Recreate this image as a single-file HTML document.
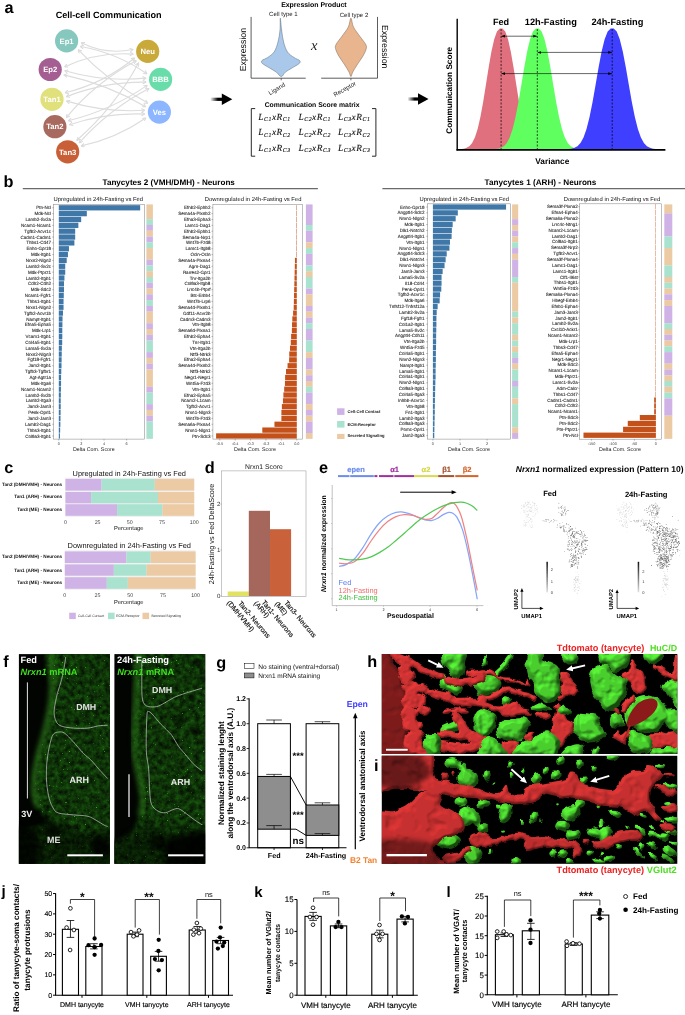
<!DOCTYPE html>
<html><head><meta charset="utf-8"><title>Figure</title>
<style>html,body{margin:0;padding:0;background:#fff}svg{display:block}text{font-family:"Liberation Sans",sans-serif;text-rendering:geometricPrecision}</style>
</head><body>
<svg style="opacity:0.999" width="685" height="1015" viewBox="0 0 685 1015" font-family="Liberation Sans, sans-serif">
<rect width="685" height="1015" fill="#fff"/>
<!-- pa -->
<text font-size="16.30" text-anchor="middle" font-weight="bold" x="9.00" y="12.71">a</text>
<text font-size="9.08" text-anchor="middle" font-weight="bold" x="108.60" y="17.78">Cell-cell Communication</text>
<defs><marker id="ah" viewBox="0 0 10 10" refX="8.6" refY="5" markerWidth="3.6" markerHeight="3.6" orient="auto-start-reverse"><path d="M1.5 0.8L9 5L1.5 9.2" fill="none" stroke="#DADADA" stroke-width="2.4" stroke-linecap="round" stroke-linejoin="round"/></marker></defs>
<g fill="none" stroke="#DCDCDC" stroke-width="1.15" marker-start="url(#ah)" marker-end="url(#ah)">
<path d="M81.3 42.8Q106.0 55.1 133.0 49.5"/>
<path d="M80.3 46.5Q116.6 52.7 146.9 73.8"/>
<path d="M78.3 49.9Q108.7 82.1 147.7 103.1"/>
<path d="M64.8 66.8Q97.3 51.6 133.1 54.1"/>
<path d="M64.9 70.8Q104.7 82.4 145.9 78.1"/>
<path d="M64.0 74.9Q107.3 84.3 145.6 106.7"/>
<path d="M65.2 92.7Q103.9 83.4 134.5 58.0"/>
<path d="M66.6 96.6Q104.9 81.5 146.0 82.1"/>
<path d="M66.7 101.1Q104.9 112.7 144.7 110.3"/>
<path d="M66.4 117.4Q95.6 82.1 136.2 60.7"/>
<path d="M68.4 120.7Q111.0 110.4 147.1 85.4"/>
<path d="M69.6 124.7Q106.2 112.5 144.7 114.1"/>
<path d="M76.9 140.2Q114.7 107.2 138.5 63.0"/>
<path d="M79.4 142.7Q109.2 109.3 148.9 88.5"/>
<path d="M81.3 145.9Q116.3 138.4 145.8 118.0"/>
</g>
<circle cx="66.60" cy="40.90" r="11.60" fill="#86C8BE" />
<text font-size="7.70" text-anchor="middle" font-weight="bold" fill="#fff" x="66.60" y="43.67">Ep1</text>
<circle cx="50.20" cy="69.50" r="11.60" fill="#A45E92" />
<text font-size="7.70" text-anchor="middle" font-weight="bold" fill="#fff" x="50.20" y="72.27">Ep2</text>
<circle cx="52.00" cy="99.30" r="11.60" fill="#E0E07C" />
<text font-size="7.70" text-anchor="middle" font-weight="bold" fill="#fff" x="52.00" y="102.07">Tan1</text>
<circle cx="54.90" cy="126.70" r="11.60" fill="#A86A5E" />
<text font-size="7.70" text-anchor="middle" font-weight="bold" fill="#fff" x="54.90" y="129.47">Tan2</text>
<circle cx="67.70" cy="151.80" r="11.60" fill="#C95F36" />
<text font-size="7.70" text-anchor="middle" font-weight="bold" fill="#fff" x="67.70" y="154.57">Tan3</text>
<circle cx="147.70" cy="51.40" r="11.60" fill="#C9A93A" />
<text font-size="7.70" text-anchor="middle" font-weight="bold" fill="#fff" x="147.70" y="54.17">Neu</text>
<circle cx="160.60" cy="79.40" r="11.60" fill="#68DDAA" />
<text font-size="7.70" text-anchor="middle" font-weight="bold" fill="#fff" x="160.60" y="82.17">BBB</text>
<circle cx="159.40" cy="112.10" r="11.60" fill="#8CB6FF" />
<text font-size="7.70" text-anchor="middle" font-weight="bold" fill="#fff" x="159.40" y="114.87">Ves</text>
<defs><linearGradient id="ag210" x1="0" x2="1"><stop offset="0" stop-color="#000" stop-opacity="0"/><stop offset="0.55" stop-color="#000" stop-opacity="1"/></linearGradient></defs><rect x="210.20" y="97.70" width="14.10" height="3.20" fill="url(#ag210)" /><path d="M221.8 93.5L232.3 99.3L221.8 105.1Z" fill="#000" />
<defs><linearGradient id="ag407" x1="0" x2="1"><stop offset="0" stop-color="#000" stop-opacity="0"/><stop offset="0.55" stop-color="#000" stop-opacity="1"/></linearGradient></defs><rect x="407.50" y="97.40" width="13.00" height="3.20" fill="url(#ag407)" /><path d="M418.0 93.2L428.5 99.0L418.0 104.8Z" fill="#000" />
<text font-size="6.95" text-anchor="middle" font-weight="bold" x="313.90" y="6.73">Expression Product</text>
<text font-size="6.05" text-anchor="middle" fill="#222" x="283.40" y="16.02">Cell type 1</text>
<text font-size="6.05" text-anchor="middle" fill="#222" x="354.00" y="16.52">Cell type 2</text>
<path d="M251.1 16.9V78.2H305.7" fill="none" stroke="#333" stroke-width="0.8" />
<path d="M321.2 78.2H377.5V16.9" fill="none" stroke="#333" stroke-width="0.8" />
<line x1="281.20" y1="78.20" x2="281.20" y2="80.30" stroke="#333" stroke-width="0.7" />
<line x1="350.90" y1="78.20" x2="350.90" y2="80.30" stroke="#333" stroke-width="0.7" />
<text font-size="8.80" text-anchor="middle" transform="translate(243.20 49.60) rotate(-90)" x="0" y="3.08">Expression</text>
<text font-size="8.80" text-anchor="middle" transform="translate(384.60 46.70) rotate(90)" x="0" y="3.08">Expression</text>
<path d="M280.30 18.10C280.57 18.10 281.05 26.02 281.60 30.00C282.15 33.98 282.62 38.33 283.60 42.00C284.58 45.67 285.77 49.42 287.50 52.00C289.23 54.58 291.98 56.08 294.00 57.50C296.02 58.92 298.73 59.50 299.60 60.50C300.47 61.50 300.47 62.25 299.20 63.50C297.93 64.75 294.28 66.58 292.00 68.00C289.72 69.42 287.28 70.57 285.50 72.00C283.72 73.43 282.87 76.60 281.30 76.60C279.73 76.60 278.05 73.43 276.10 72.00C274.15 70.57 271.88 69.42 269.60 68.00C267.32 66.58 263.67 64.75 262.40 63.50C261.13 62.25 261.13 61.50 262.00 60.50C262.87 59.50 265.58 58.92 267.60 57.50C269.62 56.08 272.37 54.58 274.10 52.00C275.83 49.42 277.02 45.67 278.00 42.00C278.98 38.33 279.62 33.98 280.00 30.00C280.38 26.02 280.03 18.10 280.30 18.10Z" fill="#A9C8EA" stroke="#5A6A7A" stroke-width="0.5" />
<path d="M350.90 18.10C351.77 18.10 351.98 23.93 353.50 27.00C355.02 30.07 358.00 33.67 360.00 36.50C362.00 39.33 364.45 42.00 365.50 44.00C366.55 46.00 366.72 46.50 366.30 48.50C365.88 50.50 364.55 53.25 363.00 56.00C361.45 58.75 358.70 62.33 357.00 65.00C355.30 67.67 353.82 70.07 352.80 72.00C351.78 73.93 351.53 76.60 350.90 76.60C350.27 76.60 350.02 73.93 349.00 72.00C347.98 70.07 346.50 67.67 344.80 65.00C343.10 62.33 340.35 58.75 338.80 56.00C337.25 53.25 335.92 50.50 335.50 48.50C335.08 46.50 335.25 46.00 336.30 44.00C337.35 42.00 339.80 39.33 341.80 36.50C343.80 33.67 346.78 30.07 348.30 27.00C349.82 23.93 350.03 18.10 350.90 18.10Z" fill="#E9B58E" stroke="#7A6656" stroke-width="0.5" />
<text font-size="14.50" text-anchor="middle" font-style="italic" fill="#222" style="font-family:'Liberation Serif'" x="314.30" y="50.28">x</text>
<text font-size="6.06" text-anchor="middle" fill="#222" transform="translate(276.80 88.70) rotate(-31)" x="0" y="2.12">Ligand</text>
<text font-size="6.11" text-anchor="middle" fill="#222" transform="translate(344.60 89.00) rotate(-30)" x="0" y="2.14">Receptor</text>
<text font-size="6.84" text-anchor="middle" font-weight="bold" x="312.10" y="106.99">Communication Score matrix</text>
<path d="M255.2 108.6H251.3V156.2H255.2" fill="none" stroke="#111" stroke-width="0.9" />
<path d="M372 108.6H375.9V156.2H372" fill="none" stroke="#111" stroke-width="0.9" />
<text letter-spacing="0.55" stroke="#111" stroke-width="0.12" font-size="9.30" text-anchor="middle" font-style="italic" fill="#111" style="font-family:'Liberation Serif'" x="274.50" y="119.66"><tspan>L</tspan><tspan font-size="5.8" dy="1.7">C1</tspan><tspan dy="-1.7">xR</tspan><tspan font-size="5.8" dy="1.7">C1</tspan></text>
<text letter-spacing="0.55" stroke="#111" stroke-width="0.12" font-size="9.30" text-anchor="middle" font-style="italic" fill="#111" style="font-family:'Liberation Serif'" x="314.70" y="119.66"><tspan>L</tspan><tspan font-size="5.8" dy="1.7">C2</tspan><tspan dy="-1.7">xR</tspan><tspan font-size="5.8" dy="1.7">C1</tspan></text>
<text letter-spacing="0.55" stroke="#111" stroke-width="0.12" font-size="9.30" text-anchor="middle" font-style="italic" fill="#111" style="font-family:'Liberation Serif'" x="354.20" y="119.66"><tspan>L</tspan><tspan font-size="5.8" dy="1.7">C3</tspan><tspan dy="-1.7">xR</tspan><tspan font-size="5.8" dy="1.7">C1</tspan></text>
<text letter-spacing="0.55" stroke="#111" stroke-width="0.12" font-size="9.30" text-anchor="middle" font-style="italic" fill="#111" style="font-family:'Liberation Serif'" x="274.50" y="135.25"><tspan>L</tspan><tspan font-size="5.8" dy="1.7">C1</tspan><tspan dy="-1.7">xR</tspan><tspan font-size="5.8" dy="1.7">C2</tspan></text>
<text letter-spacing="0.55" stroke="#111" stroke-width="0.12" font-size="9.30" text-anchor="middle" font-style="italic" fill="#111" style="font-family:'Liberation Serif'" x="314.70" y="135.25"><tspan>L</tspan><tspan font-size="5.8" dy="1.7">C2</tspan><tspan dy="-1.7">xR</tspan><tspan font-size="5.8" dy="1.7">C2</tspan></text>
<text letter-spacing="0.55" stroke="#111" stroke-width="0.12" font-size="9.30" text-anchor="middle" font-style="italic" fill="#111" style="font-family:'Liberation Serif'" x="354.20" y="135.25"><tspan>L</tspan><tspan font-size="5.8" dy="1.7">C3</tspan><tspan dy="-1.7">xR</tspan><tspan font-size="5.8" dy="1.7">C2</tspan></text>
<text letter-spacing="0.55" stroke="#111" stroke-width="0.12" font-size="9.30" text-anchor="middle" font-style="italic" fill="#111" style="font-family:'Liberation Serif'" x="274.50" y="150.75"><tspan>L</tspan><tspan font-size="5.8" dy="1.7">C1</tspan><tspan dy="-1.7">xR</tspan><tspan font-size="5.8" dy="1.7">C3</tspan></text>
<text letter-spacing="0.55" stroke="#111" stroke-width="0.12" font-size="9.30" text-anchor="middle" font-style="italic" fill="#111" style="font-family:'Liberation Serif'" x="314.70" y="150.75"><tspan>L</tspan><tspan font-size="5.8" dy="1.7">C2</tspan><tspan dy="-1.7">xR</tspan><tspan font-size="5.8" dy="1.7">C3</tspan></text>
<text letter-spacing="0.55" stroke="#111" stroke-width="0.12" font-size="9.30" text-anchor="middle" font-style="italic" fill="#111" style="font-family:'Liberation Serif'" x="354.20" y="150.75"><tspan>L</tspan><tspan font-size="5.8" dy="1.7">C3</tspan><tspan dy="-1.7">xR</tspan><tspan font-size="5.8" dy="1.7">C3</tspan></text>
<text font-size="9.11" text-anchor="middle" font-weight="bold" x="501.00" y="24.69">Fed</text>
<text font-size="9.27" text-anchor="middle" font-weight="bold" x="550.80" y="24.74">12h-Fasting</text>
<text font-size="9.27" text-anchor="middle" font-weight="bold" x="617.40" y="24.74">24h-Fasting</text>
<path d="M458.32 149.20L458.32 149.14L461.08 149.01L463.84 148.67L466.60 147.87L469.36 146.18L472.12 142.98L474.88 137.48L477.64 128.95L480.40 117.00L483.16 101.90L485.92 84.71L488.68 67.20L491.44 51.44L494.20 39.23L496.96 31.61L499.72 28.54L502.48 28.54L505.24 31.61L508.00 39.23L510.76 51.44L513.52 67.20L516.28 84.71L519.04 101.90L521.80 117.00L524.56 128.95L527.32 137.48L530.08 142.98L532.84 146.18L535.60 147.87L538.36 148.67L541.12 149.01L543.88 149.14L543.88 149.20Z" fill="#E0707E" />
<path d="M492.35 149.20L492.35 149.14L495.25 149.01L498.15 148.67L501.05 147.87L503.95 146.18L506.85 142.98L509.75 137.48L512.65 128.95L515.55 117.00L518.45 101.90L521.35 84.71L524.25 67.20L527.15 51.44L530.05 39.23L532.95 31.61L535.85 28.54L538.75 28.54L541.65 31.61L544.55 39.23L547.45 51.44L550.35 67.20L553.25 84.71L556.15 101.90L559.05 117.00L561.95 128.95L564.85 137.48L567.75 142.98L570.65 146.18L573.55 147.87L576.45 148.67L579.35 149.01L582.25 149.14L582.25 149.20Z" fill="#60FF60" />
<path d="M565.39 149.20L565.39 149.14L568.41 149.01L571.43 148.67L574.45 147.87L577.47 146.18L580.49 142.98L583.51 137.48L586.53 128.95L589.55 117.00L592.57 101.90L595.59 84.71L598.61 67.20L601.63 51.44L604.65 39.23L607.67 31.61L610.69 28.54L613.71 28.54L616.73 31.61L619.75 39.23L622.77 51.44L625.79 67.20L628.81 84.71L631.83 101.90L634.85 117.00L637.87 128.95L640.89 137.48L643.91 142.98L646.93 146.18L649.95 147.87L652.97 148.67L655.99 149.01L659.01 149.14L659.01 149.20Z" fill="#3F3FFF" />
<line x1="501.10" y1="29.00" x2="501.10" y2="149.00" stroke="#000" stroke-width="0.7" stroke-dasharray="2 1.5"/>
<line x1="537.30" y1="29.00" x2="537.30" y2="149.00" stroke="#000" stroke-width="0.7" stroke-dasharray="2 1.5"/>
<line x1="612.20" y1="29.00" x2="612.20" y2="149.00" stroke="#000" stroke-width="0.7" stroke-dasharray="2 1.5"/>
<defs><marker id="ab" viewBox="0 0 10 10" refX="9" refY="5" markerWidth="6.5" markerHeight="6.5" orient="auto-start-reverse"><path d="M0 1.5L10 5L0 8.5Z" fill="#000"/></marker></defs>
<line x1="501.60" y1="36.20" x2="536.80" y2="36.20" stroke="#000" stroke-width="0.6" marker-start="url(#ab)" marker-end="url(#ab)"/>
<line x1="537.80" y1="52.40" x2="611.70" y2="52.40" stroke="#000" stroke-width="0.6" marker-start="url(#ab)" marker-end="url(#ab)"/>
<line x1="501.60" y1="73.60" x2="611.70" y2="73.60" stroke="#000" stroke-width="0.6" marker-start="url(#ab)" marker-end="url(#ab)"/>
<line x1="457.20" y1="18.70" x2="457.20" y2="150.60" stroke="#000" stroke-width="1.4" />
<line x1="456.50" y1="149.90" x2="665.40" y2="149.90" stroke="#000" stroke-width="1.8" />
<text font-size="8.20" text-anchor="middle" font-weight="bold" transform="translate(449.30 90.30) rotate(-90)" x="0" y="2.87">Communication Score</text>
<text font-size="8.29" text-anchor="middle" font-weight="bold" x="552.30" y="164.10">Variance</text>
<!-- pb -->
<text font-size="16.30" text-anchor="middle" font-weight="bold" x="8.60" y="186.71">b</text>
<text font-size="8.12" text-anchor="middle" font-weight="bold" x="168.70" y="184.74">Tanycytes 2 (VMH/DMH) - Neurons</text>
<line x1="22.80" y1="188.60" x2="317.90" y2="188.60" stroke="#6A6A6A" stroke-width="1.1" />
<text font-size="8.17" text-anchor="middle" font-weight="bold" x="540.50" y="184.76">Tanycytes 1 (ARH) - Neurons</text>
<line x1="382.40" y1="188.60" x2="685.00" y2="188.60" stroke="#6A6A6A" stroke-width="1.1" />
<text font-size="5.83" text-anchor="middle" fill="#111" x="98.30" y="200.94">Upregulated in 24h-Fasting vs Fed</text>
<rect x="53.60" y="204.30" width="90.90" height="234.80" fill="#fff" stroke="#8A8A8A" stroke-width="0.55" />
<g fill="#3F78A8">
<rect x="58.80" y="205.17" width="81.36" height="5.26"/>
<rect x="58.80" y="211.02" width="28.02" height="5.26"/>
<rect x="58.80" y="216.87" width="22.37" height="5.26"/>
<rect x="58.80" y="222.72" width="19.55" height="5.26"/>
<rect x="58.80" y="228.57" width="16.39" height="5.26"/>
<rect x="58.80" y="234.42" width="16.39" height="5.26"/>
<rect x="58.80" y="240.27" width="15.59" height="5.26"/>
<rect x="58.80" y="246.12" width="10.17" height="5.26"/>
<rect x="58.80" y="251.97" width="9.15" height="5.26"/>
<rect x="58.80" y="257.82" width="7.91" height="5.26"/>
<rect x="58.80" y="263.67" width="6.44" height="5.26"/>
<rect x="58.80" y="269.52" width="6.44" height="5.26"/>
<rect x="58.80" y="275.37" width="5.65" height="5.26"/>
<rect x="58.80" y="281.22" width="5.20" height="5.26"/>
<rect x="58.80" y="287.07" width="5.20" height="5.26"/>
<rect x="58.80" y="292.92" width="4.97" height="5.26"/>
<rect x="58.80" y="298.77" width="4.75" height="5.26"/>
<rect x="58.80" y="304.62" width="4.75" height="5.26"/>
<rect x="58.80" y="310.47" width="4.18" height="5.26"/>
<rect x="58.80" y="316.32" width="3.73" height="5.26"/>
<rect x="58.80" y="322.17" width="3.62" height="5.26"/>
<rect x="58.80" y="328.02" width="3.50" height="5.26"/>
<rect x="58.80" y="333.87" width="3.50" height="5.26"/>
<rect x="58.80" y="339.72" width="3.39" height="5.26"/>
<rect x="58.80" y="345.57" width="3.05" height="5.26"/>
<rect x="58.80" y="351.42" width="2.94" height="5.26"/>
<rect x="58.80" y="357.27" width="2.83" height="5.26"/>
<rect x="58.80" y="363.12" width="2.71" height="5.26"/>
<rect x="58.80" y="368.97" width="2.49" height="5.26"/>
<rect x="58.80" y="374.82" width="2.26" height="5.26"/>
<rect x="58.80" y="380.67" width="2.26" height="5.26"/>
<rect x="58.80" y="386.52" width="2.15" height="5.26"/>
<rect x="58.80" y="392.37" width="2.03" height="5.26"/>
<rect x="58.80" y="398.22" width="1.92" height="5.26"/>
<rect x="58.80" y="404.07" width="1.92" height="5.26"/>
<rect x="58.80" y="409.92" width="1.81" height="5.26"/>
<rect x="58.80" y="415.77" width="1.70" height="5.26"/>
<rect x="58.80" y="421.62" width="1.58" height="5.26"/>
<rect x="58.80" y="427.47" width="1.36" height="5.26"/>
<rect x="58.80" y="433.32" width="1.13" height="5.26"/>
</g>
<g font-size="4.5" text-anchor="end" fill="#2E2E2E" stroke="#2E2E2E" stroke-width="0.1">
<text x="51.00" y="209.35">Ptn-Ncl</text>
<text x="51.00" y="215.20">Mdk-Ncl</text>
<text x="51.00" y="221.05">Lamb2-Sv2a</text>
<text x="51.00" y="226.90">Ncam1-Ncam1</text>
<text x="51.00" y="232.75">Tgfb2-Acvr1c</text>
<text x="51.00" y="238.60">Cadm1-Cadm1</text>
<text x="51.00" y="244.45">Thbs1-Cd47</text>
<text x="51.00" y="250.30">Enho-Gpr19</text>
<text x="51.00" y="256.15">Mdk-Itgb1</text>
<text x="51.00" y="262.00">Nrxn2-Nlgn2</text>
<text x="51.00" y="267.85">Lamb2-Sv2c</text>
<text x="51.00" y="273.70">Mdk-Ptprz1</text>
<text x="51.00" y="279.55">Lamb2-Itgb1</text>
<text x="51.00" y="285.40">Cdh2-Cdh2</text>
<text x="51.00" y="291.25">Mdk-Sdc2</text>
<text x="51.00" y="297.10">Ncam1-Fgfr1</text>
<text x="51.00" y="302.95">Thbs1-Itgb1</text>
<text x="51.00" y="308.80">Nrxn1-Nlgn2</text>
<text x="51.00" y="314.65">Tgfb2-Acvr1b</text>
<text x="51.00" y="320.50">Nampt-Itgb1</text>
<text x="51.00" y="326.35">Efna5-Epha5</text>
<text x="51.00" y="332.20">Mdk-Lrp1</text>
<text x="51.00" y="338.05">Vcam1-Itgb1</text>
<text x="51.00" y="343.90">Col4a5-Itgb1</text>
<text x="51.00" y="349.75">Lama5-Sv2a</text>
<text x="51.00" y="355.60">Nrxn2-Nlgn3</text>
<text x="51.00" y="361.45">Fgf18-Fgfr1</text>
<text x="51.00" y="367.30">Jam2-Itgb1</text>
<text x="51.00" y="373.15">Tgfb3-Tgfbr1</text>
<text x="51.00" y="379.00">Agt-Agtr1a</text>
<text x="51.00" y="384.85">Mdk-Itga6</text>
<text x="51.00" y="390.70">Ncam1-Ncam2</text>
<text x="51.00" y="396.55">Lamb2-Sv2b</text>
<text x="51.00" y="402.40">Lamb2-Itga3</text>
<text x="51.00" y="408.25">Jam3-Jam3</text>
<text x="51.00" y="414.10">Penk-Oprl1</text>
<text x="51.00" y="419.95">Jam2-Jam3</text>
<text x="51.00" y="425.80">Lamb2-Dag1</text>
<text x="51.00" y="431.65">Thbs3-Itgb1</text>
<text x="51.00" y="437.50">Col9a3-Itgb1</text>
</g>
<g stroke="#555" stroke-width="0.4">
<path d="M53.60 207.80h-1.4"/>
<path d="M53.60 213.65h-1.4"/>
<path d="M53.60 219.50h-1.4"/>
<path d="M53.60 225.35h-1.4"/>
<path d="M53.60 231.20h-1.4"/>
<path d="M53.60 237.05h-1.4"/>
<path d="M53.60 242.90h-1.4"/>
<path d="M53.60 248.75h-1.4"/>
<path d="M53.60 254.60h-1.4"/>
<path d="M53.60 260.45h-1.4"/>
<path d="M53.60 266.30h-1.4"/>
<path d="M53.60 272.15h-1.4"/>
<path d="M53.60 278.00h-1.4"/>
<path d="M53.60 283.85h-1.4"/>
<path d="M53.60 289.70h-1.4"/>
<path d="M53.60 295.55h-1.4"/>
<path d="M53.60 301.40h-1.4"/>
<path d="M53.60 307.25h-1.4"/>
<path d="M53.60 313.10h-1.4"/>
<path d="M53.60 318.95h-1.4"/>
<path d="M53.60 324.80h-1.4"/>
<path d="M53.60 330.65h-1.4"/>
<path d="M53.60 336.50h-1.4"/>
<path d="M53.60 342.35h-1.4"/>
<path d="M53.60 348.20h-1.4"/>
<path d="M53.60 354.05h-1.4"/>
<path d="M53.60 359.90h-1.4"/>
<path d="M53.60 365.75h-1.4"/>
<path d="M53.60 371.60h-1.4"/>
<path d="M53.60 377.45h-1.4"/>
<path d="M53.60 383.30h-1.4"/>
<path d="M53.60 389.15h-1.4"/>
<path d="M53.60 395.00h-1.4"/>
<path d="M53.60 400.85h-1.4"/>
<path d="M53.60 406.70h-1.4"/>
<path d="M53.60 412.55h-1.4"/>
<path d="M53.60 418.40h-1.4"/>
<path d="M53.60 424.25h-1.4"/>
<path d="M53.60 430.10h-1.4"/>
<path d="M53.60 435.95h-1.4"/>
<path d="M58.80 439.10v1.4"/>
<path d="M81.40 439.10v1.4"/>
<path d="M104.00 439.10v1.4"/>
<path d="M126.60 439.10v1.4"/>
</g>
<text font-size="3.80" text-anchor="middle" fill="#444" x="58.80" y="444.73">0</text>
<text font-size="3.80" text-anchor="middle" fill="#444" x="81.40" y="444.73">2</text>
<text font-size="3.80" text-anchor="middle" fill="#444" x="104.00" y="444.73">4</text>
<text font-size="3.80" text-anchor="middle" fill="#444" x="126.60" y="444.73">6</text>
<text font-size="5.30" text-anchor="middle" fill="#222" x="93.80" y="451.46">Delta Com. Score</text>
<rect x="146.40" y="204.40" width="6.50" height="14.81" fill="#EBCAA4" />
<rect x="146.40" y="219.16" width="6.50" height="5.83" fill="#A9E2CF" />
<rect x="146.40" y="224.94" width="6.50" height="5.83" fill="#D0B3E6" />
<rect x="146.40" y="230.72" width="6.50" height="5.83" fill="#EBCAA4" />
<rect x="146.40" y="236.50" width="6.50" height="5.83" fill="#D0B3E6" />
<rect x="146.40" y="242.28" width="6.50" height="5.83" fill="#A9E2CF" />
<rect x="146.40" y="248.06" width="6.50" height="11.61" fill="#EBCAA4" />
<rect x="146.40" y="259.62" width="6.50" height="5.83" fill="#D0B3E6" />
<rect x="146.40" y="265.40" width="6.50" height="5.83" fill="#A9E2CF" />
<rect x="146.40" y="271.18" width="6.50" height="5.83" fill="#EBCAA4" />
<rect x="146.40" y="276.96" width="6.50" height="5.83" fill="#A9E2CF" />
<rect x="146.40" y="282.74" width="6.50" height="5.83" fill="#D0B3E6" />
<rect x="146.40" y="288.52" width="6.50" height="5.83" fill="#EBCAA4" />
<rect x="146.40" y="294.30" width="6.50" height="5.83" fill="#D0B3E6" />
<rect x="146.40" y="300.08" width="6.50" height="5.83" fill="#A9E2CF" />
<rect x="146.40" y="305.86" width="6.50" height="5.83" fill="#D0B3E6" />
<rect x="146.40" y="311.64" width="6.50" height="11.61" fill="#EBCAA4" />
<rect x="146.40" y="323.20" width="6.50" height="5.83" fill="#D0B3E6" />
<rect x="146.40" y="328.98" width="6.50" height="5.83" fill="#EBCAA4" />
<rect x="146.40" y="334.76" width="6.50" height="5.83" fill="#D0B3E6" />
<rect x="146.40" y="340.54" width="6.50" height="11.61" fill="#A9E2CF" />
<rect x="146.40" y="352.10" width="6.50" height="5.83" fill="#D0B3E6" />
<rect x="146.40" y="357.88" width="6.50" height="5.83" fill="#EBCAA4" />
<rect x="146.40" y="363.66" width="6.50" height="5.83" fill="#D0B3E6" />
<rect x="146.40" y="369.44" width="6.50" height="17.39" fill="#EBCAA4" />
<rect x="146.40" y="386.78" width="6.50" height="5.83" fill="#D0B3E6" />
<rect x="146.40" y="392.56" width="6.50" height="11.61" fill="#A9E2CF" />
<rect x="146.40" y="404.12" width="6.50" height="5.83" fill="#D0B3E6" />
<rect x="146.40" y="409.90" width="6.50" height="5.83" fill="#EBCAA4" />
<rect x="146.40" y="415.68" width="6.50" height="5.83" fill="#D0B3E6" />
<rect x="146.40" y="421.46" width="6.50" height="17.39" fill="#A9E2CF" />
<text font-size="5.82" text-anchor="middle" fill="#111" x="253.10" y="200.94">Downregulated in 24h-Fasting vs Fed</text>
<rect x="212.90" y="204.30" width="89.60" height="234.80" fill="#fff" stroke="#8A8A8A" stroke-width="0.55" />
<g fill="#C4501A">
<rect x="296.34" y="205.17" width="0.46" height="5.26"/>
<rect x="296.34" y="211.02" width="0.46" height="5.26"/>
<rect x="296.34" y="216.87" width="0.46" height="5.26"/>
<rect x="296.34" y="222.72" width="0.46" height="5.26"/>
<rect x="296.34" y="228.57" width="0.46" height="5.26"/>
<rect x="296.34" y="234.42" width="0.46" height="5.26"/>
<rect x="296.34" y="240.27" width="0.46" height="5.26"/>
<rect x="296.34" y="246.12" width="0.46" height="5.26"/>
<rect x="296.34" y="251.97" width="0.46" height="5.26"/>
<rect x="294.95" y="257.82" width="1.85" height="5.26"/>
<rect x="294.80" y="263.67" width="2.00" height="5.26"/>
<rect x="294.64" y="269.52" width="2.16" height="5.26"/>
<rect x="294.49" y="275.37" width="2.31" height="5.26"/>
<rect x="294.34" y="281.22" width="2.46" height="5.26"/>
<rect x="294.18" y="287.07" width="2.62" height="5.26"/>
<rect x="294.03" y="292.92" width="2.77" height="5.26"/>
<rect x="293.87" y="298.77" width="2.93" height="5.26"/>
<rect x="293.72" y="304.62" width="3.08" height="5.26"/>
<rect x="293.10" y="310.47" width="3.70" height="5.26"/>
<rect x="292.33" y="316.32" width="4.47" height="5.26"/>
<rect x="292.03" y="322.17" width="4.77" height="5.26"/>
<rect x="291.87" y="328.02" width="4.93" height="5.26"/>
<rect x="291.10" y="333.87" width="5.70" height="5.26"/>
<rect x="290.79" y="339.72" width="6.01" height="5.26"/>
<rect x="290.02" y="345.57" width="6.78" height="5.26"/>
<rect x="289.25" y="351.42" width="7.55" height="5.26"/>
<rect x="289.10" y="357.27" width="7.70" height="5.26"/>
<rect x="287.56" y="363.12" width="9.24" height="5.26"/>
<rect x="286.02" y="368.97" width="10.78" height="5.26"/>
<rect x="285.10" y="374.82" width="11.70" height="5.26"/>
<rect x="284.94" y="380.67" width="11.86" height="5.26"/>
<rect x="284.17" y="386.52" width="12.63" height="5.26"/>
<rect x="283.40" y="392.37" width="13.40" height="5.26"/>
<rect x="282.94" y="398.22" width="13.86" height="5.26"/>
<rect x="281.86" y="404.07" width="14.94" height="5.26"/>
<rect x="281.40" y="409.92" width="15.40" height="5.26"/>
<rect x="281.40" y="415.77" width="15.40" height="5.26"/>
<rect x="274.47" y="421.62" width="22.33" height="5.26"/>
<rect x="262.30" y="427.47" width="34.50" height="5.26"/>
<rect x="216.10" y="433.32" width="80.70" height="5.26"/>
</g>
<g font-size="4.5" text-anchor="end" fill="#2E2E2E" stroke="#2E2E2E" stroke-width="0.1">
<text x="210.40" y="209.35">Efnb2-Ephb2</text>
<text x="210.40" y="215.20">Sema4a-Plxnb2</text>
<text x="210.40" y="221.05">Efna3-Epha3</text>
<text x="210.40" y="226.90">Lamc1-Dag1</text>
<text x="210.40" y="232.75">Efnb2-Ephb1</text>
<text x="210.40" y="238.60">Sema4a-Nrp1</text>
<text x="210.40" y="244.45">Wnt7b-Fzd8</text>
<text x="210.40" y="250.30">Lamc1-Itgb8</text>
<text x="210.40" y="256.15">Ocln-Ocln</text>
<text x="210.40" y="262.00">Sema4a-Plxna4</text>
<text x="210.40" y="267.85">Agrn-Dag1</text>
<text x="210.40" y="273.70">Rarres2-Gpr1</text>
<text x="210.40" y="279.55">Tnr-Itga2b</text>
<text x="210.40" y="285.40">Col9a3-Itgb8</text>
<text x="210.40" y="291.25">Lrrc4b-Ptprf</text>
<text x="210.40" y="297.10">Btc-Erbb4</text>
<text x="210.40" y="302.95">Wnt7b-Lrp6</text>
<text x="210.40" y="308.80">Sema4d-Plxnb1</text>
<text x="210.40" y="314.65">Gdf11-Acvr2b</text>
<text x="210.40" y="320.50">Cadm3-Cadm3</text>
<text x="210.40" y="326.35">Vtn-Itgb8</text>
<text x="210.40" y="332.20">Sema6d-Plxna1</text>
<text x="210.40" y="338.05">Efnb2-Epha4</text>
<text x="210.40" y="343.90">Tnr-Itgb1</text>
<text x="210.40" y="349.75">Vtn-Itga2b</text>
<text x="210.40" y="355.60">Ntf3-Ntrk3</text>
<text x="210.40" y="361.45">Efna2-Epha4</text>
<text x="210.40" y="367.30">Sema4d-Plxnb2</text>
<text x="210.40" y="373.15">Ntf3-Ntrk2</text>
<text x="210.40" y="379.00">Negr1-Negr1</text>
<text x="210.40" y="384.85">Wnt5a-Fzd3</text>
<text x="210.40" y="390.70">Vtn-Itgb1</text>
<text x="210.40" y="396.55">Efna2-Epha5</text>
<text x="210.40" y="402.40">Ncam2-L1cam</text>
<text x="210.40" y="408.25">Tgfb2-Acvr1</text>
<text x="210.40" y="414.10">Nrxn1-Nlgn3</text>
<text x="210.40" y="419.95">Wnt7b-Fzd3</text>
<text x="210.40" y="425.80">Sema6a-Plxna4</text>
<text x="210.40" y="431.65">Nrxn1-Nlgn1</text>
<text x="210.40" y="437.50">Ptn-Sdc3</text>
</g>
<g stroke="#555" stroke-width="0.4">
<path d="M212.90 207.80h-1.4"/>
<path d="M212.90 213.65h-1.4"/>
<path d="M212.90 219.50h-1.4"/>
<path d="M212.90 225.35h-1.4"/>
<path d="M212.90 231.20h-1.4"/>
<path d="M212.90 237.05h-1.4"/>
<path d="M212.90 242.90h-1.4"/>
<path d="M212.90 248.75h-1.4"/>
<path d="M212.90 254.60h-1.4"/>
<path d="M212.90 260.45h-1.4"/>
<path d="M212.90 266.30h-1.4"/>
<path d="M212.90 272.15h-1.4"/>
<path d="M212.90 278.00h-1.4"/>
<path d="M212.90 283.85h-1.4"/>
<path d="M212.90 289.70h-1.4"/>
<path d="M212.90 295.55h-1.4"/>
<path d="M212.90 301.40h-1.4"/>
<path d="M212.90 307.25h-1.4"/>
<path d="M212.90 313.10h-1.4"/>
<path d="M212.90 318.95h-1.4"/>
<path d="M212.90 324.80h-1.4"/>
<path d="M212.90 330.65h-1.4"/>
<path d="M212.90 336.50h-1.4"/>
<path d="M212.90 342.35h-1.4"/>
<path d="M212.90 348.20h-1.4"/>
<path d="M212.90 354.05h-1.4"/>
<path d="M212.90 359.90h-1.4"/>
<path d="M212.90 365.75h-1.4"/>
<path d="M212.90 371.60h-1.4"/>
<path d="M212.90 377.45h-1.4"/>
<path d="M212.90 383.30h-1.4"/>
<path d="M212.90 389.15h-1.4"/>
<path d="M212.90 395.00h-1.4"/>
<path d="M212.90 400.85h-1.4"/>
<path d="M212.90 406.70h-1.4"/>
<path d="M212.90 412.55h-1.4"/>
<path d="M212.90 418.40h-1.4"/>
<path d="M212.90 424.25h-1.4"/>
<path d="M212.90 430.10h-1.4"/>
<path d="M212.90 435.95h-1.4"/>
<path d="M296.80 439.10v1.4"/>
<path d="M281.40 439.10v1.4"/>
<path d="M266.00 439.10v1.4"/>
<path d="M250.60 439.10v1.4"/>
<path d="M235.20 439.10v1.4"/>
<path d="M219.80 439.10v1.4"/>
</g>
<text font-size="3.80" text-anchor="middle" fill="#444" x="296.80" y="444.73">0.0</text>
<text font-size="3.80" text-anchor="middle" fill="#444" x="281.40" y="444.73">-0.1</text>
<text font-size="3.80" text-anchor="middle" fill="#444" x="266.00" y="444.73">-0.2</text>
<text font-size="3.80" text-anchor="middle" fill="#444" x="250.60" y="444.73">-0.3</text>
<text font-size="3.80" text-anchor="middle" fill="#444" x="235.20" y="444.73">-0.4</text>
<text font-size="3.80" text-anchor="middle" fill="#444" x="219.80" y="444.73">-0.5</text>
<text font-size="5.30" text-anchor="middle" fill="#222" x="255.00" y="451.46">Delta Com. Score</text>
<rect x="305.90" y="204.40" width="6.70" height="20.59" fill="#D0B3E6" />
<rect x="305.90" y="224.94" width="6.70" height="5.83" fill="#A9E2CF" />
<rect x="305.90" y="230.72" width="6.70" height="11.61" fill="#D0B3E6" />
<rect x="305.90" y="242.28" width="6.70" height="5.83" fill="#EBCAA4" />
<rect x="305.90" y="248.06" width="6.70" height="5.83" fill="#A9E2CF" />
<rect x="305.90" y="253.84" width="6.70" height="11.61" fill="#D0B3E6" />
<rect x="305.90" y="265.40" width="6.70" height="5.83" fill="#A9E2CF" />
<rect x="305.90" y="271.18" width="6.70" height="5.83" fill="#EBCAA4" />
<rect x="305.90" y="276.96" width="6.70" height="11.61" fill="#A9E2CF" />
<rect x="305.90" y="288.52" width="6.70" height="5.83" fill="#D0B3E6" />
<rect x="305.90" y="294.30" width="6.70" height="11.61" fill="#EBCAA4" />
<rect x="305.90" y="305.86" width="6.70" height="5.83" fill="#D0B3E6" />
<rect x="305.90" y="311.64" width="6.70" height="5.83" fill="#EBCAA4" />
<rect x="305.90" y="317.42" width="6.70" height="5.83" fill="#D0B3E6" />
<rect x="305.90" y="323.20" width="6.70" height="5.83" fill="#A9E2CF" />
<rect x="305.90" y="328.98" width="6.70" height="11.61" fill="#D0B3E6" />
<rect x="305.90" y="340.54" width="6.70" height="11.61" fill="#A9E2CF" />
<rect x="305.90" y="352.10" width="6.70" height="5.83" fill="#EBCAA4" />
<rect x="305.90" y="357.88" width="6.70" height="11.61" fill="#D0B3E6" />
<rect x="305.90" y="369.44" width="6.70" height="5.83" fill="#EBCAA4" />
<rect x="305.90" y="375.22" width="6.70" height="5.83" fill="#D0B3E6" />
<rect x="305.90" y="381.00" width="6.70" height="5.83" fill="#EBCAA4" />
<rect x="305.90" y="386.78" width="6.70" height="5.83" fill="#A9E2CF" />
<rect x="305.90" y="392.56" width="6.70" height="11.61" fill="#D0B3E6" />
<rect x="305.90" y="404.12" width="6.70" height="5.83" fill="#EBCAA4" />
<rect x="305.90" y="409.90" width="6.70" height="5.83" fill="#D0B3E6" />
<rect x="305.90" y="415.68" width="6.70" height="5.83" fill="#EBCAA4" />
<rect x="305.90" y="421.46" width="6.70" height="11.61" fill="#D0B3E6" />
<rect x="305.90" y="433.02" width="6.70" height="5.83" fill="#EBCAA4" />
<text font-size="5.83" text-anchor="middle" fill="#111" x="464.30" y="200.94">Upregulated in 24h-Fasting vs Fed</text>
<rect x="427.60" y="203.80" width="82.90" height="235.30" fill="#fff" stroke="#8A8A8A" stroke-width="0.55" />
<g fill="#3F78A8">
<rect x="432.90" y="204.36" width="73.17" height="5.27"/>
<rect x="432.90" y="210.22" width="24.93" height="5.27"/>
<rect x="432.90" y="216.08" width="22.76" height="5.27"/>
<rect x="432.90" y="221.94" width="19.78" height="5.27"/>
<rect x="432.90" y="227.80" width="18.97" height="5.27"/>
<rect x="432.90" y="233.66" width="18.70" height="5.27"/>
<rect x="432.90" y="239.52" width="17.07" height="5.27"/>
<rect x="432.90" y="245.38" width="16.53" height="5.27"/>
<rect x="432.90" y="251.24" width="13.82" height="5.27"/>
<rect x="432.90" y="257.10" width="12.74" height="5.27"/>
<rect x="432.90" y="262.96" width="11.65" height="5.27"/>
<rect x="432.90" y="268.82" width="9.76" height="5.27"/>
<rect x="432.90" y="274.68" width="8.67" height="5.27"/>
<rect x="432.90" y="280.54" width="8.67" height="5.27"/>
<rect x="432.90" y="286.40" width="8.40" height="5.27"/>
<rect x="432.90" y="292.26" width="7.18" height="5.27"/>
<rect x="432.90" y="298.12" width="6.77" height="5.27"/>
<rect x="432.90" y="303.98" width="4.74" height="5.27"/>
<rect x="432.90" y="309.84" width="3.79" height="5.27"/>
<rect x="432.90" y="315.70" width="3.52" height="5.27"/>
<rect x="432.90" y="321.56" width="3.52" height="5.27"/>
<rect x="432.90" y="327.42" width="3.39" height="5.27"/>
<rect x="432.90" y="333.28" width="3.25" height="5.27"/>
<rect x="432.90" y="339.14" width="3.25" height="5.27"/>
<rect x="432.90" y="345.00" width="3.12" height="5.27"/>
<rect x="432.90" y="350.86" width="2.98" height="5.27"/>
<rect x="432.90" y="356.72" width="2.98" height="5.27"/>
<rect x="432.90" y="362.58" width="2.85" height="5.27"/>
<rect x="432.90" y="368.44" width="2.71" height="5.27"/>
<rect x="432.90" y="374.30" width="2.71" height="5.27"/>
<rect x="432.90" y="380.16" width="2.44" height="5.27"/>
<rect x="432.90" y="386.02" width="2.30" height="5.27"/>
<rect x="432.90" y="391.88" width="2.17" height="5.27"/>
<rect x="432.90" y="397.74" width="2.03" height="5.27"/>
<rect x="432.90" y="403.60" width="1.90" height="5.27"/>
<rect x="432.90" y="409.46" width="1.90" height="5.27"/>
<rect x="432.90" y="415.32" width="1.76" height="5.27"/>
<rect x="432.90" y="421.18" width="1.63" height="5.27"/>
<rect x="432.90" y="427.04" width="1.49" height="5.27"/>
<rect x="432.90" y="432.90" width="1.36" height="5.27"/>
</g>
<g font-size="4.5" text-anchor="end" fill="#2E2E2E" stroke="#2E2E2E" stroke-width="0.1">
<text x="424.60" y="208.55">Enho-Gpr19</text>
<text x="424.60" y="214.41">Angptl4-Sdc2</text>
<text x="424.60" y="220.27">Nrxn1-Nlgn2</text>
<text x="424.60" y="226.13">Mdk-Itgb1</text>
<text x="424.60" y="231.99">Dlk1-Notch2</text>
<text x="424.60" y="237.85">Angptl4-Itgb1</text>
<text x="424.60" y="243.71">Vtn-Itgb1</text>
<text x="424.60" y="249.57">Nrxn1-Nlgn1</text>
<text x="424.60" y="255.43">Angptl4-Sdc3</text>
<text x="424.60" y="261.29">Dlk1-Notch4</text>
<text x="424.60" y="267.15">Nrxn1-Nlgn3</text>
<text x="424.60" y="273.01">Jam3-Jam3</text>
<text x="424.60" y="278.87">Lama5-Sv2a</text>
<text x="424.60" y="284.73">Il18-Cd44</text>
<text x="424.60" y="290.59">Penk-Oprl1</text>
<text x="424.60" y="296.45">Tgfb2-Acvr1c</text>
<text x="424.60" y="302.31">Mdk-Itga6</text>
<text x="424.60" y="308.17">Tnfsf12-Tnfrsf12a</text>
<text x="424.60" y="314.03">Lamb2-Sv2a</text>
<text x="424.60" y="319.89">Fgf18-Fgfr1</text>
<text x="424.60" y="325.75">Col1a2-Itgb1</text>
<text x="424.60" y="331.61">Lama5-Sv2c</text>
<text x="424.60" y="337.47">Angptl4-Cdh11</text>
<text x="424.60" y="343.33">Vtn-Itga2b</text>
<text x="424.60" y="349.19">Wnt5a-Fzd5</text>
<text x="424.60" y="355.05">Col4a5-Itgb1</text>
<text x="424.60" y="360.91">Nrxn2-Nlgn3</text>
<text x="424.60" y="366.77">Nampt-Itgb1</text>
<text x="424.60" y="372.63">Lama5-Itgb1</text>
<text x="424.60" y="378.49">Col4a1-Itgb1</text>
<text x="424.60" y="384.35">Nrxn2-Nlgn1</text>
<text x="424.60" y="390.21">Col9a3-Itgb1</text>
<text x="424.60" y="396.07">Col4a5-Itga3</text>
<text x="424.60" y="401.93">Inhbb-Acvr1c</text>
<text x="424.60" y="407.79">Vtn-Itgb8</text>
<text x="424.60" y="413.65">Fn1-Itgb1</text>
<text x="424.60" y="419.51">Lamb2-Itga3</text>
<text x="424.60" y="425.37">Col9a3-Itga3</text>
<text x="424.60" y="431.23">Pomc-Oprl1</text>
<text x="424.60" y="437.09">Jam2-Itga3</text>
</g>
<g stroke="#555" stroke-width="0.4">
<path d="M427.60 207.00h-1.4"/>
<path d="M427.60 212.86h-1.4"/>
<path d="M427.60 218.72h-1.4"/>
<path d="M427.60 224.58h-1.4"/>
<path d="M427.60 230.44h-1.4"/>
<path d="M427.60 236.30h-1.4"/>
<path d="M427.60 242.16h-1.4"/>
<path d="M427.60 248.02h-1.4"/>
<path d="M427.60 253.88h-1.4"/>
<path d="M427.60 259.74h-1.4"/>
<path d="M427.60 265.60h-1.4"/>
<path d="M427.60 271.46h-1.4"/>
<path d="M427.60 277.32h-1.4"/>
<path d="M427.60 283.18h-1.4"/>
<path d="M427.60 289.04h-1.4"/>
<path d="M427.60 294.90h-1.4"/>
<path d="M427.60 300.76h-1.4"/>
<path d="M427.60 306.62h-1.4"/>
<path d="M427.60 312.48h-1.4"/>
<path d="M427.60 318.34h-1.4"/>
<path d="M427.60 324.20h-1.4"/>
<path d="M427.60 330.06h-1.4"/>
<path d="M427.60 335.92h-1.4"/>
<path d="M427.60 341.78h-1.4"/>
<path d="M427.60 347.64h-1.4"/>
<path d="M427.60 353.50h-1.4"/>
<path d="M427.60 359.36h-1.4"/>
<path d="M427.60 365.22h-1.4"/>
<path d="M427.60 371.08h-1.4"/>
<path d="M427.60 376.94h-1.4"/>
<path d="M427.60 382.80h-1.4"/>
<path d="M427.60 388.66h-1.4"/>
<path d="M427.60 394.52h-1.4"/>
<path d="M427.60 400.38h-1.4"/>
<path d="M427.60 406.24h-1.4"/>
<path d="M427.60 412.10h-1.4"/>
<path d="M427.60 417.96h-1.4"/>
<path d="M427.60 423.82h-1.4"/>
<path d="M427.60 429.68h-1.4"/>
<path d="M427.60 435.54h-1.4"/>
<path d="M432.90 439.10v1.4"/>
<path d="M460.00 439.10v1.4"/>
<path d="M487.10 439.10v1.4"/>
</g>
<text font-size="3.80" text-anchor="middle" fill="#444" x="432.90" y="444.73">0</text>
<text font-size="3.80" text-anchor="middle" fill="#444" x="460.00" y="444.73">1</text>
<text font-size="3.80" text-anchor="middle" fill="#444" x="487.10" y="444.73">2</text>
<text font-size="5.30" text-anchor="middle" fill="#222" x="469.00" y="451.46">Delta Com. Score</text>
<rect x="512.10" y="204.40" width="6.10" height="14.81" fill="#EBCAA4" />
<rect x="512.10" y="219.16" width="6.10" height="5.83" fill="#D0B3E6" />
<rect x="512.10" y="224.94" width="6.10" height="5.83" fill="#EBCAA4" />
<rect x="512.10" y="230.72" width="6.10" height="5.83" fill="#D0B3E6" />
<rect x="512.10" y="236.50" width="6.10" height="5.83" fill="#EBCAA4" />
<rect x="512.10" y="242.28" width="6.10" height="5.83" fill="#A9E2CF" />
<rect x="512.10" y="248.06" width="6.10" height="5.83" fill="#D0B3E6" />
<rect x="512.10" y="253.84" width="6.10" height="5.83" fill="#EBCAA4" />
<rect x="512.10" y="259.62" width="6.10" height="17.39" fill="#D0B3E6" />
<rect x="512.10" y="276.96" width="6.10" height="5.83" fill="#A9E2CF" />
<rect x="512.10" y="282.74" width="6.10" height="28.95" fill="#EBCAA4" />
<rect x="512.10" y="311.64" width="6.10" height="5.83" fill="#A9E2CF" />
<rect x="512.10" y="317.42" width="6.10" height="5.83" fill="#EBCAA4" />
<rect x="512.10" y="323.20" width="6.10" height="11.61" fill="#A9E2CF" />
<rect x="512.10" y="334.76" width="6.10" height="5.83" fill="#EBCAA4" />
<rect x="512.10" y="340.54" width="6.10" height="5.83" fill="#A9E2CF" />
<rect x="512.10" y="346.32" width="6.10" height="5.83" fill="#EBCAA4" />
<rect x="512.10" y="352.10" width="6.10" height="5.83" fill="#A9E2CF" />
<rect x="512.10" y="357.88" width="6.10" height="5.83" fill="#D0B3E6" />
<rect x="512.10" y="363.66" width="6.10" height="5.83" fill="#EBCAA4" />
<rect x="512.10" y="369.44" width="6.10" height="11.61" fill="#A9E2CF" />
<rect x="512.10" y="381.00" width="6.10" height="5.83" fill="#D0B3E6" />
<rect x="512.10" y="386.78" width="6.10" height="11.61" fill="#A9E2CF" />
<rect x="512.10" y="398.34" width="6.10" height="5.83" fill="#EBCAA4" />
<rect x="512.10" y="404.12" width="6.10" height="23.17" fill="#A9E2CF" />
<rect x="512.10" y="427.24" width="6.10" height="5.83" fill="#EBCAA4" />
<rect x="512.10" y="433.02" width="6.10" height="5.83" fill="#D0B3E6" />
<text font-size="5.82" text-anchor="middle" fill="#111" x="612.00" y="200.94">Downregulated in 24h-Fasting vs Fed</text>
<rect x="579.60" y="203.80" width="81.90" height="235.40" fill="#fff" stroke="#8A8A8A" stroke-width="0.55" />
<g fill="#C4501A">
<rect x="655.51" y="204.06" width="0.39" height="5.27"/>
<rect x="655.51" y="209.92" width="0.39" height="5.27"/>
<rect x="655.51" y="215.78" width="0.39" height="5.27"/>
<rect x="655.51" y="221.64" width="0.39" height="5.27"/>
<rect x="655.51" y="227.50" width="0.39" height="5.27"/>
<rect x="655.51" y="233.36" width="0.39" height="5.27"/>
<rect x="655.51" y="239.22" width="0.39" height="5.27"/>
<rect x="655.51" y="245.08" width="0.39" height="5.27"/>
<rect x="655.51" y="250.94" width="0.39" height="5.27"/>
<rect x="655.51" y="256.80" width="0.39" height="5.27"/>
<rect x="655.51" y="262.66" width="0.39" height="5.27"/>
<rect x="655.51" y="268.52" width="0.39" height="5.27"/>
<rect x="655.51" y="274.38" width="0.39" height="5.27"/>
<rect x="655.51" y="280.24" width="0.39" height="5.27"/>
<rect x="655.51" y="286.10" width="0.39" height="5.27"/>
<rect x="655.51" y="291.96" width="0.39" height="5.27"/>
<rect x="655.51" y="297.82" width="0.39" height="5.27"/>
<rect x="655.51" y="303.68" width="0.39" height="5.27"/>
<rect x="655.51" y="309.54" width="0.39" height="5.27"/>
<rect x="655.51" y="315.40" width="0.39" height="5.27"/>
<rect x="655.51" y="321.26" width="0.39" height="5.27"/>
<rect x="655.51" y="327.12" width="0.39" height="5.27"/>
<rect x="655.51" y="332.98" width="0.39" height="5.27"/>
<rect x="655.51" y="338.84" width="0.39" height="5.27"/>
<rect x="655.51" y="344.70" width="0.39" height="5.27"/>
<rect x="655.51" y="350.56" width="0.39" height="5.27"/>
<rect x="655.51" y="356.42" width="0.39" height="5.27"/>
<rect x="655.51" y="362.28" width="0.39" height="5.27"/>
<rect x="655.51" y="368.14" width="0.39" height="5.27"/>
<rect x="655.51" y="374.00" width="0.39" height="5.27"/>
<rect x="655.51" y="379.86" width="0.39" height="5.27"/>
<rect x="655.51" y="385.72" width="0.39" height="5.27"/>
<rect x="655.51" y="391.58" width="0.39" height="5.27"/>
<rect x="654.18" y="397.44" width="1.72" height="5.27"/>
<rect x="654.18" y="403.30" width="1.72" height="5.27"/>
<rect x="654.18" y="409.16" width="1.72" height="5.27"/>
<rect x="639.81" y="415.02" width="16.09" height="5.27"/>
<rect x="627.76" y="420.88" width="28.14" height="5.27"/>
<rect x="623.08" y="426.74" width="32.82" height="5.27"/>
<rect x="583.48" y="432.60" width="72.42" height="5.27"/>
</g>
<g font-size="4.5" text-anchor="end" fill="#2E2E2E" stroke="#2E2E2E" stroke-width="0.1">
<text x="577.70" y="208.25">Sema3f-Plxna2</text>
<text x="577.70" y="214.11">Efna4-Epha4</text>
<text x="577.70" y="219.97">Sema6a-Plxna2</text>
<text x="577.70" y="225.83">Lrrc4c-Ntng1</text>
<text x="577.70" y="231.69">Ncam2-L1cam</text>
<text x="577.70" y="237.55">Lamb2-Dag1</text>
<text x="577.70" y="243.41">Col9a1-Itgb1</text>
<text x="577.70" y="249.27">Sema3f-Nrp2</text>
<text x="577.70" y="255.13">Tgfb2-Acvr1</text>
<text x="577.70" y="260.99">Sema3f-Plxna4</text>
<text x="577.70" y="266.85">Lamc1-Dag1</text>
<text x="577.70" y="272.71">Lamc1-Itgb1</text>
<text x="577.70" y="278.57">Clf1-Il6st</text>
<text x="577.70" y="284.43">Thbs1-Itgb1</text>
<text x="577.70" y="290.29">Wnt5a-Fzd3</text>
<text x="577.70" y="296.15">Sema6a-Plxna4</text>
<text x="577.70" y="302.01">Hbegf-Erbb4</text>
<text x="577.70" y="307.87">Efnb1-Epha4</text>
<text x="577.70" y="313.73">Jam3-Jam3</text>
<text x="577.70" y="319.59">Jam2-Itgb1</text>
<text x="577.70" y="325.45">Lamb2-Sv2a</text>
<text x="577.70" y="331.31">Cxcl10-Ackr1</text>
<text x="577.70" y="337.17">Ncam1-Ncam2</text>
<text x="577.70" y="343.03">Mdk-Lrp1</text>
<text x="577.70" y="348.89">Thbs3-Cd47</text>
<text x="577.70" y="354.75">Efna5-Epha4</text>
<text x="577.70" y="360.61">Negr1-Negr1</text>
<text x="577.70" y="366.47">Mdk-Sdc2</text>
<text x="577.70" y="372.33">Ncam1-L1cam</text>
<text x="577.70" y="378.19">Mdk-Ptprz1</text>
<text x="577.70" y="384.05">Lamc1-Sv2a</text>
<text x="577.70" y="389.91">Adm-Calcr</text>
<text x="577.70" y="395.77">Thbs1-Cd47</text>
<text x="577.70" y="401.63">Cadm1-Cadm1</text>
<text x="577.70" y="407.49">Cdh2-Cdh2</text>
<text x="577.70" y="413.35">Ncam1-Ncam1</text>
<text x="577.70" y="419.21">Ptn-Sdc3</text>
<text x="577.70" y="425.07">Ptn-Sdc2</text>
<text x="577.70" y="430.93">Ptn-Ptprz1</text>
<text x="577.70" y="436.79">Ptn-Ncl</text>
</g>
<g stroke="#555" stroke-width="0.4">
<path d="M579.60 206.70h-1.4"/>
<path d="M579.60 212.56h-1.4"/>
<path d="M579.60 218.42h-1.4"/>
<path d="M579.60 224.28h-1.4"/>
<path d="M579.60 230.14h-1.4"/>
<path d="M579.60 236.00h-1.4"/>
<path d="M579.60 241.86h-1.4"/>
<path d="M579.60 247.72h-1.4"/>
<path d="M579.60 253.58h-1.4"/>
<path d="M579.60 259.44h-1.4"/>
<path d="M579.60 265.30h-1.4"/>
<path d="M579.60 271.16h-1.4"/>
<path d="M579.60 277.02h-1.4"/>
<path d="M579.60 282.88h-1.4"/>
<path d="M579.60 288.74h-1.4"/>
<path d="M579.60 294.60h-1.4"/>
<path d="M579.60 300.46h-1.4"/>
<path d="M579.60 306.32h-1.4"/>
<path d="M579.60 312.18h-1.4"/>
<path d="M579.60 318.04h-1.4"/>
<path d="M579.60 323.90h-1.4"/>
<path d="M579.60 329.76h-1.4"/>
<path d="M579.60 335.62h-1.4"/>
<path d="M579.60 341.48h-1.4"/>
<path d="M579.60 347.34h-1.4"/>
<path d="M579.60 353.20h-1.4"/>
<path d="M579.60 359.06h-1.4"/>
<path d="M579.60 364.92h-1.4"/>
<path d="M579.60 370.78h-1.4"/>
<path d="M579.60 376.64h-1.4"/>
<path d="M579.60 382.50h-1.4"/>
<path d="M579.60 388.36h-1.4"/>
<path d="M579.60 394.22h-1.4"/>
<path d="M579.60 400.08h-1.4"/>
<path d="M579.60 405.94h-1.4"/>
<path d="M579.60 411.80h-1.4"/>
<path d="M579.60 417.66h-1.4"/>
<path d="M579.60 423.52h-1.4"/>
<path d="M579.60 429.38h-1.4"/>
<path d="M579.60 435.24h-1.4"/>
<path d="M655.90 439.20v1.4"/>
<path d="M634.45 439.20v1.4"/>
<path d="M613.00 439.20v1.4"/>
<path d="M591.55 439.20v1.4"/>
</g>
<text font-size="3.80" text-anchor="middle" fill="#444" x="655.90" y="444.73">0</text>
<text font-size="3.80" text-anchor="middle" fill="#444" x="634.45" y="444.73">-50</text>
<text font-size="3.80" text-anchor="middle" fill="#444" x="613.00" y="444.73">-100</text>
<text font-size="3.80" text-anchor="middle" fill="#444" x="591.55" y="444.73">-150</text>
<text font-size="5.30" text-anchor="middle" fill="#222" x="620.00" y="451.46">Delta Com. Score</text>
<rect x="664.30" y="204.40" width="8.00" height="9.03" fill="#EBCAA4" />
<rect x="664.30" y="213.38" width="8.00" height="23.17" fill="#D0B3E6" />
<rect x="664.30" y="236.50" width="8.00" height="11.61" fill="#A9E2CF" />
<rect x="664.30" y="248.06" width="8.00" height="17.39" fill="#EBCAA4" />
<rect x="664.30" y="265.40" width="8.00" height="11.61" fill="#A9E2CF" />
<rect x="664.30" y="276.96" width="8.00" height="5.83" fill="#EBCAA4" />
<rect x="664.30" y="282.74" width="8.00" height="5.83" fill="#A9E2CF" />
<rect x="664.30" y="288.52" width="8.00" height="5.83" fill="#EBCAA4" />
<rect x="664.30" y="294.30" width="8.00" height="5.83" fill="#D0B3E6" />
<rect x="664.30" y="300.08" width="8.00" height="5.83" fill="#EBCAA4" />
<rect x="664.30" y="305.86" width="8.00" height="17.39" fill="#D0B3E6" />
<rect x="664.30" y="323.20" width="8.00" height="5.83" fill="#A9E2CF" />
<rect x="664.30" y="328.98" width="8.00" height="5.83" fill="#EBCAA4" />
<rect x="664.30" y="334.76" width="8.00" height="5.83" fill="#D0B3E6" />
<rect x="664.30" y="340.54" width="8.00" height="5.83" fill="#EBCAA4" />
<rect x="664.30" y="346.32" width="8.00" height="5.83" fill="#A9E2CF" />
<rect x="664.30" y="352.10" width="8.00" height="11.61" fill="#D0B3E6" />
<rect x="664.30" y="363.66" width="8.00" height="5.83" fill="#EBCAA4" />
<rect x="664.30" y="369.44" width="8.00" height="5.83" fill="#D0B3E6" />
<rect x="664.30" y="375.22" width="8.00" height="5.83" fill="#EBCAA4" />
<rect x="664.30" y="381.00" width="8.00" height="5.83" fill="#A9E2CF" />
<rect x="664.30" y="386.78" width="8.00" height="5.83" fill="#EBCAA4" />
<rect x="664.30" y="392.56" width="8.00" height="5.83" fill="#A9E2CF" />
<rect x="664.30" y="398.34" width="8.00" height="17.39" fill="#D0B3E6" />
<rect x="664.30" y="415.68" width="8.00" height="23.17" fill="#EBCAA4" />
<rect x="337.10" y="408.30" width="7.40" height="6.60" fill="#D0B3E6" />
<text font-size="4.10" font-weight="bold" fill="#222" x="347.60" y="413.13">Cell-Cell Contact</text>
<rect x="337.10" y="421.00" width="7.40" height="6.60" fill="#A9E2CF" />
<text font-size="4.10" font-weight="bold" fill="#222" x="347.60" y="425.83">ECM-Receptor</text>
<rect x="337.10" y="433.90" width="7.40" height="5.10" fill="#EBCAA4" />
<text font-size="4.10" font-weight="bold" fill="#222" x="347.60" y="436.83">Secreted Signaling</text>
<!-- pc -->
<text font-size="16.30" text-anchor="middle" font-weight="bold" x="8.70" y="473.10">c</text>
<text font-size="7.40" text-anchor="middle" fill="#111" x="129.30" y="475.69">Upregulated in 24h-Fasting vs Fed</text>
<rect x="65.40" y="477.70" width="128.80" height="39.30" fill="#F1F1F1" />
<rect x="65.40" y="478.90" width="36.19" height="11.70" fill="#D0B3E6" />
<rect x="101.59" y="478.90" width="53.19" height="11.70" fill="#A9E2CF" />
<rect x="154.79" y="478.90" width="39.41" height="11.70" fill="#EBCAA4" />
<text font-size="4.68" text-anchor="end" font-weight="bold" fill="#111" x="62.20" y="485.54">Tan2 (DMH/VMH) - Neurons</text>
<rect x="65.40" y="492.00" width="25.76" height="11.30" fill="#D0B3E6" />
<rect x="91.16" y="492.00" width="66.85" height="11.30" fill="#A9E2CF" />
<rect x="158.01" y="492.00" width="36.19" height="11.30" fill="#EBCAA4" />
<text font-size="4.68" text-anchor="end" font-weight="bold" fill="#111" x="62.20" y="498.44">Tan1 (ARH) - Neurons</text>
<rect x="65.40" y="504.20" width="51.65" height="11.60" fill="#D0B3E6" />
<rect x="117.05" y="504.20" width="45.34" height="11.60" fill="#A9E2CF" />
<rect x="162.39" y="504.20" width="31.81" height="11.60" fill="#EBCAA4" />
<text font-size="4.68" text-anchor="end" font-weight="bold" fill="#111" x="62.20" y="511.14">Tan3 (ME) - Neurons</text>
<text font-size="5.30" text-anchor="middle" fill="#444" x="65.40" y="523.56">0</text>
<text font-size="5.30" text-anchor="middle" fill="#444" x="97.60" y="523.56">25</text>
<text font-size="5.30" text-anchor="middle" fill="#444" x="129.80" y="523.56">50</text>
<text font-size="5.30" text-anchor="middle" fill="#444" x="162.00" y="523.56">75</text>
<text font-size="5.30" text-anchor="middle" fill="#444" x="194.20" y="523.56">100</text>
<text font-size="5.75" text-anchor="middle" fill="#111" x="128.80" y="530.21">Percentage</text>
<text font-size="7.43" text-anchor="middle" fill="#111" x="129.30" y="548.10">Downregulated in 24h-Fasting vs Fed</text>
<rect x="64.80" y="550.20" width="130.80" height="39.80" fill="#F1F1F1" />
<rect x="64.80" y="551.40" width="61.61" height="11.60" fill="#D0B3E6" />
<rect x="126.41" y="551.40" width="24.20" height="11.60" fill="#A9E2CF" />
<rect x="150.60" y="551.40" width="45.00" height="11.60" fill="#EBCAA4" />
<text font-size="4.68" text-anchor="end" font-weight="bold" fill="#111" x="62.20" y="558.14">Tan2 (DMH/VMH) - Neurons</text>
<rect x="64.80" y="564.40" width="49.05" height="11.30" fill="#D0B3E6" />
<rect x="113.85" y="564.40" width="32.70" height="11.30" fill="#A9E2CF" />
<rect x="146.55" y="564.40" width="49.05" height="11.30" fill="#EBCAA4" />
<text font-size="4.68" text-anchor="end" font-weight="bold" fill="#111" x="62.20" y="571.54">Tan1 (ARH) - Neurons</text>
<rect x="64.80" y="577.20" width="41.99" height="11.60" fill="#D0B3E6" />
<rect x="106.79" y="577.20" width="21.06" height="11.60" fill="#A9E2CF" />
<rect x="127.85" y="577.20" width="67.75" height="11.60" fill="#EBCAA4" />
<text font-size="4.68" text-anchor="end" font-weight="bold" fill="#111" x="62.20" y="584.44">Tan3 (ME) - Neurons</text>
<text font-size="5.30" text-anchor="middle" fill="#444" x="64.80" y="596.56">0</text>
<text font-size="5.30" text-anchor="middle" fill="#444" x="97.50" y="596.56">25</text>
<text font-size="5.30" text-anchor="middle" fill="#444" x="130.20" y="596.56">50</text>
<text font-size="5.30" text-anchor="middle" fill="#444" x="162.90" y="596.56">75</text>
<text font-size="5.30" text-anchor="middle" fill="#444" x="195.60" y="596.56">100</text>
<text font-size="5.75" text-anchor="middle" fill="#111" x="128.80" y="603.81">Percentage</text>
<rect x="69.20" y="612.70" width="6.60" height="6.40" fill="#D0B3E6" />
<text font-size="3.49" fill="#333" x="78.00" y="617.22">Cell-Cell Contact</text>
<rect x="108.00" y="612.70" width="6.60" height="6.40" fill="#A9E2CF" />
<text font-size="3.54" fill="#333" x="116.20" y="617.24">ECM-Receptor</text>
<rect x="142.50" y="612.70" width="6.60" height="6.40" fill="#EBCAA4" />
<text font-size="3.55" fill="#333" x="151.20" y="617.24">Secreted Signaling</text>
<text font-size="16.30" text-anchor="middle" font-weight="bold" x="209.80" y="472.70">d</text>
<text font-size="6.80" text-anchor="middle" fill="#222" x="263.90" y="469.28">Nrxn1 Score</text>
<rect x="221.60" y="470.90" width="84.40" height="125.70" fill="#fff" stroke="#9A9A9A" stroke-width="0.55" />
<rect x="227.70" y="591.50" width="21.10" height="4.50" fill="#E2E262" />
<rect x="248.80" y="510.80" width="21.20" height="85.20" fill="#A5675B" />
<rect x="270.00" y="529.20" width="21.10" height="66.80" fill="#C9623A" />
<text font-size="6.10" text-anchor="end" fill="#333" x="220.30" y="598.13">0</text>
<line x1="220.40" y1="596.00" x2="221.60" y2="596.00" stroke="#666" stroke-width="0.4" />
<text font-size="6.10" text-anchor="end" fill="#333" x="220.30" y="552.13">1</text>
<line x1="220.40" y1="550.00" x2="221.60" y2="550.00" stroke="#666" stroke-width="0.4" />
<text font-size="6.10" text-anchor="end" fill="#333" x="220.30" y="506.13">2</text>
<line x1="220.40" y1="504.00" x2="221.60" y2="504.00" stroke="#666" stroke-width="0.4" />
<text font-size="7.30" text-anchor="middle" fill="#111" transform="translate(211.90 533.90) rotate(-90)" x="0" y="2.55">24h-Fasting vs Fed DeltaScore</text>
<text transform="translate(237.69 603.38) rotate(50)" font-size="7.00" fill="#111" stroke="#111" stroke-width="0.15">Tan2- Neurons</text>
<text transform="translate(226.59 602.88) rotate(50)" font-size="7.00" fill="#111" stroke="#111" stroke-width="0.15">(DMH/VMH)</text>
<text transform="translate(261.29 602.48) rotate(50)" font-size="7.00" fill="#111" stroke="#111" stroke-width="0.15">Tan1- Neurons</text>
<text transform="translate(253.39 603.38) rotate(50)" font-size="7.00" fill="#111" stroke="#111" stroke-width="0.15">(ARH)</text>
<text transform="translate(283.69 602.88) rotate(50)" font-size="7.00" fill="#111" stroke="#111" stroke-width="0.15">Tan3- Neurons</text>
<text transform="translate(274.39 603.88) rotate(50)" font-size="7.00" fill="#111" stroke="#111" stroke-width="0.15">(ME)</text>
<text font-size="16.30" text-anchor="middle" font-weight="bold" x="323.50" y="473.31">e</text>
<rect x="338.00" y="475.10" width="11.50" height="2.00" fill="#6C8DEB" />
<rect x="350.20" y="475.10" width="23.60" height="2.00" fill="#6C8DEB" />
<rect x="374.40" y="475.10" width="3.00" height="2.00" fill="#A030A0" />
<rect x="379.00" y="475.10" width="14.50" height="2.00" fill="#A030A0" />
<rect x="394.30" y="475.10" width="19.70" height="2.00" fill="#A030A0" />
<rect x="414.00" y="475.10" width="24.20" height="2.00" fill="#DADA4E" />
<rect x="438.20" y="475.10" width="16.00" height="2.00" fill="#A4512E" />
<rect x="455.30" y="475.10" width="23.10" height="2.00" fill="#D4632C" />
<text stroke="#6C8DEB" stroke-width="0.2" font-size="7.50" text-anchor="middle" font-weight="bold" fill="#6C8DEB" x="356.00" y="471.52">epen</text>
<text stroke="#A030A0" stroke-width="0.2" font-size="7.50" text-anchor="middle" font-weight="bold" fill="#A030A0" x="394.60" y="471.52">α1</text>
<text stroke="#D6D64A" stroke-width="0.2" font-size="7.50" text-anchor="middle" font-weight="bold" fill="#D6D64A" x="426.00" y="471.52">α2</text>
<text stroke="#A4512E" stroke-width="0.2" font-size="7.50" text-anchor="middle" font-weight="bold" fill="#A4512E" x="446.50" y="471.52">β1</text>
<text stroke="#D4632C" stroke-width="0.2" font-size="7.50" text-anchor="middle" font-weight="bold" fill="#D4632C" x="467.00" y="471.52">β2</text>
<path d="M332.2 485V605.6H483.4" fill="none" stroke="#999" stroke-width="0.6" />
<line x1="331.00" y1="498.60" x2="332.20" y2="498.60" stroke="#888" stroke-width="0.4" />
<line x1="331.00" y1="523.50" x2="332.20" y2="523.50" stroke="#888" stroke-width="0.4" />
<line x1="331.00" y1="548.80" x2="332.20" y2="548.80" stroke="#888" stroke-width="0.4" />
<line x1="331.00" y1="573.70" x2="332.20" y2="573.70" stroke="#888" stroke-width="0.4" />
<line x1="331.00" y1="598.70" x2="332.20" y2="598.70" stroke="#888" stroke-width="0.4" />
<line x1="336.60" y1="605.60" x2="336.60" y2="606.80" stroke="#888" stroke-width="0.4" />
<text font-size="3.80" text-anchor="middle" fill="#444" x="336.60" y="610.73">1</text>
<line x1="383.50" y1="605.60" x2="383.50" y2="606.80" stroke="#888" stroke-width="0.4" />
<text font-size="3.80" text-anchor="middle" fill="#444" x="383.50" y="610.73">2</text>
<line x1="430.10" y1="605.60" x2="430.10" y2="606.80" stroke="#888" stroke-width="0.4" />
<text font-size="3.80" text-anchor="middle" fill="#444" x="430.10" y="610.73">4</text>
<line x1="477.00" y1="605.60" x2="477.00" y2="606.80" stroke="#888" stroke-width="0.4" />
<text font-size="3.80" text-anchor="middle" fill="#444" x="477.00" y="610.73">6</text>
<path d="M339.13 566.51C340.28 566.19 343.52 565.82 346.06 564.57C348.60 563.32 351.61 561.80 354.38 559.02C357.16 556.25 359.93 552.09 362.70 547.93C365.48 543.77 368.25 538.22 371.03 534.06C373.80 529.90 376.57 525.97 379.35 522.96C382.12 519.96 384.90 517.78 387.67 516.03C390.44 514.27 393.68 513.11 395.99 512.42C398.30 511.73 399.23 511.63 401.54 511.87C403.85 512.10 407.09 512.88 409.86 513.81C412.64 514.73 415.41 516.35 418.18 517.41C420.96 518.48 424.19 519.68 426.50 520.19C428.82 520.70 430.20 520.79 432.05 520.46C433.90 520.14 435.75 519.22 437.60 518.25C439.45 517.27 441.30 515.61 443.15 514.64C445.00 513.67 447.08 512.65 448.70 512.42C450.31 512.19 451.47 512.42 452.86 513.25C454.24 514.08 455.40 514.64 457.02 517.41C458.64 520.19 460.72 524.12 462.57 529.90C464.42 535.67 466.26 543.77 468.11 552.09C469.96 560.41 472.14 571.97 473.66 579.83C475.19 587.69 476.67 596.01 477.27 599.24" fill="none" stroke="#86A6FA" stroke-width="1.25" />
<path d="M339.13 563.18C340.28 563.28 343.52 563.97 346.06 563.74C348.60 563.51 351.61 563.51 354.38 561.80C357.16 560.09 359.93 556.94 362.70 553.47C365.48 550.01 368.25 544.92 371.03 540.99C373.80 537.06 376.57 533.13 379.35 529.90C382.12 526.66 384.90 523.79 387.67 521.57C390.44 519.36 393.22 517.74 395.99 516.58C398.77 515.43 401.54 514.82 404.31 514.64C407.09 514.45 409.86 514.87 412.64 515.47C415.41 516.07 418.65 517.60 420.96 518.25C423.27 518.89 424.66 519.36 426.50 519.36C428.35 519.36 430.20 519.26 432.05 518.25C433.90 517.23 435.75 515.01 437.60 513.25C439.45 511.50 441.30 509.32 443.15 507.70C445.00 506.09 447.22 504.38 448.70 503.54C450.18 502.71 450.87 502.48 452.02 502.71C453.18 502.94 454.11 502.71 455.63 504.93C457.16 507.15 459.33 510.48 461.18 516.03C463.03 521.57 464.88 529.90 466.73 538.22C468.58 546.54 470.52 557.27 472.27 565.96C474.03 574.65 476.44 586.30 477.27 590.37" fill="none" stroke="#F08383" stroke-width="1.25" />
<path d="M339.13 558.47C340.28 558.65 343.52 559.35 346.06 559.58C348.60 559.81 351.61 559.95 354.38 559.85C357.16 559.76 359.93 559.53 362.70 559.02C365.48 558.51 368.25 557.87 371.03 556.80C373.80 555.74 376.57 554.21 379.35 552.64C382.12 551.07 384.90 549.41 387.67 547.37C390.44 545.34 393.22 542.79 395.99 540.44C398.77 538.08 401.54 535.67 404.31 533.22C407.09 530.77 409.86 528.14 412.64 525.74C415.41 523.33 418.18 520.88 420.96 518.80C423.73 516.72 426.50 514.96 429.28 513.25C432.05 511.54 434.83 509.92 437.60 508.54C440.37 507.15 443.15 505.90 445.92 504.93C448.70 503.96 451.70 503.17 454.24 502.71C456.79 502.25 459.10 502.06 461.18 502.16C463.26 502.25 464.88 502.62 466.73 503.27C468.58 503.91 470.52 504.84 472.27 506.04C474.03 507.24 476.44 509.74 477.27 510.48" fill="none" stroke="#52C852" stroke-width="1.25" />
<line x1="400.20" y1="492.20" x2="453.00" y2="492.20" stroke="#000" stroke-width="1.0" />
<path d="M456.6 492.2L451.6 490.2V494.2Z" fill="#000" />
<text font-size="6.93" text-anchor="middle" font-weight="bold" x="410.40" y="617.73">Pseudospatial</text>
<text transform="translate(323.4 543.6) rotate(-90)" text-anchor="middle" y="2.3" font-size="6.95" font-weight="bold"><tspan font-style="italic">Nrxn1</tspan> normalized expression</text>
<text font-size="7.40" fill="#5B7BF0" x="338.60" y="585.19">Fed</text>
<text font-size="7.40" fill="#F06A6A" x="338.60" y="592.69">12h-Fasting</text>
<text font-size="7.40" fill="#3CBE3C" x="338.60" y="600.19">24h-Fasting</text>
<text x="515.8" y="472.3" font-size="8.5" font-weight="bold"><tspan font-style="italic">Nrxn1</tspan> normalized expression (Pattern 10)</text>
<text font-size="7.60" text-anchor="middle" font-weight="bold" x="549.90" y="496.46">Fed</text>
<text font-size="7.60" text-anchor="middle" font-weight="bold" x="646.20" y="496.86">24h-Fasting</text>
<g><circle cx="524.0" cy="512.0" r="0.42" fill="#bcbcbc"/><circle cx="527.5" cy="502.3" r="0.42" fill="#d0d0d0"/><circle cx="528.6" cy="502.5" r="0.42" fill="#bdbdbd"/><circle cx="535.0" cy="503.4" r="0.42" fill="#c3c3c3"/><circle cx="537.0" cy="510.8" r="0.42" fill="#cbcbcb"/><circle cx="537.9" cy="512.0" r="0.42" fill="#c6c6c6"/><circle cx="523.5" cy="506.4" r="0.42" fill="#dfdfdf"/><circle cx="531.0" cy="511.8" r="0.42" fill="#cacaca"/><circle cx="524.9" cy="512.4" r="0.42" fill="#cdcdcd"/><circle cx="531.1" cy="508.7" r="0.42" fill="#c7c7c7"/><circle cx="528.7" cy="506.4" r="0.42" fill="#d3d3d3"/><circle cx="535.8" cy="513.2" r="0.42" fill="#c6c6c6"/><circle cx="533.0" cy="512.5" r="0.42" fill="#dcdcdc"/><circle cx="529.5" cy="502.0" r="0.42" fill="#d8d8d8"/><circle cx="521.8" cy="505.6" r="0.42" fill="#c7c7c7"/><circle cx="531.2" cy="510.8" r="0.42" fill="#cecece"/><circle cx="534.3" cy="507.8" r="0.42" fill="#d8d8d8"/><circle cx="533.0" cy="511.9" r="0.42" fill="#e7e7e7"/><circle cx="528.8" cy="513.7" r="0.42" fill="#d8d8d8"/><circle cx="529.1" cy="504.1" r="0.42" fill="#bebebe"/><circle cx="534.1" cy="503.5" r="0.42" fill="#c4c4c4"/><circle cx="528.9" cy="510.3" r="0.42" fill="#e2e2e2"/><circle cx="532.0" cy="506.9" r="0.42" fill="#cccccc"/><circle cx="524.0" cy="504.2" r="0.42" fill="#c3c3c3"/><circle cx="529.5" cy="511.0" r="0.42" fill="#c5c5c5"/><circle cx="528.4" cy="507.4" r="0.42" fill="#d3d3d3"/><circle cx="527.8" cy="504.7" r="0.42" fill="#d6d6d6"/><circle cx="534.3" cy="515.6" r="0.42" fill="#dedede"/><circle cx="528.1" cy="503.0" r="0.42" fill="#d6d6d6"/><circle cx="524.2" cy="506.9" r="0.42" fill="#bbbbbb"/><circle cx="527.5" cy="501.8" r="0.42" fill="#e2e2e2"/><circle cx="524.0" cy="505.5" r="0.42" fill="#c9c9c9"/><circle cx="537.7" cy="508.9" r="0.42" fill="#cfcfcf"/><circle cx="523.2" cy="506.9" r="0.42" fill="#c5c5c5"/><circle cx="530.2" cy="510.3" r="0.42" fill="#e5e5e5"/><circle cx="523.9" cy="510.2" r="0.42" fill="#bababa"/><circle cx="532.9" cy="505.6" r="0.42" fill="#cacaca"/><circle cx="534.1" cy="510.0" r="0.42" fill="#dddddd"/><circle cx="525.2" cy="514.6" r="0.42" fill="#e7e7e7"/><circle cx="532.5" cy="502.0" r="0.42" fill="#dbdbdb"/><circle cx="530.0" cy="507.1" r="0.42" fill="#bababa"/><circle cx="526.1" cy="505.6" r="0.42" fill="#d9d9d9"/><circle cx="520.1" cy="512.8" r="0.42" fill="#e7e7e7"/><circle cx="527.7" cy="511.8" r="0.42" fill="#c3c3c3"/><circle cx="524.9" cy="511.5" r="0.42" fill="#e3e3e3"/><circle cx="523.5" cy="510.3" r="0.42" fill="#dedede"/><circle cx="532.3" cy="516.2" r="0.42" fill="#dddddd"/><circle cx="527.0" cy="509.9" r="0.42" fill="#dedede"/><circle cx="528.0" cy="507.9" r="0.42" fill="#e5e5e5"/><circle cx="530.8" cy="511.5" r="0.42" fill="#c0c0c0"/><circle cx="530.5" cy="507.2" r="0.42" fill="#dfdfdf"/><circle cx="527.5" cy="506.1" r="0.42" fill="#d2d2d2"/><circle cx="532.1" cy="509.9" r="0.42" fill="#e4e4e4"/><circle cx="535.8" cy="514.8" r="0.42" fill="#c2c2c2"/><circle cx="526.3" cy="505.3" r="0.42" fill="#d4d4d4"/><circle cx="528.4" cy="503.5" r="0.42" fill="#e3e3e3"/><circle cx="529.0" cy="510.9" r="0.42" fill="#e3e3e3"/><circle cx="536.5" cy="509.5" r="0.42" fill="#d1d1d1"/><circle cx="521.8" cy="508.5" r="0.42" fill="#c1c1c1"/><circle cx="534.6" cy="504.2" r="0.42" fill="#cfcfcf"/><circle cx="526.1" cy="508.2" r="0.42" fill="#d1d1d1"/><circle cx="534.3" cy="503.1" r="0.42" fill="#d3d3d3"/><circle cx="526.1" cy="513.9" r="0.42" fill="#d0d0d0"/><circle cx="533.9" cy="516.2" r="0.42" fill="#cdcdcd"/><circle cx="529.8" cy="509.7" r="0.42" fill="#d9d9d9"/><circle cx="530.2" cy="509.1" r="0.42" fill="#e5e5e5"/><circle cx="525.8" cy="510.5" r="0.42" fill="#e5e5e5"/><circle cx="531.1" cy="511.2" r="0.42" fill="#cdcdcd"/><circle cx="525.5" cy="502.5" r="0.42" fill="#d8d8d8"/><circle cx="531.7" cy="508.0" r="0.42" fill="#dadada"/><circle cx="537.1" cy="507.8" r="0.42" fill="#cfcfcf"/><circle cx="531.0" cy="507.3" r="0.42" fill="#cdcdcd"/><circle cx="527.1" cy="504.5" r="0.42" fill="#c7c7c7"/><circle cx="535.1" cy="510.2" r="0.42" fill="#cdcdcd"/><circle cx="527.0" cy="511.5" r="0.42" fill="#d1d1d1"/><circle cx="534.3" cy="505.8" r="0.42" fill="#bfbfbf"/><circle cx="525.8" cy="503.8" r="0.42" fill="#e4e4e4"/><circle cx="533.0" cy="502.8" r="0.42" fill="#bbbbbb"/><circle cx="528.5" cy="502.5" r="0.42" fill="#e5e5e5"/><circle cx="535.6" cy="508.7" r="0.42" fill="#c8c8c8"/><circle cx="536.7" cy="505.7" r="0.42" fill="#bfbfbf"/><circle cx="525.4" cy="503.1" r="0.42" fill="#c0c0c0"/><circle cx="524.8" cy="506.4" r="0.42" fill="#c7c7c7"/><circle cx="528.4" cy="514.4" r="0.42" fill="#c1c1c1"/><circle cx="530.5" cy="504.4" r="0.42" fill="#cfcfcf"/><circle cx="532.7" cy="526.8" r="0.42" fill="#d1d1d1"/><circle cx="532.1" cy="521.0" r="0.42" fill="#d4d4d4"/><circle cx="532.1" cy="525.5" r="0.42" fill="#dadada"/><circle cx="526.8" cy="516.1" r="0.42" fill="#c3c3c3"/><circle cx="531.1" cy="519.0" r="0.42" fill="#c5c5c5"/><circle cx="530.4" cy="519.4" r="0.42" fill="#c8c8c8"/><circle cx="528.1" cy="517.6" r="0.42" fill="#d2d2d2"/><circle cx="529.0" cy="518.9" r="0.42" fill="#e9e9e9"/><circle cx="527.2" cy="522.1" r="0.42" fill="#d4d4d4"/><circle cx="528.6" cy="515.4" r="0.42" fill="#c9c9c9"/><circle cx="527.4" cy="516.0" r="0.42" fill="#bfbfbf"/><circle cx="525.6" cy="523.7" r="0.42" fill="#d5d5d5"/><circle cx="526.0" cy="517.5" r="0.42" fill="#e5e5e5"/><circle cx="524.7" cy="525.7" r="0.42" fill="#dadada"/><circle cx="529.9" cy="525.8" r="0.42" fill="#e2e2e2"/><circle cx="528.8" cy="522.6" r="0.42" fill="#e3e3e3"/><circle cx="530.3" cy="518.1" r="0.42" fill="#e6e6e6"/><circle cx="530.6" cy="518.6" r="0.42" fill="#bfbfbf"/><circle cx="527.0" cy="516.9" r="0.42" fill="#e3e3e3"/><circle cx="529.9" cy="524.3" r="0.42" fill="#dcdcdc"/><circle cx="531.2" cy="522.5" r="0.42" fill="#d6d6d6"/><circle cx="523.8" cy="525.9" r="0.42" fill="#c9c9c9"/><circle cx="525.9" cy="525.8" r="0.42" fill="#c7c7c7"/><circle cx="531.8" cy="521.8" r="0.42" fill="#cfcfcf"/><circle cx="530.5" cy="526.3" r="0.42" fill="#d9d9d9"/><circle cx="525.8" cy="526.0" r="0.42" fill="#cbcbcb"/><circle cx="526.0" cy="525.0" r="0.42" fill="#dddddd"/><circle cx="526.2" cy="522.7" r="0.42" fill="#d2d2d2"/><circle cx="528.1" cy="527.1" r="0.42" fill="#e9e9e9"/><circle cx="526.0" cy="518.4" r="0.42" fill="#e8e8e8"/><circle cx="529.4" cy="517.4" r="0.42" fill="#d5d5d5"/><circle cx="532.1" cy="527.7" r="0.42" fill="#d4d4d4"/><circle cx="527.9" cy="519.9" r="0.42" fill="#e6e6e6"/><circle cx="528.4" cy="521.8" r="0.42" fill="#cbcbcb"/><circle cx="526.8" cy="519.9" r="0.42" fill="#e3e3e3"/><circle cx="531.2" cy="527.3" r="0.42" fill="#c3c3c3"/><circle cx="527.1" cy="514.6" r="0.42" fill="#cbcbcb"/><circle cx="529.5" cy="520.5" r="0.42" fill="#d1d1d1"/><circle cx="532.1" cy="519.4" r="0.42" fill="#e8e8e8"/><circle cx="526.0" cy="522.7" r="0.42" fill="#c6c6c6"/><circle cx="531.9" cy="524.4" r="0.42" fill="#e7e7e7"/><circle cx="524.1" cy="520.7" r="0.42" fill="#c0c0c0"/><circle cx="523.9" cy="524.4" r="0.42" fill="#dbdbdb"/><circle cx="524.4" cy="522.1" r="0.42" fill="#cdcdcd"/><circle cx="525.9" cy="524.7" r="0.42" fill="#cbcbcb"/><circle cx="548.2" cy="519.7" r="0.42" fill="#848484"/><circle cx="556.9" cy="520.8" r="0.42" fill="#898989"/><circle cx="554.9" cy="520.8" r="0.42" fill="#838383"/><circle cx="543.0" cy="520.3" r="0.42" fill="#7f7f7f"/><circle cx="545.9" cy="521.0" r="0.42" fill="#bebebe"/><circle cx="546.0" cy="521.3" r="0.42" fill="#a1a1a1"/><circle cx="547.2" cy="519.3" r="0.42" fill="#8e8e8e"/><circle cx="553.7" cy="521.6" r="0.42" fill="#aaaaaa"/><circle cx="550.8" cy="521.5" r="0.42" fill="#8b8b8b"/><circle cx="549.1" cy="522.3" r="0.42" fill="#bbbbbb"/><circle cx="551.1" cy="520.8" r="0.42" fill="#b0b0b0"/><circle cx="544.1" cy="521.0" r="0.42" fill="#787878"/><circle cx="545.7" cy="519.5" r="0.42" fill="#848484"/><circle cx="553.1" cy="522.3" r="0.42" fill="#b1b1b1"/><circle cx="554.5" cy="520.7" r="0.42" fill="#a4a4a4"/><circle cx="554.8" cy="519.9" r="0.42" fill="#c1c1c1"/><circle cx="546.7" cy="519.5" r="0.42" fill="#8c8c8c"/><circle cx="553.4" cy="519.5" r="0.42" fill="#7d7d7d"/><circle cx="551.4" cy="520.4" r="0.42" fill="#898989"/><circle cx="549.3" cy="522.4" r="0.42" fill="#ababab"/><circle cx="546.7" cy="520.9" r="0.42" fill="#8b8b8b"/><circle cx="548.9" cy="520.1" r="0.42" fill="#797979"/><circle cx="564.5" cy="509.6" r="0.42" fill="#5d5d5d"/><circle cx="558.9" cy="508.7" r="0.42" fill="#727272"/><circle cx="560.3" cy="513.7" r="0.42" fill="#9c9c9c"/><circle cx="561.3" cy="514.0" r="0.42" fill="#5a5a5a"/><circle cx="565.3" cy="508.3" r="0.42" fill="#b7b7b7"/><circle cx="560.2" cy="507.5" r="0.42" fill="#727272"/><circle cx="562.1" cy="507.4" r="0.42" fill="#bababa"/><circle cx="562.1" cy="514.8" r="0.42" fill="#aeaeae"/><circle cx="568.4" cy="510.4" r="0.42" fill="#666666"/><circle cx="558.9" cy="512.3" r="0.42" fill="#6d6d6d"/><circle cx="561.5" cy="506.9" r="0.42" fill="#3c3c3c"/><circle cx="561.7" cy="515.5" r="0.42" fill="#4c4c4c"/><circle cx="563.6" cy="513.1" r="0.42" fill="#a6a6a6"/><circle cx="562.3" cy="510.9" r="0.42" fill="#797979"/><circle cx="561.8" cy="514.8" r="0.42" fill="#3f3f3f"/><circle cx="565.8" cy="513.4" r="0.42" fill="#414141"/><circle cx="560.9" cy="513.2" r="0.42" fill="#b0b0b0"/><circle cx="564.0" cy="507.9" r="0.42" fill="#999999"/><circle cx="565.3" cy="515.0" r="0.42" fill="#8e8e8e"/><circle cx="564.7" cy="510.8" r="0.42" fill="#797979"/><circle cx="565.2" cy="509.7" r="0.42" fill="#5c5c5c"/><circle cx="562.9" cy="515.2" r="0.42" fill="#535353"/><circle cx="562.7" cy="505.2" r="0.42" fill="#a0a0a0"/><circle cx="561.5" cy="508.5" r="0.42" fill="#6b6b6b"/><circle cx="564.4" cy="511.4" r="0.42" fill="#9d9d9d"/><circle cx="563.5" cy="508.6" r="0.42" fill="#bbbbbb"/><circle cx="564.8" cy="510.3" r="0.42" fill="#464646"/><circle cx="563.0" cy="512.8" r="0.42" fill="#767676"/><circle cx="562.3" cy="511.8" r="0.42" fill="#939393"/><circle cx="565.0" cy="507.0" r="0.42" fill="#4b4b4b"/><circle cx="562.2" cy="514.1" r="0.42" fill="#6c6c6c"/><circle cx="563.6" cy="512.6" r="0.42" fill="#5b5b5b"/><circle cx="566.4" cy="511.4" r="0.42" fill="#666666"/><circle cx="567.4" cy="510.6" r="0.42" fill="#5a5a5a"/><circle cx="558.9" cy="503.2" r="0.42" fill="#494949"/><circle cx="565.8" cy="514.2" r="0.42" fill="#b2b2b2"/><circle cx="561.2" cy="506.4" r="0.42" fill="#545454"/><circle cx="558.3" cy="507.2" r="0.42" fill="#6c6c6c"/><circle cx="561.3" cy="511.2" r="0.42" fill="#a1a1a1"/><circle cx="565.5" cy="512.9" r="0.42" fill="#8c8c8c"/><circle cx="566.7" cy="524.1" r="0.42" fill="#424242"/><circle cx="569.5" cy="530.8" r="0.42" fill="#424242"/><circle cx="563.6" cy="528.2" r="0.42" fill="#404040"/><circle cx="560.4" cy="528.0" r="0.42" fill="#6f6f6f"/><circle cx="559.9" cy="523.5" r="0.42" fill="#6f6f6f"/><circle cx="572.6" cy="529.7" r="0.42" fill="#4c4c4c"/><circle cx="578.5" cy="531.6" r="0.42" fill="#717171"/><circle cx="564.7" cy="530.8" r="0.42" fill="#a9a9a9"/><circle cx="560.6" cy="527.3" r="0.42" fill="#424242"/><circle cx="576.9" cy="532.0" r="0.42" fill="#929292"/><circle cx="576.4" cy="532.1" r="0.42" fill="#3d3d3d"/><circle cx="568.5" cy="530.2" r="0.42" fill="#9e9e9e"/><circle cx="571.2" cy="528.7" r="0.42" fill="#696969"/><circle cx="563.3" cy="526.4" r="0.42" fill="#a0a0a0"/><circle cx="566.5" cy="531.0" r="0.42" fill="#a5a5a5"/><circle cx="578.3" cy="533.3" r="0.42" fill="#2e2e2e"/><circle cx="557.1" cy="527.2" r="0.42" fill="#787878"/><circle cx="571.7" cy="534.4" r="0.42" fill="#444444"/><circle cx="574.1" cy="534.9" r="0.42" fill="#3f3f3f"/><circle cx="565.8" cy="527.6" r="0.42" fill="#595959"/><circle cx="561.6" cy="527.8" r="0.42" fill="#9c9c9c"/><circle cx="568.3" cy="531.4" r="0.42" fill="#2c2c2c"/><circle cx="572.7" cy="533.3" r="0.42" fill="#6f6f6f"/><circle cx="564.2" cy="525.8" r="0.42" fill="#737373"/><circle cx="571.6" cy="529.7" r="0.42" fill="#606060"/><circle cx="570.6" cy="529.6" r="0.42" fill="#464646"/><circle cx="570.4" cy="526.6" r="0.42" fill="#3f3f3f"/><circle cx="568.2" cy="524.3" r="0.42" fill="#616161"/><circle cx="557.6" cy="524.9" r="0.42" fill="#323232"/><circle cx="570.5" cy="526.4" r="0.42" fill="#2f2f2f"/><circle cx="563.5" cy="531.1" r="0.42" fill="#393939"/><circle cx="577.2" cy="532.9" r="0.42" fill="#919191"/><circle cx="578.4" cy="533.4" r="0.42" fill="#a4a4a4"/><circle cx="571.4" cy="534.4" r="0.42" fill="#a0a0a0"/><circle cx="563.7" cy="529.2" r="0.42" fill="#3c3c3c"/><circle cx="564.4" cy="531.8" r="0.42" fill="#3a3a3a"/><circle cx="562.9" cy="526.1" r="0.42" fill="#515151"/><circle cx="562.6" cy="522.3" r="0.42" fill="#a1a1a1"/><circle cx="575.7" cy="528.1" r="0.42" fill="#6c6c6c"/><circle cx="563.5" cy="530.2" r="0.42" fill="#707070"/><circle cx="564.5" cy="530.0" r="0.42" fill="#4a4a4a"/><circle cx="563.7" cy="525.2" r="0.42" fill="#8b8b8b"/><circle cx="560.1" cy="527.2" r="0.42" fill="#2e2e2e"/><circle cx="566.2" cy="531.6" r="0.42" fill="#a7a7a7"/><circle cx="572.3" cy="528.6" r="0.42" fill="#282828"/><circle cx="560.0" cy="525.9" r="0.42" fill="#606060"/><circle cx="561.5" cy="527.0" r="0.42" fill="#2a2a2a"/><circle cx="566.5" cy="523.6" r="0.42" fill="#565656"/><circle cx="569.4" cy="530.1" r="0.42" fill="#424242"/><circle cx="569.0" cy="525.1" r="0.42" fill="#a1a1a1"/><circle cx="569.4" cy="533.1" r="0.42" fill="#8d8d8d"/><circle cx="570.8" cy="530.5" r="0.42" fill="#555555"/><circle cx="565.0" cy="531.7" r="0.42" fill="#878787"/><circle cx="569.1" cy="528.0" r="0.42" fill="#464646"/><circle cx="567.3" cy="532.8" r="0.42" fill="#3a3a3a"/><circle cx="570.3" cy="529.7" r="0.42" fill="#7b7b7b"/><circle cx="569.4" cy="531.3" r="0.42" fill="#4f4f4f"/><circle cx="575.2" cy="535.0" r="0.42" fill="#858585"/><circle cx="574.4" cy="534.2" r="0.42" fill="#646464"/><circle cx="563.9" cy="527.1" r="0.42" fill="#353535"/><circle cx="568.2" cy="538.1" r="0.42" fill="#747474"/><circle cx="584.2" cy="551.0" r="0.42" fill="#323232"/><circle cx="575.3" cy="552.5" r="0.42" fill="#555555"/><circle cx="579.1" cy="558.2" r="0.42" fill="#2c2c2c"/><circle cx="581.8" cy="545.0" r="0.42" fill="#2e2e2e"/><circle cx="586.7" cy="540.4" r="0.42" fill="#3b3b3b"/><circle cx="575.0" cy="548.9" r="0.42" fill="#898989"/><circle cx="581.1" cy="549.3" r="0.42" fill="#939393"/><circle cx="584.1" cy="550.6" r="0.42" fill="#828282"/><circle cx="582.1" cy="546.6" r="0.42" fill="#383838"/><circle cx="581.4" cy="531.7" r="0.42" fill="#898989"/><circle cx="587.1" cy="540.3" r="0.42" fill="#222222"/><circle cx="567.2" cy="548.8" r="0.42" fill="#646464"/><circle cx="583.8" cy="531.6" r="0.42" fill="#5e5e5e"/><circle cx="583.3" cy="554.2" r="0.42" fill="#878787"/><circle cx="572.4" cy="531.8" r="0.42" fill="#131313"/><circle cx="581.6" cy="534.0" r="0.42" fill="#7e7e7e"/><circle cx="574.2" cy="531.6" r="0.42" fill="#1c1c1c"/><circle cx="578.2" cy="550.8" r="0.42" fill="#484848"/><circle cx="573.0" cy="537.0" r="0.42" fill="#6f6f6f"/><circle cx="572.3" cy="557.4" r="0.42" fill="#535353"/><circle cx="576.6" cy="542.6" r="0.42" fill="#464646"/><circle cx="583.8" cy="540.0" r="0.42" fill="#6e6e6e"/><circle cx="570.4" cy="554.2" r="0.42" fill="#1b1b1b"/><circle cx="577.6" cy="544.4" r="0.42" fill="#2a2a2a"/><circle cx="578.0" cy="544.0" r="0.42" fill="#515151"/><circle cx="584.8" cy="535.2" r="0.42" fill="#515151"/><circle cx="585.3" cy="537.6" r="0.42" fill="#8e8e8e"/><circle cx="570.8" cy="549.3" r="0.42" fill="#525252"/><circle cx="581.7" cy="531.8" r="0.42" fill="#797979"/><circle cx="583.2" cy="548.4" r="0.42" fill="#3f3f3f"/><circle cx="574.1" cy="555.4" r="0.42" fill="#1a1a1a"/><circle cx="581.2" cy="545.2" r="0.42" fill="#323232"/><circle cx="572.0" cy="543.4" r="0.42" fill="#868686"/><circle cx="576.6" cy="544.9" r="0.42" fill="#747474"/><circle cx="574.9" cy="537.9" r="0.42" fill="#3b3b3b"/><circle cx="584.3" cy="549.6" r="0.42" fill="#737373"/><circle cx="575.4" cy="552.0" r="0.42" fill="#5d5d5d"/><circle cx="575.5" cy="555.4" r="0.42" fill="#2f2f2f"/><circle cx="572.7" cy="549.6" r="0.42" fill="#808080"/><circle cx="570.9" cy="535.7" r="0.42" fill="#3b3b3b"/><circle cx="570.8" cy="538.2" r="0.42" fill="#282828"/><circle cx="577.5" cy="540.3" r="0.42" fill="#909090"/><circle cx="573.6" cy="558.2" r="0.42" fill="#7a7a7a"/><circle cx="573.9" cy="545.7" r="0.42" fill="#656565"/><circle cx="571.6" cy="540.0" r="0.42" fill="#131313"/><circle cx="583.1" cy="550.4" r="0.42" fill="#525252"/><circle cx="577.8" cy="533.3" r="0.42" fill="#606060"/><circle cx="581.4" cy="556.7" r="0.42" fill="#494949"/><circle cx="583.0" cy="542.2" r="0.42" fill="#2d2d2d"/><circle cx="585.5" cy="535.4" r="0.42" fill="#6d6d6d"/><circle cx="575.1" cy="533.5" r="0.42" fill="#4c4c4c"/><circle cx="581.4" cy="532.3" r="0.42" fill="#474747"/><circle cx="576.8" cy="533.0" r="0.42" fill="#303030"/><circle cx="576.2" cy="547.5" r="0.42" fill="#464646"/><circle cx="580.0" cy="552.6" r="0.42" fill="#434343"/><circle cx="579.4" cy="534.0" r="0.42" fill="#787878"/><circle cx="575.0" cy="543.3" r="0.42" fill="#5c5c5c"/><circle cx="582.1" cy="544.8" r="0.42" fill="#656565"/><circle cx="571.9" cy="542.3" r="0.42" fill="#8e8e8e"/><circle cx="581.8" cy="541.2" r="0.42" fill="#757575"/><circle cx="568.7" cy="536.3" r="0.42" fill="#444444"/><circle cx="576.0" cy="541.5" r="0.42" fill="#6d6d6d"/><circle cx="573.3" cy="535.3" r="0.42" fill="#737373"/><circle cx="573.7" cy="542.7" r="0.42" fill="#7b7b7b"/><circle cx="572.5" cy="532.3" r="0.42" fill="#777777"/><circle cx="573.9" cy="536.9" r="0.42" fill="#5a5a5a"/><circle cx="587.8" cy="540.6" r="0.42" fill="#656565"/><circle cx="580.9" cy="536.2" r="0.42" fill="#363636"/><circle cx="573.4" cy="554.1" r="0.42" fill="#333333"/><circle cx="572.5" cy="541.3" r="0.42" fill="#282828"/><circle cx="582.9" cy="538.0" r="0.42" fill="#303030"/><circle cx="577.3" cy="541.8" r="0.42" fill="#656565"/><circle cx="573.3" cy="556.5" r="0.42" fill="#828282"/><circle cx="584.6" cy="533.9" r="0.42" fill="#7f7f7f"/><circle cx="586.7" cy="549.6" r="0.42" fill="#303030"/><circle cx="570.7" cy="535.3" r="0.42" fill="#777777"/><circle cx="584.7" cy="534.7" r="0.42" fill="#878787"/><circle cx="583.0" cy="549.6" r="0.42" fill="#878787"/><circle cx="579.9" cy="539.8" r="0.42" fill="#6c6c6c"/><circle cx="582.8" cy="542.7" r="0.42" fill="#868686"/><circle cx="573.3" cy="535.6" r="0.42" fill="#212121"/><circle cx="568.2" cy="542.1" r="0.42" fill="#222222"/><circle cx="577.3" cy="545.2" r="0.42" fill="#838383"/><circle cx="584.9" cy="543.8" r="0.42" fill="#5a5a5a"/><circle cx="585.1" cy="541.0" r="0.42" fill="#474747"/><circle cx="584.1" cy="549.8" r="0.42" fill="#646464"/><circle cx="579.3" cy="549.7" r="0.42" fill="#8c8c8c"/><circle cx="587.7" cy="545.3" r="0.42" fill="#505050"/><circle cx="586.0" cy="547.5" r="0.42" fill="#636363"/><circle cx="585.6" cy="540.8" r="0.42" fill="#4f4f4f"/><circle cx="584.1" cy="536.0" r="0.42" fill="#494949"/><circle cx="577.7" cy="553.8" r="0.42" fill="#363636"/><circle cx="571.5" cy="548.8" r="0.42" fill="#333333"/><circle cx="587.2" cy="549.6" r="0.42" fill="#797979"/><circle cx="574.2" cy="537.6" r="0.42" fill="#5e5e5e"/><circle cx="581.1" cy="556.0" r="0.42" fill="#585858"/><circle cx="579.3" cy="548.9" r="0.42" fill="#797979"/><circle cx="572.2" cy="536.4" r="0.42" fill="#636363"/><circle cx="579.0" cy="549.6" r="0.42" fill="#2b2b2b"/><circle cx="575.8" cy="551.7" r="0.42" fill="#1c1c1c"/><circle cx="585.9" cy="549.5" r="0.42" fill="#404040"/><circle cx="580.1" cy="534.3" r="0.42" fill="#313131"/><circle cx="576.4" cy="538.4" r="0.42" fill="#494949"/><circle cx="580.3" cy="530.4" r="0.42" fill="#1f1f1f"/><circle cx="567.1" cy="534.8" r="0.42" fill="#4b4b4b"/><circle cx="574.8" cy="546.5" r="0.42" fill="#8d8d8d"/><circle cx="571.6" cy="544.7" r="0.42" fill="#1c1c1c"/><circle cx="572.4" cy="533.0" r="0.42" fill="#111111"/><circle cx="582.5" cy="533.1" r="0.42" fill="#919191"/><circle cx="571.3" cy="550.4" r="0.42" fill="#282828"/><circle cx="582.7" cy="550.9" r="0.42" fill="#828282"/><circle cx="583.8" cy="550.3" r="0.42" fill="#6e6e6e"/><circle cx="587.4" cy="537.6" r="0.42" fill="#919191"/><circle cx="578.5" cy="544.2" r="0.42" fill="#666666"/><circle cx="581.4" cy="547.7" r="0.42" fill="#717171"/><circle cx="585.2" cy="544.4" r="0.42" fill="#171717"/><circle cx="579.3" cy="542.3" r="0.42" fill="#6a6a6a"/><circle cx="584.2" cy="540.6" r="0.42" fill="#666666"/><circle cx="576.1" cy="540.4" r="0.42" fill="#797979"/><circle cx="580.1" cy="534.2" r="0.42" fill="#363636"/><circle cx="585.0" cy="539.7" r="0.42" fill="#606060"/><circle cx="582.2" cy="535.1" r="0.42" fill="#383838"/><circle cx="586.1" cy="541.2" r="0.42" fill="#6b6b6b"/><circle cx="572.7" cy="541.2" r="0.42" fill="#5e5e5e"/><circle cx="578.9" cy="542.6" r="0.42" fill="#7f7f7f"/><circle cx="583.2" cy="536.9" r="0.42" fill="#333333"/><circle cx="581.6" cy="533.1" r="0.42" fill="#8a8a8a"/><circle cx="568.5" cy="544.7" r="0.42" fill="#7a7a7a"/><circle cx="581.5" cy="557.4" r="0.42" fill="#2e2e2e"/><circle cx="581.4" cy="543.3" r="0.42" fill="#2a2a2a"/><circle cx="582.0" cy="553.2" r="0.42" fill="#4d4d4d"/><circle cx="583.2" cy="552.8" r="0.42" fill="#2e2e2e"/><circle cx="578.0" cy="543.3" r="0.42" fill="#5e5e5e"/><circle cx="571.9" cy="533.8" r="0.42" fill="#6d6d6d"/><circle cx="579.2" cy="541.2" r="0.42" fill="#545454"/><circle cx="576.0" cy="532.0" r="0.42" fill="#646464"/><circle cx="580.8" cy="553.3" r="0.42" fill="#3d3d3d"/><circle cx="577.0" cy="546.0" r="0.42" fill="#323232"/><circle cx="564.4" cy="551.3" r="0.42" fill="#767676"/><circle cx="581.8" cy="543.0" r="0.42" fill="#141414"/><circle cx="567.8" cy="544.7" r="0.42" fill="#848484"/><circle cx="567.9" cy="546.0" r="0.42" fill="#444444"/><circle cx="578.5" cy="548.3" r="0.42" fill="#909090"/><circle cx="575.4" cy="542.2" r="0.42" fill="#242424"/><circle cx="581.5" cy="544.1" r="0.42" fill="#141414"/><circle cx="573.1" cy="555.7" r="0.42" fill="#898989"/><circle cx="586.6" cy="549.0" r="0.42" fill="#6e6e6e"/><circle cx="569.2" cy="550.8" r="0.42" fill="#8d8d8d"/><circle cx="572.9" cy="546.3" r="0.42" fill="#757575"/><circle cx="574.5" cy="536.4" r="0.42" fill="#1f1f1f"/><circle cx="571.2" cy="535.5" r="0.42" fill="#222222"/><circle cx="577.6" cy="531.9" r="0.42" fill="#8c8c8c"/><circle cx="573.8" cy="537.3" r="0.42" fill="#3c3c3c"/><circle cx="569.5" cy="544.8" r="0.42" fill="#222222"/><circle cx="567.4" cy="549.4" r="0.42" fill="#595959"/><circle cx="586.1" cy="537.8" r="0.42" fill="#464646"/><circle cx="571.6" cy="553.6" r="0.42" fill="#3c3c3c"/><circle cx="577.9" cy="538.6" r="0.42" fill="#888888"/><circle cx="585.4" cy="549.9" r="0.42" fill="#2b2b2b"/><circle cx="573.7" cy="536.3" r="0.42" fill="#2a2a2a"/><circle cx="571.8" cy="555.3" r="0.42" fill="#161616"/><circle cx="571.2" cy="564.6" r="0.42" fill="#111111"/><circle cx="575.5" cy="547.5" r="0.42" fill="#0f0f0f"/><circle cx="574.0" cy="542.8" r="0.42" fill="#494949"/><circle cx="577.9" cy="554.2" r="0.42" fill="#212121"/><circle cx="582.6" cy="550.9" r="0.42" fill="#292929"/><circle cx="568.4" cy="546.3" r="0.42" fill="#515151"/><circle cx="570.9" cy="546.7" r="0.42" fill="#6e6e6e"/><circle cx="574.5" cy="541.0" r="0.42" fill="#171717"/><circle cx="569.2" cy="550.1" r="0.42" fill="#161616"/><circle cx="570.7" cy="556.5" r="0.42" fill="#838383"/><circle cx="575.9" cy="555.0" r="0.42" fill="#323232"/><circle cx="585.0" cy="540.8" r="0.42" fill="#252525"/><circle cx="578.1" cy="542.4" r="0.42" fill="#545454"/><circle cx="581.1" cy="553.9" r="0.42" fill="#838383"/><circle cx="582.4" cy="540.9" r="0.42" fill="#747474"/><circle cx="577.3" cy="544.4" r="0.42" fill="#565656"/><circle cx="572.6" cy="534.0" r="0.42" fill="#1c1c1c"/><circle cx="568.3" cy="549.1" r="0.42" fill="#292929"/><circle cx="579.4" cy="546.5" r="0.42" fill="#555555"/><circle cx="585.6" cy="554.5" r="0.42" fill="#6f6f6f"/><circle cx="569.5" cy="543.0" r="0.42" fill="#525252"/><circle cx="569.7" cy="540.4" r="0.42" fill="#212121"/><circle cx="578.3" cy="551.5" r="0.42" fill="#252525"/><circle cx="583.0" cy="541.5" r="0.42" fill="#474747"/><circle cx="572.0" cy="542.2" r="0.42" fill="#8e8e8e"/><circle cx="574.8" cy="548.7" r="0.42" fill="#3c3c3c"/><circle cx="576.5" cy="557.7" r="0.42" fill="#8d8d8d"/><circle cx="575.4" cy="547.8" r="0.42" fill="#404040"/><circle cx="568.5" cy="541.1" r="0.42" fill="#535353"/><circle cx="579.4" cy="553.5" r="0.42" fill="#868686"/><circle cx="585.2" cy="547.2" r="0.42" fill="#323232"/><circle cx="572.5" cy="544.8" r="0.42" fill="#8b8b8b"/><circle cx="572.1" cy="544.1" r="0.42" fill="#494949"/><circle cx="575.7" cy="550.4" r="0.42" fill="#666666"/><circle cx="578.1" cy="557.8" r="0.42" fill="#545454"/><circle cx="576.7" cy="544.9" r="0.42" fill="#232323"/><circle cx="570.3" cy="537.1" r="0.42" fill="#454545"/><circle cx="573.3" cy="531.2" r="0.42" fill="#585858"/><circle cx="572.1" cy="558.5" r="0.42" fill="#727272"/><circle cx="577.0" cy="562.0" r="0.42" fill="#656565"/><circle cx="574.7" cy="559.4" r="0.42" fill="#3d3d3d"/><circle cx="575.0" cy="560.5" r="0.42" fill="#6a6a6a"/><circle cx="571.9" cy="566.5" r="0.42" fill="#3d3d3d"/><circle cx="575.0" cy="559.1" r="0.42" fill="#9e9e9e"/><circle cx="578.5" cy="558.1" r="0.42" fill="#262626"/><circle cx="573.4" cy="562.3" r="0.42" fill="#505050"/><circle cx="578.2" cy="557.3" r="0.42" fill="#3b3b3b"/><circle cx="574.8" cy="559.9" r="0.42" fill="#494949"/><circle cx="576.2" cy="564.0" r="0.42" fill="#8c8c8c"/><circle cx="569.7" cy="560.4" r="0.42" fill="#7e7e7e"/><circle cx="569.1" cy="561.9" r="0.42" fill="#7a7a7a"/><circle cx="577.7" cy="568.0" r="0.42" fill="#1e1e1e"/><circle cx="571.9" cy="559.3" r="0.42" fill="#9b9b9b"/><circle cx="572.8" cy="565.6" r="0.42" fill="#8f8f8f"/><circle cx="573.3" cy="561.1" r="0.42" fill="#595959"/><circle cx="573.0" cy="565.2" r="0.42" fill="#666666"/><circle cx="571.7" cy="565.4" r="0.42" fill="#8c8c8c"/><circle cx="574.7" cy="557.7" r="0.42" fill="#454545"/><circle cx="575.1" cy="563.3" r="0.42" fill="#292929"/><circle cx="570.7" cy="567.6" r="0.42" fill="#8a8a8a"/><circle cx="574.7" cy="565.7" r="0.42" fill="#949494"/><circle cx="569.2" cy="561.8" r="0.42" fill="#5e5e5e"/><circle cx="575.9" cy="557.8" r="0.42" fill="#9f9f9f"/><circle cx="574.2" cy="564.5" r="0.42" fill="#505050"/><circle cx="576.0" cy="560.2" r="0.42" fill="#999999"/><circle cx="575.9" cy="556.7" r="0.42" fill="#4e4e4e"/><circle cx="575.0" cy="563.1" r="0.42" fill="#909090"/><circle cx="571.2" cy="561.7" r="0.42" fill="#6f6f6f"/><circle cx="571.7" cy="565.2" r="0.42" fill="#888888"/><circle cx="578.2" cy="562.9" r="0.42" fill="#2c2c2c"/><circle cx="573.7" cy="555.5" r="0.42" fill="#9e9e9e"/><circle cx="572.8" cy="562.7" r="0.42" fill="#434343"/><circle cx="575.4" cy="557.9" r="0.42" fill="#353535"/><circle cx="576.1" cy="560.3" r="0.42" fill="#9f9f9f"/><circle cx="569.6" cy="559.8" r="0.42" fill="#848484"/><circle cx="571.4" cy="566.1" r="0.42" fill="#6a6a6a"/><circle cx="571.1" cy="561.3" r="0.42" fill="#656565"/><circle cx="576.1" cy="562.8" r="0.42" fill="#9f9f9f"/><circle cx="574.5" cy="556.8" r="0.42" fill="#323232"/><circle cx="575.4" cy="563.2" r="0.42" fill="#343434"/><circle cx="577.9" cy="564.2" r="0.42" fill="#868686"/><circle cx="571.9" cy="564.5" r="0.42" fill="#4b4b4b"/><circle cx="572.9" cy="556.1" r="0.42" fill="#939393"/><circle cx="572.9" cy="561.0" r="0.42" fill="#505050"/><circle cx="578.7" cy="564.0" r="0.42" fill="#9a9a9a"/><circle cx="576.5" cy="558.9" r="0.42" fill="#232323"/><circle cx="576.6" cy="559.9" r="0.42" fill="#929292"/><circle cx="572.2" cy="566.2" r="0.42" fill="#9a9a9a"/><circle cx="572.7" cy="564.7" r="0.42" fill="#3a3a3a"/><circle cx="578.8" cy="562.7" r="0.42" fill="#858585"/><circle cx="571.2" cy="559.4" r="0.42" fill="#363636"/><circle cx="572.6" cy="566.2" r="0.42" fill="#2c2c2c"/><circle cx="573.5" cy="560.4" r="0.42" fill="#262626"/><circle cx="578.6" cy="560.8" r="0.42" fill="#3d3d3d"/><circle cx="572.8" cy="558.0" r="0.42" fill="#222222"/><circle cx="573.6" cy="557.0" r="0.42" fill="#797979"/><circle cx="571.0" cy="565.9" r="0.42" fill="#2e2e2e"/><circle cx="577.5" cy="566.8" r="0.42" fill="#323232"/><circle cx="578.2" cy="580.9" r="0.42" fill="#e5e5e5"/><circle cx="579.7" cy="583.6" r="0.42" fill="#bfbfbf"/><circle cx="574.4" cy="587.9" r="0.42" fill="#c1c1c1"/><circle cx="575.4" cy="580.7" r="0.42" fill="#c0c0c0"/><circle cx="574.9" cy="591.3" r="0.42" fill="#bababa"/><circle cx="577.1" cy="578.7" r="0.42" fill="#dcdcdc"/><circle cx="577.8" cy="584.9" r="0.42" fill="#c4c4c4"/><circle cx="579.1" cy="579.7" r="0.42" fill="#d6d6d6"/><circle cx="577.2" cy="580.6" r="0.42" fill="#cecece"/><circle cx="574.0" cy="579.5" r="0.42" fill="#bfbfbf"/><circle cx="578.2" cy="578.9" r="0.42" fill="#c8c8c8"/><circle cx="577.4" cy="572.1" r="0.42" fill="#e0e0e0"/><circle cx="578.0" cy="586.9" r="0.42" fill="#c6c6c6"/><circle cx="577.8" cy="587.7" r="0.42" fill="#c0c0c0"/><circle cx="575.4" cy="589.8" r="0.42" fill="#bdbdbd"/><circle cx="579.5" cy="588.4" r="0.42" fill="#d9d9d9"/><circle cx="574.8" cy="579.3" r="0.42" fill="#c7c7c7"/><circle cx="575.6" cy="586.4" r="0.42" fill="#bdbdbd"/><circle cx="574.3" cy="579.7" r="0.42" fill="#c1c1c1"/><circle cx="578.0" cy="580.3" r="0.42" fill="#b4b4b4"/><circle cx="577.0" cy="579.0" r="0.42" fill="#b6b6b6"/><circle cx="576.4" cy="582.4" r="0.42" fill="#c0c0c0"/><circle cx="578.7" cy="577.4" r="0.42" fill="#e3e3e3"/><circle cx="579.1" cy="587.9" r="0.42" fill="#c8c8c8"/><circle cx="577.5" cy="579.5" r="0.42" fill="#b8b8b8"/><circle cx="573.3" cy="589.4" r="0.42" fill="#d7d7d7"/><circle cx="578.0" cy="576.6" r="0.42" fill="#cbcbcb"/><circle cx="578.1" cy="582.0" r="0.42" fill="#cecece"/><circle cx="578.8" cy="590.3" r="0.42" fill="#b6b6b6"/><circle cx="577.3" cy="579.4" r="0.42" fill="#d0d0d0"/><circle cx="575.4" cy="578.2" r="0.42" fill="#c0c0c0"/><circle cx="575.9" cy="581.6" r="0.42" fill="#bebebe"/><circle cx="574.5" cy="587.9" r="0.42" fill="#d6d6d6"/><circle cx="575.1" cy="583.8" r="0.42" fill="#cbcbcb"/><circle cx="575.9" cy="587.3" r="0.42" fill="#e2e2e2"/><circle cx="577.2" cy="580.0" r="0.42" fill="#dedede"/><circle cx="578.5" cy="576.5" r="0.42" fill="#d6d6d6"/><circle cx="576.5" cy="589.1" r="0.42" fill="#dfdfdf"/><circle cx="575.4" cy="580.6" r="0.42" fill="#bebebe"/><circle cx="575.4" cy="577.1" r="0.42" fill="#d8d8d8"/><circle cx="574.3" cy="579.8" r="0.42" fill="#cccccc"/><circle cx="578.4" cy="574.7" r="0.42" fill="#d9d9d9"/><circle cx="576.0" cy="582.5" r="0.42" fill="#cdcdcd"/><circle cx="574.8" cy="584.4" r="0.42" fill="#b4b4b4"/><circle cx="575.3" cy="577.3" r="0.42" fill="#e4e4e4"/><circle cx="575.2" cy="578.1" r="0.42" fill="#bbbbbb"/><circle cx="578.6" cy="590.7" r="0.42" fill="#c3c3c3"/><circle cx="577.7" cy="590.8" r="0.42" fill="#e4e4e4"/><circle cx="578.6" cy="590.5" r="0.42" fill="#dadada"/><circle cx="574.8" cy="590.4" r="0.42" fill="#c4c4c4"/><circle cx="577.1" cy="580.7" r="0.42" fill="#dfdfdf"/><circle cx="573.8" cy="584.9" r="0.42" fill="#d4d4d4"/><circle cx="575.8" cy="571.9" r="0.42" fill="#e5e5e5"/><circle cx="576.8" cy="576.3" r="0.42" fill="#c3c3c3"/><circle cx="574.1" cy="587.5" r="0.42" fill="#bcbcbc"/><circle cx="573.8" cy="582.2" r="0.42" fill="#bdbdbd"/><circle cx="580.1" cy="583.7" r="0.42" fill="#e0e0e0"/><circle cx="575.6" cy="585.6" r="0.42" fill="#d6d6d6"/><circle cx="576.3" cy="580.1" r="0.42" fill="#cacaca"/><circle cx="574.6" cy="579.2" r="0.42" fill="#cbcbcb"/><circle cx="575.8" cy="577.1" r="0.42" fill="#b8b8b8"/><circle cx="576.5" cy="593.4" r="0.42" fill="#e3e3e3"/><circle cx="581.1" cy="581.2" r="0.42" fill="#d4d4d4"/><circle cx="579.2" cy="586.6" r="0.42" fill="#d3d3d3"/><circle cx="577.3" cy="593.0" r="0.42" fill="#cccccc"/></g>
<g clip-path="url(#cu2)"><g><circle cx="622.1" cy="506.9" r="0.42" fill="#e2e2e2"/><circle cx="620.3" cy="512.4" r="0.42" fill="#cecece"/><circle cx="628.0" cy="507.4" r="0.42" fill="#d4d4d4"/><circle cx="625.9" cy="510.6" r="0.42" fill="#cbcbcb"/><circle cx="626.2" cy="503.2" r="0.42" fill="#e1e1e1"/><circle cx="618.8" cy="510.0" r="0.42" fill="#c4c4c4"/><circle cx="626.3" cy="505.0" r="0.42" fill="#d3d3d3"/><circle cx="625.6" cy="510.9" r="0.42" fill="#bcbcbc"/><circle cx="618.4" cy="508.5" r="0.42" fill="#e1e1e1"/><circle cx="628.9" cy="513.7" r="0.42" fill="#bebebe"/><circle cx="625.0" cy="507.5" r="0.42" fill="#e0e0e0"/><circle cx="626.4" cy="514.0" r="0.42" fill="#bfbfbf"/><circle cx="628.4" cy="510.6" r="0.42" fill="#cacaca"/><circle cx="626.9" cy="504.8" r="0.42" fill="#c7c7c7"/><circle cx="617.3" cy="513.6" r="0.42" fill="#d6d6d6"/><circle cx="616.5" cy="505.8" r="0.42" fill="#e1e1e1"/><circle cx="629.4" cy="506.9" r="0.42" fill="#dcdcdc"/><circle cx="630.7" cy="503.3" r="0.42" fill="#cacaca"/><circle cx="631.9" cy="507.3" r="0.42" fill="#bbbbbb"/><circle cx="618.9" cy="510.3" r="0.42" fill="#dedede"/><circle cx="632.3" cy="512.4" r="0.42" fill="#c4c4c4"/><circle cx="624.5" cy="515.0" r="0.42" fill="#d4d4d4"/><circle cx="630.3" cy="504.4" r="0.42" fill="#d3d3d3"/><circle cx="628.5" cy="507.6" r="0.42" fill="#bfbfbf"/><circle cx="619.0" cy="507.9" r="0.42" fill="#dedede"/><circle cx="629.3" cy="509.8" r="0.42" fill="#c0c0c0"/><circle cx="631.5" cy="514.4" r="0.42" fill="#bababa"/><circle cx="630.6" cy="512.4" r="0.42" fill="#cbcbcb"/><circle cx="619.8" cy="515.1" r="0.42" fill="#cbcbcb"/><circle cx="624.1" cy="508.4" r="0.42" fill="#c8c8c8"/><circle cx="631.8" cy="511.0" r="0.42" fill="#bbbbbb"/><circle cx="623.1" cy="509.0" r="0.42" fill="#d4d4d4"/><circle cx="626.7" cy="506.8" r="0.42" fill="#b9b9b9"/><circle cx="619.6" cy="512.3" r="0.42" fill="#c5c5c5"/><circle cx="625.4" cy="505.6" r="0.42" fill="#d3d3d3"/><circle cx="617.8" cy="510.5" r="0.42" fill="#dddddd"/><circle cx="626.3" cy="503.5" r="0.42" fill="#d6d6d6"/><circle cx="621.8" cy="514.3" r="0.42" fill="#e2e2e2"/><circle cx="623.9" cy="506.2" r="0.42" fill="#dcdcdc"/><circle cx="619.3" cy="509.2" r="0.42" fill="#c9c9c9"/><circle cx="623.9" cy="502.3" r="0.42" fill="#c8c8c8"/><circle cx="633.4" cy="509.2" r="0.42" fill="#cacaca"/><circle cx="621.1" cy="507.0" r="0.42" fill="#bfbfbf"/><circle cx="631.5" cy="508.7" r="0.42" fill="#cdcdcd"/><circle cx="622.2" cy="504.1" r="0.42" fill="#bcbcbc"/><circle cx="622.3" cy="513.2" r="0.42" fill="#d2d2d2"/><circle cx="620.2" cy="517.7" r="0.42" fill="#d4d4d4"/><circle cx="620.2" cy="510.8" r="0.42" fill="#e7e7e7"/><circle cx="629.9" cy="508.3" r="0.42" fill="#e1e1e1"/><circle cx="625.1" cy="516.0" r="0.42" fill="#c5c5c5"/><circle cx="621.6" cy="512.8" r="0.42" fill="#c3c3c3"/><circle cx="620.5" cy="511.2" r="0.42" fill="#e1e1e1"/><circle cx="620.5" cy="513.3" r="0.42" fill="#e6e6e6"/><circle cx="631.5" cy="506.9" r="0.42" fill="#bfbfbf"/><circle cx="626.0" cy="515.6" r="0.42" fill="#d7d7d7"/><circle cx="626.3" cy="513.2" r="0.42" fill="#dcdcdc"/><circle cx="623.9" cy="512.4" r="0.42" fill="#c8c8c8"/><circle cx="624.0" cy="502.1" r="0.42" fill="#d6d6d6"/><circle cx="625.3" cy="511.1" r="0.42" fill="#c5c5c5"/><circle cx="626.4" cy="517.5" r="0.42" fill="#bbbbbb"/><circle cx="629.1" cy="506.7" r="0.42" fill="#bdbdbd"/><circle cx="619.6" cy="513.9" r="0.42" fill="#bdbdbd"/><circle cx="620.6" cy="512.0" r="0.42" fill="#d4d4d4"/><circle cx="628.0" cy="511.2" r="0.42" fill="#c8c8c8"/><circle cx="625.1" cy="516.3" r="0.42" fill="#dcdcdc"/><circle cx="622.7" cy="516.4" r="0.42" fill="#e6e6e6"/><circle cx="621.8" cy="509.9" r="0.42" fill="#e5e5e5"/><circle cx="617.4" cy="509.1" r="0.42" fill="#d7d7d7"/><circle cx="616.9" cy="519.4" r="0.42" fill="#c3c3c3"/><circle cx="626.3" cy="510.1" r="0.42" fill="#bfbfbf"/><circle cx="625.4" cy="510.4" r="0.42" fill="#c1c1c1"/><circle cx="623.8" cy="511.3" r="0.42" fill="#c1c1c1"/><circle cx="627.7" cy="508.3" r="0.42" fill="#bababa"/><circle cx="626.0" cy="521.8" r="0.42" fill="#d0d0d0"/><circle cx="622.9" cy="514.4" r="0.42" fill="#cecece"/><circle cx="629.2" cy="502.4" r="0.42" fill="#d7d7d7"/><circle cx="626.4" cy="508.0" r="0.42" fill="#e4e4e4"/><circle cx="623.3" cy="507.3" r="0.42" fill="#c4c4c4"/><circle cx="624.3" cy="505.1" r="0.42" fill="#c2c2c2"/><circle cx="623.1" cy="506.7" r="0.42" fill="#e7e7e7"/><circle cx="626.5" cy="503.9" r="0.42" fill="#e1e1e1"/><circle cx="624.6" cy="516.7" r="0.42" fill="#dfdfdf"/><circle cx="622.7" cy="509.3" r="0.42" fill="#e2e2e2"/><circle cx="628.4" cy="511.1" r="0.42" fill="#cecece"/><circle cx="631.6" cy="504.8" r="0.42" fill="#e2e2e2"/><circle cx="627.2" cy="527.7" r="0.42" fill="#c6c6c6"/><circle cx="626.6" cy="522.4" r="0.42" fill="#bfbfbf"/><circle cx="626.8" cy="516.8" r="0.42" fill="#c5c5c5"/><circle cx="619.7" cy="520.2" r="0.42" fill="#e7e7e7"/><circle cx="630.1" cy="515.4" r="0.42" fill="#bfbfbf"/><circle cx="627.4" cy="525.2" r="0.42" fill="#bfbfbf"/><circle cx="621.3" cy="521.5" r="0.42" fill="#c2c2c2"/><circle cx="624.1" cy="517.3" r="0.42" fill="#d1d1d1"/><circle cx="626.2" cy="517.5" r="0.42" fill="#dfdfdf"/><circle cx="620.0" cy="520.4" r="0.42" fill="#d4d4d4"/><circle cx="623.0" cy="524.6" r="0.42" fill="#e9e9e9"/><circle cx="623.9" cy="519.5" r="0.42" fill="#c5c5c5"/><circle cx="624.3" cy="521.2" r="0.42" fill="#d7d7d7"/><circle cx="625.9" cy="523.1" r="0.42" fill="#d6d6d6"/><circle cx="626.6" cy="521.1" r="0.42" fill="#cccccc"/><circle cx="629.3" cy="520.9" r="0.42" fill="#cfcfcf"/><circle cx="628.8" cy="519.0" r="0.42" fill="#d9d9d9"/><circle cx="621.4" cy="518.2" r="0.42" fill="#c3c3c3"/><circle cx="625.5" cy="514.4" r="0.42" fill="#c0c0c0"/><circle cx="622.3" cy="524.6" r="0.42" fill="#d6d6d6"/><circle cx="626.9" cy="527.5" r="0.42" fill="#d4d4d4"/><circle cx="625.6" cy="526.0" r="0.42" fill="#cfcfcf"/><circle cx="621.4" cy="525.4" r="0.42" fill="#d9d9d9"/><circle cx="622.3" cy="524.3" r="0.42" fill="#d6d6d6"/><circle cx="625.4" cy="519.1" r="0.42" fill="#e6e6e6"/><circle cx="626.6" cy="522.8" r="0.42" fill="#d3d3d3"/><circle cx="624.5" cy="522.8" r="0.42" fill="#d5d5d5"/><circle cx="624.3" cy="524.8" r="0.42" fill="#e2e2e2"/><circle cx="625.7" cy="527.2" r="0.42" fill="#e6e6e6"/><circle cx="626.9" cy="523.5" r="0.42" fill="#e3e3e3"/><circle cx="625.4" cy="524.0" r="0.42" fill="#c9c9c9"/><circle cx="622.6" cy="526.8" r="0.42" fill="#d5d5d5"/><circle cx="619.7" cy="521.0" r="0.42" fill="#eaeaea"/><circle cx="623.6" cy="522.2" r="0.42" fill="#e1e1e1"/><circle cx="626.8" cy="527.1" r="0.42" fill="#cecece"/><circle cx="621.3" cy="520.7" r="0.42" fill="#cdcdcd"/><circle cx="625.0" cy="516.2" r="0.42" fill="#c6c6c6"/><circle cx="623.8" cy="525.8" r="0.42" fill="#c8c8c8"/><circle cx="627.6" cy="525.4" r="0.42" fill="#e4e4e4"/><circle cx="623.4" cy="526.7" r="0.42" fill="#d9d9d9"/><circle cx="619.2" cy="521.7" r="0.42" fill="#cecece"/><circle cx="623.4" cy="526.2" r="0.42" fill="#dbdbdb"/><circle cx="622.5" cy="525.5" r="0.42" fill="#d8d8d8"/><circle cx="627.0" cy="531.9" r="0.42" fill="#dedede"/><circle cx="626.0" cy="520.1" r="0.42" fill="#c1c1c1"/><circle cx="634.5" cy="521.6" r="0.42" fill="#9f9f9f"/><circle cx="638.5" cy="520.6" r="0.42" fill="#a7a7a7"/><circle cx="637.9" cy="522.0" r="0.42" fill="#999999"/><circle cx="645.1" cy="520.6" r="0.42" fill="#9f9f9f"/><circle cx="644.0" cy="521.4" r="0.42" fill="#b3b3b3"/><circle cx="630.7" cy="521.4" r="0.42" fill="#a4a4a4"/><circle cx="638.8" cy="520.4" r="0.42" fill="#898989"/><circle cx="631.5" cy="521.7" r="0.42" fill="#a5a5a5"/><circle cx="641.6" cy="521.5" r="0.42" fill="#9e9e9e"/><circle cx="641.7" cy="520.5" r="0.42" fill="#a6a6a6"/><circle cx="642.2" cy="519.1" r="0.42" fill="#838383"/><circle cx="638.8" cy="519.1" r="0.42" fill="#c7c7c7"/><circle cx="634.5" cy="520.2" r="0.42" fill="#8c8c8c"/><circle cx="633.4" cy="520.4" r="0.42" fill="#999999"/><circle cx="635.2" cy="522.0" r="0.42" fill="#b8b8b8"/><circle cx="638.4" cy="521.4" r="0.42" fill="#7c7c7c"/><circle cx="636.4" cy="520.7" r="0.42" fill="#9f9f9f"/><circle cx="636.2" cy="521.8" r="0.42" fill="#888888"/><circle cx="637.1" cy="520.7" r="0.42" fill="#919191"/><circle cx="637.0" cy="521.0" r="0.42" fill="#919191"/><circle cx="643.5" cy="520.1" r="0.42" fill="#b0b0b0"/><circle cx="634.4" cy="520.3" r="0.42" fill="#c2c2c2"/><circle cx="653.1" cy="512.5" r="0.42" fill="#424242"/><circle cx="657.6" cy="512.7" r="0.42" fill="#535353"/><circle cx="648.8" cy="508.0" r="0.42" fill="#7c7c7c"/><circle cx="655.9" cy="507.6" r="0.42" fill="#575757"/><circle cx="658.0" cy="517.1" r="0.42" fill="#565656"/><circle cx="649.2" cy="514.5" r="0.42" fill="#b7b7b7"/><circle cx="655.7" cy="507.1" r="0.42" fill="#b1b1b1"/><circle cx="656.1" cy="504.0" r="0.42" fill="#a8a8a8"/><circle cx="650.8" cy="511.7" r="0.42" fill="#656565"/><circle cx="651.9" cy="515.3" r="0.42" fill="#4f4f4f"/><circle cx="656.9" cy="510.0" r="0.42" fill="#404040"/><circle cx="655.5" cy="506.6" r="0.42" fill="#828282"/><circle cx="653.5" cy="513.7" r="0.42" fill="#737373"/><circle cx="654.2" cy="507.5" r="0.42" fill="#696969"/><circle cx="646.9" cy="510.7" r="0.42" fill="#484848"/><circle cx="658.1" cy="511.9" r="0.42" fill="#828282"/><circle cx="649.8" cy="507.3" r="0.42" fill="#b0b0b0"/><circle cx="654.9" cy="518.9" r="0.42" fill="#404040"/><circle cx="659.3" cy="508.3" r="0.42" fill="#b6b6b6"/><circle cx="648.7" cy="508.1" r="0.42" fill="#767676"/><circle cx="656.7" cy="506.0" r="0.42" fill="#a2a2a2"/><circle cx="649.0" cy="511.3" r="0.42" fill="#484848"/><circle cx="657.2" cy="511.9" r="0.42" fill="#777777"/><circle cx="654.1" cy="504.8" r="0.42" fill="#909090"/><circle cx="654.8" cy="508.4" r="0.42" fill="#6c6c6c"/><circle cx="650.0" cy="505.8" r="0.42" fill="#b6b6b6"/><circle cx="653.7" cy="505.5" r="0.42" fill="#484848"/><circle cx="656.5" cy="513.4" r="0.42" fill="#818181"/><circle cx="653.5" cy="505.7" r="0.42" fill="#818181"/><circle cx="652.4" cy="506.2" r="0.42" fill="#707070"/><circle cx="649.6" cy="506.8" r="0.42" fill="#adadad"/><circle cx="659.0" cy="510.3" r="0.42" fill="#a2a2a2"/><circle cx="656.1" cy="506.7" r="0.42" fill="#9d9d9d"/><circle cx="652.7" cy="510.8" r="0.42" fill="#616161"/><circle cx="657.4" cy="513.0" r="0.42" fill="#5a5a5a"/><circle cx="657.2" cy="513.5" r="0.42" fill="#444444"/><circle cx="655.0" cy="517.3" r="0.42" fill="#414141"/><circle cx="656.1" cy="515.0" r="0.42" fill="#686868"/><circle cx="647.2" cy="512.5" r="0.42" fill="#3d3d3d"/><circle cx="651.3" cy="512.5" r="0.42" fill="#474747"/><circle cx="656.6" cy="513.0" r="0.42" fill="#4f4f4f"/><circle cx="649.8" cy="506.2" r="0.42" fill="#585858"/><circle cx="657.3" cy="510.2" r="0.42" fill="#7c7c7c"/><circle cx="658.2" cy="507.1" r="0.42" fill="#8e8e8e"/><circle cx="655.3" cy="515.4" r="0.42" fill="#a2a2a2"/><circle cx="656.4" cy="508.4" r="0.42" fill="#515151"/><circle cx="651.6" cy="505.0" r="0.42" fill="#4d4d4d"/><circle cx="660.0" cy="507.4" r="0.42" fill="#9c9c9c"/><circle cx="655.2" cy="505.8" r="0.42" fill="#747474"/><circle cx="655.2" cy="503.1" r="0.42" fill="#626262"/><circle cx="646.7" cy="508.7" r="0.42" fill="#4b4b4b"/><circle cx="654.4" cy="507.7" r="0.42" fill="#a8a8a8"/><circle cx="650.4" cy="509.9" r="0.42" fill="#5a5a5a"/><circle cx="658.6" cy="513.1" r="0.42" fill="#989898"/><circle cx="657.2" cy="514.7" r="0.42" fill="#949494"/><circle cx="655.3" cy="507.1" r="0.42" fill="#474747"/><circle cx="657.8" cy="508.2" r="0.42" fill="#898989"/><circle cx="654.0" cy="510.2" r="0.42" fill="#7b7b7b"/><circle cx="649.4" cy="514.9" r="0.42" fill="#727272"/><circle cx="653.4" cy="508.2" r="0.42" fill="#575757"/><circle cx="657.9" cy="512.2" r="0.42" fill="#616161"/><circle cx="651.3" cy="513.3" r="0.42" fill="#757575"/><circle cx="657.4" cy="505.1" r="0.42" fill="#949494"/><circle cx="657.6" cy="506.0" r="0.42" fill="#5f5f5f"/><circle cx="652.5" cy="512.5" r="0.42" fill="#afafaf"/><circle cx="658.4" cy="509.0" r="0.42" fill="#7c7c7c"/><circle cx="644.8" cy="510.0" r="0.42" fill="#545454"/><circle cx="655.9" cy="514.4" r="0.42" fill="#3c3c3c"/><circle cx="659.0" cy="509.9" r="0.42" fill="#a5a5a5"/><circle cx="652.2" cy="504.9" r="0.42" fill="#838383"/><circle cx="651.0" cy="510.2" r="0.42" fill="#b4b4b4"/><circle cx="653.3" cy="509.2" r="0.42" fill="#8d8d8d"/><circle cx="659.2" cy="508.5" r="0.42" fill="#919191"/><circle cx="652.5" cy="510.8" r="0.42" fill="#939393"/><circle cx="651.0" cy="510.5" r="0.42" fill="#bababa"/><circle cx="657.7" cy="513.1" r="0.42" fill="#848484"/><circle cx="656.8" cy="516.0" r="0.42" fill="#9a9a9a"/><circle cx="656.5" cy="511.2" r="0.42" fill="#4d4d4d"/><circle cx="655.2" cy="509.2" r="0.42" fill="#888888"/><circle cx="648.7" cy="509.0" r="0.42" fill="#9d9d9d"/><circle cx="651.4" cy="514.2" r="0.42" fill="#616161"/><circle cx="653.0" cy="517.3" r="0.42" fill="#909090"/><circle cx="652.6" cy="507.2" r="0.42" fill="#b9b9b9"/><circle cx="653.0" cy="507.7" r="0.42" fill="#515151"/><circle cx="657.6" cy="514.7" r="0.42" fill="#696969"/><circle cx="654.1" cy="515.8" r="0.42" fill="#515151"/><circle cx="655.2" cy="513.3" r="0.42" fill="#424242"/><circle cx="652.6" cy="517.1" r="0.42" fill="#b9b9b9"/><circle cx="648.8" cy="530.9" r="0.42" fill="#414141"/><circle cx="656.9" cy="523.3" r="0.42" fill="#494949"/><circle cx="650.8" cy="532.1" r="0.42" fill="#4a4a4a"/><circle cx="668.2" cy="533.4" r="0.42" fill="#949494"/><circle cx="665.3" cy="530.2" r="0.42" fill="#3b3b3b"/><circle cx="646.9" cy="524.7" r="0.42" fill="#7f7f7f"/><circle cx="654.1" cy="530.7" r="0.42" fill="#9f9f9f"/><circle cx="649.9" cy="527.1" r="0.42" fill="#494949"/><circle cx="669.2" cy="536.4" r="0.42" fill="#717171"/><circle cx="670.0" cy="531.8" r="0.42" fill="#474747"/><circle cx="656.5" cy="532.0" r="0.42" fill="#808080"/><circle cx="667.2" cy="528.3" r="0.42" fill="#4f4f4f"/><circle cx="668.8" cy="536.3" r="0.42" fill="#818181"/><circle cx="640.6" cy="526.1" r="0.42" fill="#888888"/><circle cx="651.9" cy="530.5" r="0.42" fill="#555555"/><circle cx="666.7" cy="533.9" r="0.42" fill="#6b6b6b"/><circle cx="654.3" cy="521.5" r="0.42" fill="#5d5d5d"/><circle cx="665.4" cy="535.1" r="0.42" fill="#737373"/><circle cx="659.8" cy="527.0" r="0.42" fill="#959595"/><circle cx="659.4" cy="528.1" r="0.42" fill="#7f7f7f"/><circle cx="640.7" cy="520.9" r="0.42" fill="#9c9c9c"/><circle cx="663.0" cy="526.9" r="0.42" fill="#9a9a9a"/><circle cx="661.1" cy="533.5" r="0.42" fill="#777777"/><circle cx="643.9" cy="523.8" r="0.42" fill="#939393"/><circle cx="650.0" cy="521.6" r="0.42" fill="#343434"/><circle cx="651.5" cy="528.8" r="0.42" fill="#313131"/><circle cx="656.1" cy="528.6" r="0.42" fill="#797979"/><circle cx="652.6" cy="520.6" r="0.42" fill="#616161"/><circle cx="648.1" cy="526.2" r="0.42" fill="#545454"/><circle cx="659.9" cy="526.3" r="0.42" fill="#8f8f8f"/><circle cx="664.3" cy="536.5" r="0.42" fill="#6d6d6d"/><circle cx="657.0" cy="527.7" r="0.42" fill="#303030"/><circle cx="662.3" cy="532.5" r="0.42" fill="#5c5c5c"/><circle cx="660.4" cy="526.6" r="0.42" fill="#989898"/><circle cx="666.2" cy="524.4" r="0.42" fill="#525252"/><circle cx="663.4" cy="533.6" r="0.42" fill="#393939"/><circle cx="660.5" cy="533.3" r="0.42" fill="#636363"/><circle cx="648.4" cy="523.2" r="0.42" fill="#4c4c4c"/><circle cx="663.0" cy="531.9" r="0.42" fill="#616161"/><circle cx="663.8" cy="527.9" r="0.42" fill="#4a4a4a"/><circle cx="667.0" cy="536.6" r="0.42" fill="#858585"/><circle cx="665.4" cy="535.9" r="0.42" fill="#797979"/><circle cx="654.3" cy="522.8" r="0.42" fill="#7a7a7a"/><circle cx="655.3" cy="529.0" r="0.42" fill="#3e3e3e"/><circle cx="657.4" cy="523.5" r="0.42" fill="#353535"/><circle cx="664.4" cy="531.9" r="0.42" fill="#a8a8a8"/><circle cx="660.4" cy="526.4" r="0.42" fill="#929292"/><circle cx="645.3" cy="523.9" r="0.42" fill="#6a6a6a"/><circle cx="666.8" cy="536.3" r="0.42" fill="#a2a2a2"/><circle cx="644.6" cy="525.0" r="0.42" fill="#595959"/><circle cx="659.3" cy="528.2" r="0.42" fill="#292929"/><circle cx="659.5" cy="528.3" r="0.42" fill="#292929"/><circle cx="659.9" cy="526.2" r="0.42" fill="#2d2d2d"/><circle cx="653.9" cy="526.9" r="0.42" fill="#525252"/><circle cx="667.3" cy="533.5" r="0.42" fill="#7b7b7b"/><circle cx="647.2" cy="529.6" r="0.42" fill="#595959"/><circle cx="661.1" cy="525.6" r="0.42" fill="#414141"/><circle cx="658.1" cy="531.2" r="0.42" fill="#838383"/><circle cx="643.2" cy="525.2" r="0.42" fill="#2e2e2e"/><circle cx="652.8" cy="529.1" r="0.42" fill="#848484"/><circle cx="659.6" cy="532.7" r="0.42" fill="#656565"/><circle cx="667.4" cy="535.1" r="0.42" fill="#303030"/><circle cx="651.9" cy="530.3" r="0.42" fill="#939393"/><circle cx="659.0" cy="535.6" r="0.42" fill="#7b7b7b"/><circle cx="655.3" cy="530.0" r="0.42" fill="#2a2a2a"/><circle cx="669.9" cy="540.9" r="0.42" fill="#848484"/><circle cx="666.9" cy="528.9" r="0.42" fill="#6a6a6a"/><circle cx="662.4" cy="536.7" r="0.42" fill="#9f9f9f"/><circle cx="666.0" cy="533.9" r="0.42" fill="#929292"/><circle cx="659.3" cy="531.2" r="0.42" fill="#8f8f8f"/><circle cx="643.8" cy="523.0" r="0.42" fill="#4d4d4d"/><circle cx="665.4" cy="532.2" r="0.42" fill="#373737"/><circle cx="648.7" cy="523.8" r="0.42" fill="#363636"/><circle cx="650.3" cy="524.5" r="0.42" fill="#343434"/><circle cx="667.1" cy="527.9" r="0.42" fill="#353535"/><circle cx="649.6" cy="528.8" r="0.42" fill="#3b3b3b"/><circle cx="644.7" cy="525.4" r="0.42" fill="#757575"/><circle cx="655.8" cy="526.9" r="0.42" fill="#777777"/><circle cx="666.8" cy="536.7" r="0.42" fill="#8f8f8f"/><circle cx="664.5" cy="527.4" r="0.42" fill="#2b2b2b"/><circle cx="666.6" cy="532.4" r="0.42" fill="#9a9a9a"/><circle cx="669.1" cy="533.8" r="0.42" fill="#838383"/><circle cx="651.8" cy="524.1" r="0.42" fill="#525252"/><circle cx="652.3" cy="533.1" r="0.42" fill="#7d7d7d"/><circle cx="660.3" cy="523.4" r="0.42" fill="#a9a9a9"/><circle cx="654.6" cy="530.3" r="0.42" fill="#5d5d5d"/><circle cx="646.9" cy="529.2" r="0.42" fill="#9f9f9f"/><circle cx="662.6" cy="535.2" r="0.42" fill="#9b9b9b"/><circle cx="653.2" cy="526.6" r="0.42" fill="#939393"/><circle cx="660.8" cy="528.7" r="0.42" fill="#6d6d6d"/><circle cx="659.8" cy="533.9" r="0.42" fill="#7c7c7c"/><circle cx="669.2" cy="533.4" r="0.42" fill="#9e9e9e"/><circle cx="649.6" cy="522.3" r="0.42" fill="#9d9d9d"/><circle cx="648.7" cy="527.7" r="0.42" fill="#a8a8a8"/><circle cx="653.8" cy="529.7" r="0.42" fill="#818181"/><circle cx="657.7" cy="526.3" r="0.42" fill="#494949"/><circle cx="663.4" cy="527.8" r="0.42" fill="#494949"/><circle cx="651.9" cy="522.4" r="0.42" fill="#7d7d7d"/><circle cx="663.0" cy="528.9" r="0.42" fill="#303030"/><circle cx="653.8" cy="533.6" r="0.42" fill="#818181"/><circle cx="665.7" cy="528.5" r="0.42" fill="#353535"/><circle cx="652.9" cy="529.4" r="0.42" fill="#616161"/><circle cx="668.8" cy="539.2" r="0.42" fill="#545454"/><circle cx="669.6" cy="536.1" r="0.42" fill="#454545"/><circle cx="662.1" cy="526.1" r="0.42" fill="#4c4c4c"/><circle cx="646.1" cy="525.7" r="0.42" fill="#747474"/><circle cx="649.5" cy="520.2" r="0.42" fill="#343434"/><circle cx="647.2" cy="527.5" r="0.42" fill="#727272"/><circle cx="670.1" cy="533.2" r="0.42" fill="#858585"/><circle cx="665.9" cy="529.6" r="0.42" fill="#575757"/><circle cx="647.0" cy="520.5" r="0.42" fill="#8f8f8f"/><circle cx="651.8" cy="529.8" r="0.42" fill="#454545"/><circle cx="649.3" cy="523.4" r="0.42" fill="#575757"/><circle cx="653.7" cy="532.2" r="0.42" fill="#2e2e2e"/><circle cx="667.3" cy="530.1" r="0.42" fill="#2b2b2b"/><circle cx="646.0" cy="522.9" r="0.42" fill="#848484"/><circle cx="646.0" cy="523.1" r="0.42" fill="#3e3e3e"/><circle cx="656.9" cy="523.4" r="0.42" fill="#303030"/><circle cx="653.3" cy="533.0" r="0.42" fill="#707070"/><circle cx="647.5" cy="527.5" r="0.42" fill="#717171"/><circle cx="671.3" cy="534.0" r="0.42" fill="#363636"/><circle cx="651.3" cy="525.6" r="0.42" fill="#3e3e3e"/><circle cx="656.6" cy="530.0" r="0.42" fill="#4a4a4a"/><circle cx="644.3" cy="524.1" r="0.42" fill="#313131"/><circle cx="653.0" cy="522.8" r="0.42" fill="#7e7e7e"/><circle cx="657.7" cy="524.7" r="0.42" fill="#292929"/><circle cx="659.5" cy="523.4" r="0.42" fill="#656565"/><circle cx="651.5" cy="525.5" r="0.42" fill="#686868"/><circle cx="662.6" cy="526.6" r="0.42" fill="#909090"/><circle cx="658.4" cy="522.3" r="0.42" fill="#575757"/><circle cx="657.8" cy="531.5" r="0.42" fill="#757575"/><circle cx="660.5" cy="531.7" r="0.42" fill="#2c2c2c"/><circle cx="657.1" cy="532.5" r="0.42" fill="#747474"/><circle cx="678.5" cy="541.9" r="0.42" fill="#6a6a6a"/><circle cx="665.3" cy="544.3" r="0.42" fill="#8f8f8f"/><circle cx="657.0" cy="554.5" r="0.42" fill="#2a2a2a"/><circle cx="660.8" cy="545.2" r="0.42" fill="#909090"/><circle cx="664.0" cy="538.4" r="0.42" fill="#696969"/><circle cx="663.7" cy="532.2" r="0.42" fill="#7e7e7e"/><circle cx="669.8" cy="536.1" r="0.42" fill="#4c4c4c"/><circle cx="673.1" cy="532.3" r="0.42" fill="#2f2f2f"/><circle cx="655.9" cy="543.7" r="0.42" fill="#5d5d5d"/><circle cx="670.8" cy="546.8" r="0.42" fill="#252525"/><circle cx="665.0" cy="540.8" r="0.42" fill="#868686"/><circle cx="658.1" cy="558.4" r="0.42" fill="#464646"/><circle cx="676.5" cy="542.3" r="0.42" fill="#565656"/><circle cx="671.0" cy="532.1" r="0.42" fill="#545454"/><circle cx="658.4" cy="548.7" r="0.42" fill="#5e5e5e"/><circle cx="682.5" cy="531.8" r="0.42" fill="#292929"/><circle cx="676.8" cy="547.5" r="0.42" fill="#272727"/><circle cx="660.1" cy="534.4" r="0.42" fill="#404040"/><circle cx="672.4" cy="530.0" r="0.42" fill="#737373"/><circle cx="664.6" cy="549.8" r="0.42" fill="#7a7a7a"/><circle cx="664.7" cy="550.0" r="0.42" fill="#6e6e6e"/><circle cx="674.8" cy="535.7" r="0.42" fill="#494949"/><circle cx="667.1" cy="553.1" r="0.42" fill="#909090"/><circle cx="665.9" cy="558.7" r="0.42" fill="#3f3f3f"/><circle cx="674.7" cy="532.1" r="0.42" fill="#2d2d2d"/><circle cx="656.2" cy="539.8" r="0.42" fill="#474747"/><circle cx="666.8" cy="559.2" r="0.42" fill="#5c5c5c"/><circle cx="671.9" cy="542.4" r="0.42" fill="#262626"/><circle cx="657.0" cy="538.6" r="0.42" fill="#909090"/><circle cx="672.5" cy="533.5" r="0.42" fill="#646464"/><circle cx="670.9" cy="543.2" r="0.42" fill="#767676"/><circle cx="658.1" cy="554.2" r="0.42" fill="#606060"/><circle cx="673.8" cy="536.2" r="0.42" fill="#292929"/><circle cx="666.2" cy="551.8" r="0.42" fill="#333333"/><circle cx="659.3" cy="535.3" r="0.42" fill="#6e6e6e"/><circle cx="669.5" cy="544.9" r="0.42" fill="#8d8d8d"/><circle cx="669.3" cy="550.9" r="0.42" fill="#555555"/><circle cx="663.8" cy="543.1" r="0.42" fill="#313131"/><circle cx="654.3" cy="547.1" r="0.42" fill="#6d6d6d"/><circle cx="673.3" cy="552.6" r="0.42" fill="#3d3d3d"/><circle cx="669.2" cy="528.9" r="0.42" fill="#232323"/><circle cx="662.1" cy="551.0" r="0.42" fill="#2d2d2d"/><circle cx="667.4" cy="540.3" r="0.42" fill="#5e5e5e"/><circle cx="670.7" cy="554.9" r="0.42" fill="#797979"/><circle cx="654.2" cy="548.4" r="0.42" fill="#5b5b5b"/><circle cx="657.2" cy="545.9" r="0.42" fill="#1d1d1d"/><circle cx="659.6" cy="535.1" r="0.42" fill="#484848"/><circle cx="673.2" cy="535.2" r="0.42" fill="#363636"/><circle cx="670.9" cy="548.4" r="0.42" fill="#888888"/><circle cx="660.2" cy="549.0" r="0.42" fill="#323232"/><circle cx="657.5" cy="552.4" r="0.42" fill="#7e7e7e"/><circle cx="679.0" cy="541.2" r="0.42" fill="#383838"/><circle cx="673.6" cy="529.5" r="0.42" fill="#616161"/><circle cx="653.5" cy="543.2" r="0.42" fill="#232323"/><circle cx="672.6" cy="537.6" r="0.42" fill="#292929"/><circle cx="666.1" cy="544.7" r="0.42" fill="#3f3f3f"/><circle cx="653.8" cy="539.9" r="0.42" fill="#1d1d1d"/><circle cx="662.9" cy="543.1" r="0.42" fill="#313131"/><circle cx="658.9" cy="537.1" r="0.42" fill="#4f4f4f"/><circle cx="667.8" cy="535.5" r="0.42" fill="#4b4b4b"/><circle cx="675.8" cy="539.9" r="0.42" fill="#1d1d1d"/><circle cx="670.5" cy="536.9" r="0.42" fill="#141414"/><circle cx="669.5" cy="541.8" r="0.42" fill="#4d4d4d"/><circle cx="661.9" cy="528.8" r="0.42" fill="#747474"/><circle cx="663.0" cy="545.2" r="0.42" fill="#444444"/><circle cx="659.2" cy="552.5" r="0.42" fill="#212121"/><circle cx="665.7" cy="555.4" r="0.42" fill="#252525"/><circle cx="673.6" cy="542.2" r="0.42" fill="#3c3c3c"/><circle cx="656.2" cy="534.8" r="0.42" fill="#727272"/><circle cx="673.4" cy="538.9" r="0.42" fill="#909090"/><circle cx="660.3" cy="542.2" r="0.42" fill="#6f6f6f"/><circle cx="668.9" cy="548.6" r="0.42" fill="#909090"/><circle cx="675.2" cy="539.4" r="0.42" fill="#303030"/><circle cx="663.5" cy="560.6" r="0.42" fill="#232323"/><circle cx="663.5" cy="548.8" r="0.42" fill="#737373"/><circle cx="657.6" cy="540.4" r="0.42" fill="#7d7d7d"/><circle cx="665.1" cy="543.3" r="0.42" fill="#767676"/><circle cx="660.0" cy="555.3" r="0.42" fill="#7d7d7d"/><circle cx="662.7" cy="539.4" r="0.42" fill="#3e3e3e"/><circle cx="656.1" cy="533.7" r="0.42" fill="#898989"/><circle cx="668.4" cy="557.5" r="0.42" fill="#757575"/><circle cx="672.0" cy="555.3" r="0.42" fill="#313131"/><circle cx="661.5" cy="555.2" r="0.42" fill="#212121"/><circle cx="660.4" cy="554.4" r="0.42" fill="#3d3d3d"/><circle cx="676.2" cy="529.8" r="0.42" fill="#212121"/><circle cx="667.0" cy="530.5" r="0.42" fill="#676767"/><circle cx="676.1" cy="546.7" r="0.42" fill="#4c4c4c"/><circle cx="672.9" cy="554.4" r="0.42" fill="#848484"/><circle cx="662.4" cy="535.0" r="0.42" fill="#1c1c1c"/><circle cx="653.2" cy="551.0" r="0.42" fill="#292929"/><circle cx="662.3" cy="554.0" r="0.42" fill="#8f8f8f"/><circle cx="668.3" cy="557.8" r="0.42" fill="#4e4e4e"/><circle cx="666.1" cy="536.2" r="0.42" fill="#848484"/><circle cx="654.8" cy="545.9" r="0.42" fill="#7e7e7e"/><circle cx="665.8" cy="541.1" r="0.42" fill="#858585"/><circle cx="658.4" cy="538.5" r="0.42" fill="#404040"/><circle cx="665.2" cy="539.5" r="0.42" fill="#8a8a8a"/><circle cx="668.7" cy="542.0" r="0.42" fill="#6f6f6f"/><circle cx="654.6" cy="543.7" r="0.42" fill="#7d7d7d"/><circle cx="662.3" cy="548.7" r="0.42" fill="#737373"/><circle cx="667.1" cy="562.6" r="0.42" fill="#949494"/><circle cx="662.0" cy="550.8" r="0.42" fill="#8c8c8c"/><circle cx="661.1" cy="537.6" r="0.42" fill="#717171"/><circle cx="667.3" cy="544.1" r="0.42" fill="#696969"/><circle cx="666.7" cy="554.2" r="0.42" fill="#272727"/><circle cx="654.7" cy="538.0" r="0.42" fill="#848484"/><circle cx="652.8" cy="542.8" r="0.42" fill="#888888"/><circle cx="674.7" cy="541.8" r="0.42" fill="#8c8c8c"/><circle cx="655.7" cy="547.5" r="0.42" fill="#7b7b7b"/><circle cx="669.6" cy="536.1" r="0.42" fill="#343434"/><circle cx="666.5" cy="543.0" r="0.42" fill="#1b1b1b"/><circle cx="660.8" cy="550.9" r="0.42" fill="#747474"/><circle cx="659.2" cy="543.9" r="0.42" fill="#262626"/><circle cx="667.6" cy="551.7" r="0.42" fill="#747474"/><circle cx="665.3" cy="536.9" r="0.42" fill="#808080"/><circle cx="682.0" cy="552.7" r="0.42" fill="#4a4a4a"/><circle cx="672.1" cy="532.3" r="0.42" fill="#4d4d4d"/><circle cx="674.3" cy="536.1" r="0.42" fill="#292929"/><circle cx="663.1" cy="547.8" r="0.42" fill="#373737"/><circle cx="658.1" cy="536.9" r="0.42" fill="#535353"/><circle cx="665.6" cy="541.9" r="0.42" fill="#929292"/><circle cx="678.4" cy="544.3" r="0.42" fill="#292929"/><circle cx="657.3" cy="531.8" r="0.42" fill="#181818"/><circle cx="673.5" cy="542.9" r="0.42" fill="#3e3e3e"/><circle cx="661.2" cy="550.1" r="0.42" fill="#434343"/><circle cx="675.8" cy="547.5" r="0.42" fill="#0f0f0f"/><circle cx="665.9" cy="535.6" r="0.42" fill="#646464"/><circle cx="659.1" cy="548.9" r="0.42" fill="#373737"/><circle cx="669.7" cy="552.4" r="0.42" fill="#8f8f8f"/><circle cx="661.1" cy="555.6" r="0.42" fill="#797979"/><circle cx="671.5" cy="539.1" r="0.42" fill="#8e8e8e"/><circle cx="664.4" cy="532.9" r="0.42" fill="#1e1e1e"/><circle cx="666.7" cy="542.1" r="0.42" fill="#3a3a3a"/><circle cx="666.3" cy="539.4" r="0.42" fill="#878787"/><circle cx="665.4" cy="558.7" r="0.42" fill="#656565"/><circle cx="661.7" cy="539.7" r="0.42" fill="#616161"/><circle cx="664.7" cy="552.6" r="0.42" fill="#434343"/><circle cx="677.3" cy="546.5" r="0.42" fill="#343434"/><circle cx="676.1" cy="533.4" r="0.42" fill="#6c6c6c"/><circle cx="675.7" cy="532.9" r="0.42" fill="#2d2d2d"/><circle cx="658.7" cy="551.3" r="0.42" fill="#707070"/><circle cx="675.1" cy="541.2" r="0.42" fill="#8b8b8b"/><circle cx="678.0" cy="542.9" r="0.42" fill="#292929"/><circle cx="671.3" cy="537.6" r="0.42" fill="#1b1b1b"/><circle cx="667.4" cy="531.9" r="0.42" fill="#929292"/><circle cx="670.9" cy="531.2" r="0.42" fill="#242424"/><circle cx="668.4" cy="550.2" r="0.42" fill="#919191"/><circle cx="679.5" cy="543.1" r="0.42" fill="#434343"/><circle cx="658.1" cy="532.2" r="0.42" fill="#232323"/><circle cx="666.2" cy="550.2" r="0.42" fill="#131313"/><circle cx="673.8" cy="547.4" r="0.42" fill="#4b4b4b"/><circle cx="661.1" cy="538.6" r="0.42" fill="#444444"/><circle cx="677.9" cy="529.6" r="0.42" fill="#5a5a5a"/><circle cx="657.4" cy="539.1" r="0.42" fill="#6c6c6c"/><circle cx="673.4" cy="554.5" r="0.42" fill="#545454"/><circle cx="674.6" cy="541.9" r="0.42" fill="#696969"/><circle cx="672.6" cy="541.5" r="0.42" fill="#909090"/><circle cx="675.7" cy="539.6" r="0.42" fill="#393939"/><circle cx="658.2" cy="557.1" r="0.42" fill="#797979"/><circle cx="678.2" cy="520.2" r="0.42" fill="#6b6b6b"/><circle cx="673.9" cy="536.6" r="0.42" fill="#616161"/><circle cx="675.9" cy="544.6" r="0.42" fill="#343434"/><circle cx="679.6" cy="555.8" r="0.42" fill="#757575"/><circle cx="673.0" cy="547.2" r="0.42" fill="#898989"/><circle cx="662.5" cy="558.5" r="0.42" fill="#1a1a1a"/><circle cx="670.3" cy="548.8" r="0.42" fill="#1e1e1e"/><circle cx="654.5" cy="548.1" r="0.42" fill="#313131"/><circle cx="664.4" cy="540.5" r="0.42" fill="#515151"/><circle cx="667.1" cy="557.0" r="0.42" fill="#343434"/><circle cx="666.9" cy="554.7" r="0.42" fill="#757575"/><circle cx="676.4" cy="541.7" r="0.42" fill="#8f8f8f"/><circle cx="654.6" cy="551.4" r="0.42" fill="#222222"/><circle cx="666.3" cy="552.3" r="0.42" fill="#202020"/><circle cx="663.4" cy="535.1" r="0.42" fill="#7d7d7d"/><circle cx="666.8" cy="529.9" r="0.42" fill="#818181"/><circle cx="673.8" cy="547.0" r="0.42" fill="#4e4e4e"/><circle cx="665.9" cy="535.7" r="0.42" fill="#8c8c8c"/><circle cx="654.9" cy="553.7" r="0.42" fill="#1f1f1f"/><circle cx="666.6" cy="538.4" r="0.42" fill="#252525"/><circle cx="653.0" cy="545.3" r="0.42" fill="#303030"/><circle cx="666.9" cy="563.5" r="0.42" fill="#616161"/><circle cx="668.6" cy="531.6" r="0.42" fill="#565656"/><circle cx="662.7" cy="545.1" r="0.42" fill="#8a8a8a"/><circle cx="662.3" cy="530.0" r="0.42" fill="#2e2e2e"/><circle cx="670.9" cy="546.3" r="0.42" fill="#454545"/><circle cx="656.0" cy="542.0" r="0.42" fill="#515151"/><circle cx="662.1" cy="545.5" r="0.42" fill="#757575"/><circle cx="660.8" cy="559.2" r="0.42" fill="#939393"/><circle cx="666.7" cy="560.1" r="0.42" fill="#424242"/><circle cx="659.1" cy="530.4" r="0.42" fill="#353535"/><circle cx="666.2" cy="559.4" r="0.42" fill="#6b6b6b"/><circle cx="678.0" cy="549.8" r="0.42" fill="#585858"/><circle cx="663.4" cy="536.2" r="0.42" fill="#606060"/><circle cx="652.2" cy="544.4" r="0.42" fill="#2a2a2a"/><circle cx="670.1" cy="550.7" r="0.42" fill="#8c8c8c"/><circle cx="662.2" cy="530.7" r="0.42" fill="#0f0f0f"/><circle cx="662.4" cy="559.7" r="0.42" fill="#393939"/><circle cx="652.7" cy="539.8" r="0.42" fill="#888888"/><circle cx="658.9" cy="532.3" r="0.42" fill="#7f7f7f"/><circle cx="678.8" cy="537.3" r="0.42" fill="#858585"/><circle cx="659.5" cy="559.3" r="0.42" fill="#454545"/><circle cx="673.6" cy="536.9" r="0.42" fill="#222222"/><circle cx="668.9" cy="559.8" r="0.42" fill="#959595"/><circle cx="659.3" cy="534.1" r="0.42" fill="#242424"/><circle cx="659.7" cy="540.7" r="0.42" fill="#888888"/><circle cx="657.2" cy="531.4" r="0.42" fill="#232323"/><circle cx="675.5" cy="533.3" r="0.42" fill="#525252"/><circle cx="668.0" cy="541.2" r="0.42" fill="#585858"/><circle cx="654.0" cy="540.1" r="0.42" fill="#2e2e2e"/><circle cx="665.0" cy="560.8" r="0.42" fill="#2f2f2f"/><circle cx="665.8" cy="540.1" r="0.42" fill="#3c3c3c"/><circle cx="666.6" cy="557.4" r="0.42" fill="#7f7f7f"/><circle cx="664.6" cy="558.4" r="0.42" fill="#606060"/><circle cx="662.7" cy="529.6" r="0.42" fill="#666666"/><circle cx="660.7" cy="543.9" r="0.42" fill="#8d8d8d"/><circle cx="657.1" cy="536.4" r="0.42" fill="#3a3a3a"/><circle cx="664.8" cy="534.6" r="0.42" fill="#252525"/><circle cx="671.3" cy="532.8" r="0.42" fill="#636363"/><circle cx="666.8" cy="538.4" r="0.42" fill="#1c1c1c"/><circle cx="665.2" cy="533.3" r="0.42" fill="#252525"/><circle cx="663.6" cy="549.3" r="0.42" fill="#1b1b1b"/><circle cx="671.2" cy="544.7" r="0.42" fill="#444444"/><circle cx="653.9" cy="549.2" r="0.42" fill="#959595"/><circle cx="658.9" cy="549.1" r="0.42" fill="#2d2d2d"/><circle cx="671.5" cy="542.2" r="0.42" fill="#242424"/><circle cx="665.5" cy="560.8" r="0.42" fill="#8b8b8b"/><circle cx="666.1" cy="543.6" r="0.42" fill="#292929"/><circle cx="664.8" cy="554.5" r="0.42" fill="#363636"/><circle cx="670.2" cy="535.0" r="0.42" fill="#222222"/><circle cx="655.0" cy="549.3" r="0.42" fill="#6d6d6d"/><circle cx="670.9" cy="554.8" r="0.42" fill="#1e1e1e"/><circle cx="653.4" cy="545.6" r="0.42" fill="#707070"/><circle cx="671.9" cy="540.0" r="0.42" fill="#6f6f6f"/><circle cx="679.5" cy="543.2" r="0.42" fill="#0f0f0f"/><circle cx="671.0" cy="557.0" r="0.42" fill="#646464"/><circle cx="675.6" cy="552.4" r="0.42" fill="#1e1e1e"/><circle cx="653.8" cy="537.8" r="0.42" fill="#858585"/><circle cx="657.5" cy="561.2" r="0.42" fill="#797979"/><circle cx="650.8" cy="529.9" r="0.42" fill="#656565"/><circle cx="661.8" cy="541.2" r="0.42" fill="#555555"/><circle cx="661.9" cy="539.3" r="0.42" fill="#535353"/><circle cx="659.1" cy="535.7" r="0.42" fill="#525252"/><circle cx="663.2" cy="549.3" r="0.42" fill="#282828"/><circle cx="658.9" cy="552.5" r="0.42" fill="#6d6d6d"/><circle cx="660.6" cy="542.7" r="0.42" fill="#8b8b8b"/><circle cx="663.3" cy="536.5" r="0.42" fill="#454545"/><circle cx="670.5" cy="535.0" r="0.42" fill="#717171"/><circle cx="665.2" cy="539.0" r="0.42" fill="#383838"/><circle cx="672.3" cy="552.6" r="0.42" fill="#2a2a2a"/><circle cx="673.4" cy="550.0" r="0.42" fill="#6a6a6a"/><circle cx="672.1" cy="536.8" r="0.42" fill="#171717"/><circle cx="666.1" cy="549.8" r="0.42" fill="#919191"/><circle cx="666.1" cy="552.2" r="0.42" fill="#1d1d1d"/><circle cx="666.4" cy="533.6" r="0.42" fill="#404040"/><circle cx="664.9" cy="551.2" r="0.42" fill="#878787"/><circle cx="672.0" cy="537.4" r="0.42" fill="#474747"/><circle cx="657.3" cy="535.6" r="0.42" fill="#8b8b8b"/><circle cx="657.4" cy="558.6" r="0.42" fill="#878787"/><circle cx="656.5" cy="552.4" r="0.42" fill="#414141"/><circle cx="677.4" cy="543.1" r="0.42" fill="#444444"/><circle cx="663.4" cy="539.6" r="0.42" fill="#101010"/><circle cx="673.8" cy="539.1" r="0.42" fill="#6a6a6a"/><circle cx="670.5" cy="548.3" r="0.42" fill="#363636"/><circle cx="658.3" cy="546.2" r="0.42" fill="#5c5c5c"/><circle cx="653.7" cy="536.8" r="0.42" fill="#656565"/><circle cx="667.6" cy="531.2" r="0.42" fill="#2b2b2b"/><circle cx="664.2" cy="539.1" r="0.42" fill="#888888"/><circle cx="676.8" cy="536.3" r="0.42" fill="#5e5e5e"/><circle cx="675.4" cy="537.0" r="0.42" fill="#777777"/><circle cx="663.6" cy="534.4" r="0.42" fill="#636363"/><circle cx="672.0" cy="535.0" r="0.42" fill="#434343"/><circle cx="670.1" cy="548.7" r="0.42" fill="#747474"/><circle cx="665.9" cy="534.1" r="0.42" fill="#0f0f0f"/><circle cx="655.1" cy="538.4" r="0.42" fill="#494949"/><circle cx="659.5" cy="550.3" r="0.42" fill="#545454"/><circle cx="669.3" cy="553.8" r="0.42" fill="#515151"/><circle cx="677.0" cy="535.1" r="0.42" fill="#858585"/><circle cx="661.1" cy="547.4" r="0.42" fill="#5b5b5b"/><circle cx="663.7" cy="530.5" r="0.42" fill="#676767"/><circle cx="661.8" cy="537.7" r="0.42" fill="#818181"/><circle cx="662.2" cy="559.3" r="0.42" fill="#3f3f3f"/><circle cx="656.1" cy="548.6" r="0.42" fill="#686868"/><circle cx="664.3" cy="534.7" r="0.42" fill="#797979"/><circle cx="675.6" cy="540.7" r="0.42" fill="#727272"/><circle cx="670.5" cy="550.5" r="0.42" fill="#525252"/><circle cx="658.7" cy="532.1" r="0.42" fill="#666666"/><circle cx="658.8" cy="548.2" r="0.42" fill="#212121"/><circle cx="656.9" cy="543.4" r="0.42" fill="#393939"/><circle cx="655.9" cy="542.4" r="0.42" fill="#626262"/><circle cx="660.1" cy="549.5" r="0.42" fill="#585858"/><circle cx="673.5" cy="547.2" r="0.42" fill="#2c2c2c"/><circle cx="674.9" cy="547.2" r="0.42" fill="#747474"/><circle cx="663.0" cy="559.8" r="0.42" fill="#7d7d7d"/><circle cx="654.7" cy="546.7" r="0.42" fill="#131313"/><circle cx="677.9" cy="542.6" r="0.42" fill="#333333"/><circle cx="670.6" cy="559.7" r="0.42" fill="#555555"/><circle cx="677.0" cy="543.0" r="0.42" fill="#7f7f7f"/><circle cx="665.7" cy="556.4" r="0.42" fill="#2a2a2a"/><circle cx="664.9" cy="545.7" r="0.42" fill="#3c3c3c"/><circle cx="653.7" cy="547.0" r="0.42" fill="#1f1f1f"/><circle cx="661.0" cy="535.9" r="0.42" fill="#8b8b8b"/><circle cx="683.2" cy="525.7" r="0.42" fill="#4a4a4a"/><circle cx="660.7" cy="563.8" r="0.42" fill="#7c7c7c"/><circle cx="666.1" cy="547.9" r="0.42" fill="#8b8b8b"/><circle cx="667.9" cy="556.6" r="0.42" fill="#222222"/><circle cx="664.0" cy="553.6" r="0.42" fill="#4c4c4c"/><circle cx="671.7" cy="555.9" r="0.42" fill="#303030"/><circle cx="664.1" cy="534.3" r="0.42" fill="#2c2c2c"/><circle cx="659.3" cy="551.3" r="0.42" fill="#525252"/><circle cx="672.2" cy="553.0" r="0.42" fill="#858585"/><circle cx="658.5" cy="538.0" r="0.42" fill="#717171"/><circle cx="663.3" cy="544.6" r="0.42" fill="#232323"/><circle cx="657.2" cy="545.0" r="0.42" fill="#797979"/><circle cx="672.7" cy="539.6" r="0.42" fill="#7c7c7c"/><circle cx="659.3" cy="548.0" r="0.42" fill="#505050"/><circle cx="669.1" cy="534.6" r="0.42" fill="#4a4a4a"/><circle cx="675.1" cy="536.5" r="0.42" fill="#7f7f7f"/><circle cx="668.4" cy="548.6" r="0.42" fill="#1f1f1f"/><circle cx="660.4" cy="560.9" r="0.42" fill="#797979"/><circle cx="674.9" cy="542.7" r="0.42" fill="#696969"/><circle cx="666.9" cy="548.0" r="0.42" fill="#464646"/><circle cx="657.2" cy="533.6" r="0.42" fill="#838383"/><circle cx="657.4" cy="532.3" r="0.42" fill="#5c5c5c"/><circle cx="665.2" cy="545.2" r="0.42" fill="#4a4a4a"/><circle cx="667.8" cy="545.5" r="0.42" fill="#2c2c2c"/><circle cx="660.5" cy="557.2" r="0.42" fill="#2d2d2d"/><circle cx="670.5" cy="540.1" r="0.42" fill="#4f4f4f"/><circle cx="669.3" cy="550.9" r="0.42" fill="#232323"/><circle cx="673.8" cy="531.1" r="0.42" fill="#808080"/><circle cx="671.1" cy="546.6" r="0.42" fill="#1a1a1a"/><circle cx="654.6" cy="542.5" r="0.42" fill="#303030"/><circle cx="665.4" cy="539.5" r="0.42" fill="#797979"/><circle cx="669.5" cy="548.6" r="0.42" fill="#101010"/><circle cx="654.5" cy="549.6" r="0.42" fill="#787878"/><circle cx="666.3" cy="546.4" r="0.42" fill="#757575"/><circle cx="678.3" cy="541.5" r="0.42" fill="#393939"/><circle cx="678.4" cy="545.7" r="0.42" fill="#4a4a4a"/><circle cx="672.3" cy="556.0" r="0.42" fill="#4f4f4f"/><circle cx="662.1" cy="557.0" r="0.42" fill="#464646"/><circle cx="667.8" cy="542.9" r="0.42" fill="#5c5c5c"/><circle cx="666.3" cy="556.5" r="0.42" fill="#191919"/><circle cx="668.5" cy="556.0" r="0.42" fill="#4e4e4e"/><circle cx="659.7" cy="550.7" r="0.42" fill="#717171"/><circle cx="669.4" cy="549.7" r="0.42" fill="#676767"/><circle cx="665.0" cy="537.9" r="0.42" fill="#5f5f5f"/><circle cx="655.1" cy="548.7" r="0.42" fill="#353535"/><circle cx="661.8" cy="554.3" r="0.42" fill="#7c7c7c"/><circle cx="673.9" cy="530.0" r="0.42" fill="#8d8d8d"/><circle cx="672.7" cy="540.2" r="0.42" fill="#272727"/><circle cx="666.3" cy="541.1" r="0.42" fill="#1f1f1f"/><circle cx="663.0" cy="541.5" r="0.42" fill="#2d2d2d"/><circle cx="660.2" cy="555.2" r="0.42" fill="#7f7f7f"/><circle cx="673.8" cy="537.2" r="0.42" fill="#1d1d1d"/><circle cx="663.3" cy="556.6" r="0.42" fill="#2a2a2a"/><circle cx="674.0" cy="537.1" r="0.42" fill="#232323"/><circle cx="662.4" cy="558.7" r="0.42" fill="#888888"/><circle cx="668.0" cy="541.3" r="0.42" fill="#131313"/><circle cx="678.2" cy="538.5" r="0.42" fill="#5e5e5e"/><circle cx="680.6" cy="553.4" r="0.42" fill="#1d1d1d"/><circle cx="663.8" cy="531.0" r="0.42" fill="#4e4e4e"/><circle cx="657.3" cy="533.6" r="0.42" fill="#1a1a1a"/><circle cx="657.5" cy="543.8" r="0.42" fill="#212121"/><circle cx="660.8" cy="546.9" r="0.42" fill="#2f2f2f"/><circle cx="677.1" cy="549.5" r="0.42" fill="#1c1c1c"/><circle cx="657.0" cy="549.8" r="0.42" fill="#838383"/><circle cx="653.3" cy="549.4" r="0.42" fill="#5e5e5e"/><circle cx="663.5" cy="554.2" r="0.42" fill="#282828"/><circle cx="659.7" cy="546.3" r="0.42" fill="#373737"/><circle cx="671.4" cy="530.3" r="0.42" fill="#7b7b7b"/><circle cx="659.8" cy="530.2" r="0.42" fill="#535353"/><circle cx="672.5" cy="540.3" r="0.42" fill="#464646"/><circle cx="660.4" cy="568.7" r="0.42" fill="#878787"/><circle cx="671.5" cy="542.1" r="0.42" fill="#7c7c7c"/><circle cx="669.0" cy="554.9" r="0.42" fill="#5a5a5a"/><circle cx="677.2" cy="534.0" r="0.42" fill="#313131"/><circle cx="657.6" cy="541.9" r="0.42" fill="#6f6f6f"/><circle cx="671.8" cy="531.0" r="0.42" fill="#4f4f4f"/><circle cx="672.7" cy="529.0" r="0.42" fill="#282828"/><circle cx="659.4" cy="549.4" r="0.42" fill="#414141"/><circle cx="672.2" cy="549.8" r="0.42" fill="#454545"/><circle cx="667.5" cy="533.4" r="0.42" fill="#8f8f8f"/><circle cx="672.7" cy="516.7" r="0.42" fill="#4d4d4d"/><circle cx="665.2" cy="558.9" r="0.42" fill="#6f6f6f"/><circle cx="675.2" cy="528.8" r="0.42" fill="#333333"/><circle cx="659.6" cy="544.6" r="0.42" fill="#404040"/><circle cx="675.2" cy="530.3" r="0.42" fill="#696969"/><circle cx="656.2" cy="545.4" r="0.42" fill="#2b2b2b"/><circle cx="673.0" cy="535.2" r="0.42" fill="#818181"/><circle cx="676.3" cy="538.3" r="0.42" fill="#333333"/><circle cx="652.7" cy="540.5" r="0.42" fill="#424242"/><circle cx="676.4" cy="540.8" r="0.42" fill="#0f0f0f"/><circle cx="666.1" cy="550.9" r="0.42" fill="#121212"/><circle cx="671.5" cy="547.4" r="0.42" fill="#535353"/><circle cx="670.8" cy="555.1" r="0.42" fill="#6c6c6c"/><circle cx="675.8" cy="533.1" r="0.42" fill="#575757"/><circle cx="664.3" cy="533.2" r="0.42" fill="#6e6e6e"/><circle cx="673.3" cy="549.1" r="0.42" fill="#5f5f5f"/><circle cx="670.7" cy="533.6" r="0.42" fill="#3b3b3b"/><circle cx="663.3" cy="546.8" r="0.42" fill="#3b3b3b"/><circle cx="676.1" cy="539.5" r="0.42" fill="#686868"/><circle cx="668.4" cy="534.5" r="0.42" fill="#4d4d4d"/><circle cx="664.1" cy="547.8" r="0.42" fill="#626262"/><circle cx="664.8" cy="557.6" r="0.42" fill="#878787"/><circle cx="655.9" cy="542.7" r="0.42" fill="#3c3c3c"/><circle cx="674.0" cy="544.6" r="0.42" fill="#7a7a7a"/><circle cx="666.3" cy="527.5" r="0.42" fill="#4f4f4f"/><circle cx="678.9" cy="542.3" r="0.42" fill="#818181"/><circle cx="661.7" cy="540.1" r="0.42" fill="#383838"/><circle cx="662.6" cy="548.7" r="0.42" fill="#535353"/><circle cx="658.3" cy="537.6" r="0.42" fill="#101010"/><circle cx="653.9" cy="540.1" r="0.42" fill="#7f7f7f"/><circle cx="668.1" cy="547.0" r="0.42" fill="#101010"/><circle cx="659.0" cy="547.4" r="0.42" fill="#171717"/><circle cx="662.6" cy="543.4" r="0.42" fill="#454545"/><circle cx="671.4" cy="554.8" r="0.42" fill="#5f5f5f"/><circle cx="667.5" cy="556.9" r="0.42" fill="#949494"/><circle cx="679.9" cy="550.7" r="0.42" fill="#686868"/><circle cx="677.8" cy="536.5" r="0.42" fill="#5c5c5c"/><circle cx="659.5" cy="552.3" r="0.42" fill="#626262"/><circle cx="665.7" cy="558.7" r="0.42" fill="#5b5b5b"/><circle cx="646.2" cy="530.6" r="0.42" fill="#121212"/><circle cx="666.7" cy="551.8" r="0.42" fill="#919191"/><circle cx="664.9" cy="548.5" r="0.42" fill="#575757"/><circle cx="667.2" cy="543.6" r="0.42" fill="#3a3a3a"/><circle cx="677.5" cy="551.0" r="0.42" fill="#131313"/><circle cx="675.2" cy="535.9" r="0.42" fill="#424242"/><circle cx="671.6" cy="545.5" r="0.42" fill="#606060"/><circle cx="666.9" cy="559.7" r="0.42" fill="#787878"/><circle cx="665.1" cy="554.8" r="0.42" fill="#434343"/><circle cx="675.5" cy="533.8" r="0.42" fill="#5a5a5a"/><circle cx="667.4" cy="543.4" r="0.42" fill="#333333"/><circle cx="675.8" cy="541.5" r="0.42" fill="#585858"/><circle cx="671.7" cy="547.8" r="0.42" fill="#242424"/><circle cx="659.9" cy="550.3" r="0.42" fill="#5d5d5d"/><circle cx="674.3" cy="545.1" r="0.42" fill="#222222"/><circle cx="668.8" cy="538.6" r="0.42" fill="#8d8d8d"/><circle cx="666.0" cy="544.4" r="0.42" fill="#848484"/><circle cx="675.3" cy="553.8" r="0.42" fill="#777777"/><circle cx="660.1" cy="554.9" r="0.42" fill="#8b8b8b"/><circle cx="665.2" cy="565.0" r="0.42" fill="#8c8c8c"/><circle cx="660.4" cy="558.0" r="0.42" fill="#646464"/><circle cx="658.7" cy="563.9" r="0.42" fill="#757575"/><circle cx="666.4" cy="566.4" r="0.42" fill="#454545"/><circle cx="659.1" cy="565.0" r="0.42" fill="#5a5a5a"/><circle cx="663.7" cy="563.6" r="0.42" fill="#4b4b4b"/><circle cx="663.6" cy="563.3" r="0.42" fill="#7f7f7f"/><circle cx="666.6" cy="556.9" r="0.42" fill="#3e3e3e"/><circle cx="668.7" cy="561.9" r="0.42" fill="#585858"/><circle cx="661.4" cy="558.1" r="0.42" fill="#848484"/><circle cx="664.9" cy="558.0" r="0.42" fill="#787878"/><circle cx="661.9" cy="558.9" r="0.42" fill="#424242"/><circle cx="663.2" cy="565.2" r="0.42" fill="#424242"/><circle cx="660.7" cy="558.3" r="0.42" fill="#4f4f4f"/><circle cx="667.2" cy="561.4" r="0.42" fill="#676767"/><circle cx="662.3" cy="564.7" r="0.42" fill="#2b2b2b"/><circle cx="667.9" cy="558.2" r="0.42" fill="#565656"/><circle cx="659.1" cy="561.6" r="0.42" fill="#8b8b8b"/><circle cx="661.3" cy="563.0" r="0.42" fill="#707070"/><circle cx="668.6" cy="560.6" r="0.42" fill="#464646"/><circle cx="660.0" cy="560.6" r="0.42" fill="#5a5a5a"/><circle cx="671.3" cy="559.0" r="0.42" fill="#5c5c5c"/><circle cx="667.4" cy="569.2" r="0.42" fill="#717171"/><circle cx="651.6" cy="565.5" r="0.42" fill="#212121"/><circle cx="665.2" cy="559.2" r="0.42" fill="#898989"/><circle cx="666.8" cy="562.3" r="0.42" fill="#535353"/><circle cx="666.8" cy="566.0" r="0.42" fill="#292929"/><circle cx="663.0" cy="565.5" r="0.42" fill="#535353"/><circle cx="665.3" cy="560.6" r="0.42" fill="#2b2b2b"/><circle cx="663.1" cy="563.2" r="0.42" fill="#585858"/><circle cx="659.6" cy="563.1" r="0.42" fill="#545454"/><circle cx="669.2" cy="564.5" r="0.42" fill="#646464"/><circle cx="659.8" cy="558.8" r="0.42" fill="#5e5e5e"/><circle cx="669.9" cy="564.3" r="0.42" fill="#383838"/><circle cx="658.4" cy="558.9" r="0.42" fill="#838383"/><circle cx="662.3" cy="568.2" r="0.42" fill="#575757"/><circle cx="664.7" cy="556.0" r="0.42" fill="#262626"/><circle cx="666.1" cy="561.0" r="0.42" fill="#959595"/><circle cx="662.3" cy="563.1" r="0.42" fill="#656565"/><circle cx="664.1" cy="555.8" r="0.42" fill="#7d7d7d"/><circle cx="659.9" cy="560.6" r="0.42" fill="#3c3c3c"/><circle cx="657.5" cy="565.3" r="0.42" fill="#585858"/><circle cx="657.9" cy="566.4" r="0.42" fill="#6b6b6b"/><circle cx="661.3" cy="562.5" r="0.42" fill="#363636"/><circle cx="661.5" cy="557.7" r="0.42" fill="#717171"/><circle cx="661.3" cy="557.9" r="0.42" fill="#8b8b8b"/><circle cx="661.2" cy="566.7" r="0.42" fill="#838383"/><circle cx="661.6" cy="564.2" r="0.42" fill="#797979"/><circle cx="666.7" cy="560.7" r="0.42" fill="#808080"/><circle cx="656.0" cy="561.2" r="0.42" fill="#505050"/><circle cx="661.5" cy="564.0" r="0.42" fill="#838383"/><circle cx="666.8" cy="562.6" r="0.42" fill="#222222"/><circle cx="663.1" cy="566.1" r="0.42" fill="#1e1e1e"/><circle cx="664.7" cy="566.0" r="0.42" fill="#707070"/><circle cx="666.0" cy="564.9" r="0.42" fill="#383838"/><circle cx="663.8" cy="565.3" r="0.42" fill="#373737"/><circle cx="661.8" cy="556.1" r="0.42" fill="#4b4b4b"/><circle cx="661.1" cy="560.6" r="0.42" fill="#7d7d7d"/><circle cx="667.7" cy="558.1" r="0.42" fill="#2a2a2a"/><circle cx="663.8" cy="559.0" r="0.42" fill="#909090"/><circle cx="660.5" cy="567.5" r="0.42" fill="#787878"/><circle cx="661.0" cy="559.1" r="0.42" fill="#373737"/><circle cx="668.5" cy="560.5" r="0.42" fill="#1f1f1f"/><circle cx="662.1" cy="564.3" r="0.42" fill="#2d2d2d"/><circle cx="658.3" cy="556.6" r="0.42" fill="#3e3e3e"/><circle cx="662.7" cy="559.2" r="0.42" fill="#626262"/><circle cx="663.1" cy="558.7" r="0.42" fill="#959595"/><circle cx="659.2" cy="559.7" r="0.42" fill="#484848"/><circle cx="668.4" cy="564.6" r="0.42" fill="#2a2a2a"/><circle cx="663.9" cy="561.6" r="0.42" fill="#797979"/><circle cx="662.6" cy="566.6" r="0.42" fill="#4b4b4b"/><circle cx="666.3" cy="558.4" r="0.42" fill="#6f6f6f"/><circle cx="660.7" cy="556.2" r="0.42" fill="#313131"/><circle cx="657.4" cy="565.0" r="0.42" fill="#2a2a2a"/><circle cx="658.1" cy="564.7" r="0.42" fill="#5b5b5b"/><circle cx="660.3" cy="564.6" r="0.42" fill="#9a9a9a"/><circle cx="658.5" cy="561.7" r="0.42" fill="#989898"/><circle cx="667.4" cy="566.7" r="0.42" fill="#7f7f7f"/><circle cx="656.4" cy="564.6" r="0.42" fill="#7c7c7c"/><circle cx="666.0" cy="561.4" r="0.42" fill="#7f7f7f"/><circle cx="669.7" cy="561.8" r="0.42" fill="#868686"/><circle cx="668.1" cy="560.3" r="0.42" fill="#646464"/><circle cx="664.0" cy="556.4" r="0.42" fill="#8d8d8d"/><circle cx="660.6" cy="568.1" r="0.42" fill="#999999"/><circle cx="667.7" cy="565.8" r="0.42" fill="#7c7c7c"/><circle cx="661.8" cy="563.1" r="0.42" fill="#878787"/><circle cx="667.3" cy="558.8" r="0.42" fill="#313131"/><circle cx="661.2" cy="557.5" r="0.42" fill="#2f2f2f"/><circle cx="663.0" cy="555.9" r="0.42" fill="#9f9f9f"/><circle cx="665.9" cy="562.5" r="0.42" fill="#5d5d5d"/><circle cx="662.4" cy="566.1" r="0.42" fill="#2f2f2f"/><circle cx="660.0" cy="562.8" r="0.42" fill="#3d3d3d"/><circle cx="665.0" cy="563.4" r="0.42" fill="#919191"/><circle cx="661.9" cy="568.6" r="0.42" fill="#393939"/><circle cx="661.0" cy="559.0" r="0.42" fill="#2e2e2e"/><circle cx="661.7" cy="567.0" r="0.42" fill="#787878"/><circle cx="663.8" cy="559.1" r="0.42" fill="#7c7c7c"/><circle cx="663.6" cy="563.4" r="0.42" fill="#828282"/><circle cx="659.8" cy="565.9" r="0.42" fill="#868686"/><circle cx="664.6" cy="564.0" r="0.42" fill="#2b2b2b"/><circle cx="663.9" cy="556.9" r="0.42" fill="#838383"/><circle cx="662.8" cy="567.8" r="0.42" fill="#727272"/><circle cx="664.3" cy="562.2" r="0.42" fill="#808080"/><circle cx="657.7" cy="559.9" r="0.42" fill="#545454"/><circle cx="664.3" cy="560.3" r="0.42" fill="#505050"/><circle cx="659.8" cy="567.9" r="0.42" fill="#292929"/><circle cx="666.5" cy="561.3" r="0.42" fill="#585858"/><circle cx="661.7" cy="558.1" r="0.42" fill="#1f1f1f"/><circle cx="666.2" cy="561.5" r="0.42" fill="#5a5a5a"/><circle cx="668.7" cy="559.6" r="0.42" fill="#3f3f3f"/><circle cx="667.5" cy="562.5" r="0.42" fill="#505050"/><circle cx="666.4" cy="567.7" r="0.42" fill="#8d8d8d"/><circle cx="663.1" cy="568.7" r="0.42" fill="#7a7a7a"/><circle cx="667.6" cy="556.9" r="0.42" fill="#878787"/><circle cx="661.6" cy="567.1" r="0.42" fill="#979797"/><circle cx="656.9" cy="562.0" r="0.42" fill="#545454"/><circle cx="668.7" cy="566.3" r="0.42" fill="#2d2d2d"/><circle cx="660.5" cy="562.5" r="0.42" fill="#484848"/><circle cx="668.5" cy="558.7" r="0.42" fill="#7b7b7b"/><circle cx="660.2" cy="562.9" r="0.42" fill="#2c2c2c"/><circle cx="664.4" cy="564.2" r="0.42" fill="#4a4a4a"/><circle cx="657.3" cy="561.7" r="0.42" fill="#343434"/><circle cx="663.7" cy="567.7" r="0.42" fill="#606060"/><circle cx="664.9" cy="559.3" r="0.42" fill="#838383"/><circle cx="659.7" cy="560.5" r="0.42" fill="#949494"/><circle cx="659.5" cy="556.2" r="0.42" fill="#393939"/><circle cx="660.8" cy="565.1" r="0.42" fill="#525252"/><circle cx="660.7" cy="565.3" r="0.42" fill="#939393"/><circle cx="669.9" cy="559.9" r="0.42" fill="#9d9d9d"/><circle cx="666.0" cy="561.0" r="0.42" fill="#414141"/><circle cx="669.1" cy="561.3" r="0.42" fill="#787878"/><circle cx="664.2" cy="558.2" r="0.42" fill="#353535"/><circle cx="666.5" cy="584.4" r="0.42" fill="#b4b4b4"/><circle cx="664.7" cy="584.4" r="0.42" fill="#c1c1c1"/><circle cx="667.4" cy="584.6" r="0.42" fill="#c4c4c4"/><circle cx="664.0" cy="578.9" r="0.42" fill="#c6c6c6"/><circle cx="665.9" cy="575.1" r="0.42" fill="#e2e2e2"/><circle cx="663.1" cy="578.4" r="0.42" fill="#cfcfcf"/><circle cx="663.7" cy="580.5" r="0.42" fill="#c0c0c0"/><circle cx="665.3" cy="578.4" r="0.42" fill="#b6b6b6"/><circle cx="665.2" cy="594.3" r="0.42" fill="#bababa"/><circle cx="664.4" cy="591.7" r="0.42" fill="#c3c3c3"/><circle cx="663.4" cy="589.9" r="0.42" fill="#e6e6e6"/><circle cx="666.5" cy="578.9" r="0.42" fill="#c2c2c2"/><circle cx="666.0" cy="580.3" r="0.42" fill="#bdbdbd"/><circle cx="668.1" cy="578.2" r="0.42" fill="#bcbcbc"/><circle cx="666.3" cy="583.7" r="0.42" fill="#bdbdbd"/><circle cx="666.1" cy="585.7" r="0.42" fill="#c0c0c0"/><circle cx="665.1" cy="584.6" r="0.42" fill="#d9d9d9"/><circle cx="664.8" cy="583.8" r="0.42" fill="#dfdfdf"/><circle cx="664.1" cy="576.0" r="0.42" fill="#d3d3d3"/><circle cx="666.3" cy="586.9" r="0.42" fill="#e0e0e0"/><circle cx="662.8" cy="587.4" r="0.42" fill="#dddddd"/><circle cx="663.1" cy="586.9" r="0.42" fill="#c4c4c4"/><circle cx="663.1" cy="581.4" r="0.42" fill="#bababa"/><circle cx="665.6" cy="584.6" r="0.42" fill="#c8c8c8"/><circle cx="666.6" cy="586.1" r="0.42" fill="#e4e4e4"/><circle cx="667.9" cy="579.0" r="0.42" fill="#cfcfcf"/><circle cx="664.5" cy="582.3" r="0.42" fill="#c1c1c1"/><circle cx="667.7" cy="579.7" r="0.42" fill="#c9c9c9"/><circle cx="662.7" cy="587.8" r="0.42" fill="#dddddd"/><circle cx="666.4" cy="580.2" r="0.42" fill="#bbbbbb"/><circle cx="664.7" cy="578.5" r="0.42" fill="#c5c5c5"/><circle cx="667.4" cy="582.7" r="0.42" fill="#dedede"/><circle cx="664.1" cy="583.8" r="0.42" fill="#dadada"/><circle cx="663.7" cy="590.3" r="0.42" fill="#c8c8c8"/><circle cx="665.4" cy="576.4" r="0.42" fill="#c6c6c6"/><circle cx="667.8" cy="589.8" r="0.42" fill="#c3c3c3"/><circle cx="665.5" cy="584.6" r="0.42" fill="#d0d0d0"/><circle cx="665.7" cy="574.9" r="0.42" fill="#e3e3e3"/><circle cx="663.0" cy="587.1" r="0.42" fill="#d5d5d5"/><circle cx="663.9" cy="571.4" r="0.42" fill="#b6b6b6"/><circle cx="663.6" cy="589.4" r="0.42" fill="#bbbbbb"/><circle cx="667.0" cy="576.3" r="0.42" fill="#cfcfcf"/><circle cx="665.3" cy="577.9" r="0.42" fill="#cccccc"/><circle cx="666.5" cy="579.4" r="0.42" fill="#dadada"/><circle cx="667.2" cy="580.6" r="0.42" fill="#e1e1e1"/><circle cx="665.0" cy="584.8" r="0.42" fill="#dddddd"/><circle cx="667.9" cy="588.0" r="0.42" fill="#cdcdcd"/><circle cx="666.2" cy="587.6" r="0.42" fill="#d9d9d9"/><circle cx="661.5" cy="596.3" r="0.42" fill="#d5d5d5"/><circle cx="665.8" cy="579.7" r="0.42" fill="#c1c1c1"/><circle cx="667.5" cy="584.7" r="0.42" fill="#cbcbcb"/><circle cx="666.0" cy="580.3" r="0.42" fill="#e6e6e6"/><circle cx="664.8" cy="573.2" r="0.42" fill="#b7b7b7"/><circle cx="664.3" cy="575.6" r="0.42" fill="#c9c9c9"/><circle cx="667.5" cy="571.3" r="0.42" fill="#bfbfbf"/><circle cx="662.4" cy="584.1" r="0.42" fill="#c3c3c3"/><circle cx="665.7" cy="585.6" r="0.42" fill="#c3c3c3"/><circle cx="664.3" cy="575.3" r="0.42" fill="#cccccc"/><circle cx="665.1" cy="585.9" r="0.42" fill="#bdbdbd"/><circle cx="667.7" cy="576.0" r="0.42" fill="#dedede"/><circle cx="663.2" cy="578.7" r="0.42" fill="#dadada"/><circle cx="665.4" cy="583.9" r="0.42" fill="#c6c6c6"/><circle cx="665.9" cy="575.3" r="0.42" fill="#dfdfdf"/><circle cx="667.9" cy="579.9" r="0.42" fill="#c3c3c3"/><circle cx="668.3" cy="585.4" r="0.42" fill="#dedede"/></g></g>
<defs><clipPath id="cu2"><path d="M600 480H676Q683 530 681.5 545Q680 560 672 575V620H600Z"/></clipPath></defs>
<defs><linearGradient id="cb" x1="0" y1="0" x2="0" y2="1"><stop offset="0" stop-color="#111"/><stop offset="1" stop-color="#DDD"/></linearGradient></defs>
<rect x="546.40" y="561.80" width="1.50" height="30.50" fill="url(#cb)" />
<text font-size="4.00" text-anchor="middle" fill="#333" x="551.90" y="571.00">2</text>
<text font-size="4.00" text-anchor="middle" fill="#333" x="551.90" y="582.90">1</text>
<text font-size="4.00" text-anchor="middle" fill="#333" x="551.90" y="593.70">0</text>
<rect x="637.70" y="561.80" width="1.50" height="30.50" fill="url(#cb)" />
<text font-size="4.00" text-anchor="middle" fill="#333" x="643.40" y="573.20">2</text>
<text font-size="4.00" text-anchor="middle" fill="#333" x="643.40" y="583.40">1</text>
<text font-size="4.00" text-anchor="middle" fill="#333" x="643.40" y="593.70">0</text>
<path d="M521.9 590.1V608.4H541.5" fill="none" stroke="#000" stroke-width="0.7" />
<path d="M521.9 588.1l-1.6 3.6h3.2Z" fill="#000" />
<path d="M543.5 608.4l-3.6 -1.6v3.2Z" fill="#000" />
<text font-size="5.90" text-anchor="middle" font-weight="bold" transform="translate(515.80 599.20) rotate(-90)" x="0" y="2.07">UMAP2</text>
<text font-size="5.90" text-anchor="middle" font-weight="bold" x="531.60" y="617.97">UMAP1</text>
<path d="M617.1 591.5V608.4H637.2" fill="none" stroke="#000" stroke-width="0.7" />
<path d="M617.1 589.5l-1.6 3.6h3.2Z" fill="#000" />
<path d="M639.2 608.4l-3.6 -1.6v3.2Z" fill="#000" />
<text font-size="5.90" text-anchor="middle" font-weight="bold" transform="translate(611.00 599.20) rotate(-90)" x="0" y="2.07">UMAP2</text>
<text font-size="5.90" text-anchor="middle" font-weight="bold" x="626.80" y="617.97">UMAP1</text>
<!-- pf -->
<text font-size="16.30" text-anchor="middle" font-weight="bold" x="6.00" y="667.00">f</text>
<defs>
<filter id="tis" x="0" y="0" width="1" height="1" color-interpolation-filters="sRGB">
 <feGaussianBlur in="SourceAlpha" stdDeviation="2.2" result="a"/>
 <feTurbulence type="fractalNoise" baseFrequency="0.2" numOctaves="3" seed="5" result="n"/>
 <feColorMatrix in="n" type="matrix" values="0.11 0 0 0 0.0  0.40 0 0 0 0.0  0.06 0 0 0 0.0  0 0 0 0 1" result="g"/>
 <feTurbulence type="fractalNoise" baseFrequency="0.55" numOctaves="2" seed="11" result="n2"/>
 <feColorMatrix in="n2" type="matrix" values="0 0 0 0 0  0 0 0 0 0  0 0 0 0 0  9 0 0 0 -6.75" result="sp"/>
 <feFlood flood-color="#3EA828" result="fl"/>
 <feComposite in="fl" in2="sp" operator="in" result="dots"/>
 <feGaussianBlur in="dots" stdDeviation="0.35" result="dots2"/>
 <feMerge result="m"><feMergeNode in="g"/><feMergeNode in="dots2"/></feMerge>
 <feComposite in="m" in2="a" operator="in"/>
</filter>
<clipPath id="cf1"><rect x="18.9" y="654.1" width="91" height="209.7"/></clipPath>
<clipPath id="cf2"><rect x="114.4" y="654.1" width="90.8" height="209.7"/></clipPath>
</defs>
<defs><filter id="bl3" x="-0.3" y="-0.3" width="1.6" height="1.6"><feGaussianBlur stdDeviation="2.5"/></filter><filter id="bl1" x="-0.3" y="-0.3" width="1.6" height="1.6"><feGaussianBlur stdDeviation="1.2"/></filter></defs>
<rect x="18.90" y="654.10" width="91.00" height="209.70" fill="#020402" />
<g clip-path="url(#cf1)"><path d="M50.50 648.00C39.08 655.75 51.70 676.43 51.50 686.50C51.30 696.57 50.52 700.85 49.30 708.40C48.08 715.95 46.00 724.50 44.20 731.80C42.40 739.10 40.12 745.83 38.50 752.20C36.88 758.57 35.42 763.70 34.50 770.00C33.58 776.30 32.75 784.17 33.00 790.00C33.25 795.83 34.00 800.67 36.00 805.00C38.00 809.33 43.08 813.17 45.00 816.00C46.92 818.83 48.33 820.33 47.50 822.00C46.67 823.67 43.75 824.83 40.00 826.00C36.25 827.17 30.00 828.00 25.00 829.00C20.00 830.00 12.50 823.50 10.00 832.00C7.50 840.50 -8.33 872.00 10.00 880.00C28.33 888.00 101.67 920.00 120.00 880.00C138.33 840.00 131.58 678.67 120.00 640.00C108.42 601.33 61.92 640.25 50.50 648.00Z" fill="#fff" filter="url(#tis)"/>
<path d="M51.00 654.00C51.17 659.42 52.20 677.43 52.00 686.50C51.80 695.57 51.02 700.85 49.80 708.40C48.58 715.95 46.50 724.50 44.70 731.80C42.90 739.10 40.53 745.83 39.00 752.20C37.47 758.57 36.33 763.70 35.50 770.00C34.67 776.30 33.75 784.17 34.00 790.00C34.25 795.83 36.50 802.50 37.00 805.00" fill="none" stroke="#3A9624" stroke-width="6" filter="url(#bl3)" opacity="0.5" stroke-linecap="round"/>
<path d="M15.00 830.00C20.00 822.67 37.17 827.33 45.00 826.00C52.83 824.67 56.17 821.00 62.00 822.00C67.83 823.00 73.67 830.67 80.00 832.00C86.33 833.33 94.17 829.33 100.00 830.00C105.83 830.67 112.50 829.33 115.00 836.00C117.50 842.67 131.67 864.33 115.00 870.00C98.33 875.67 31.67 876.67 15.00 870.00C-1.67 863.33 10.00 837.33 15.00 830.00Z" fill="#000" filter="url(#bl3)" opacity="0.45"/>
<path d="M10.00 826.00C13.33 819.00 25.33 825.67 30.00 828.00C34.67 830.33 37.00 833.00 38.00 840.00C39.00 847.00 40.67 865.00 36.00 870.00C31.33 875.00 14.33 877.33 10.00 870.00C5.67 862.67 6.67 833.00 10.00 826.00Z" fill="#000" filter="url(#bl3)" opacity="0.75"/>
<path d="M92.00 840.00C93.33 837.83 97.33 836.67 100.00 837.00C102.67 837.33 106.33 839.50 108.00 842.00C109.67 844.50 111.33 849.67 110.00 852.00C108.67 854.33 103.00 856.33 100.00 856.00C97.00 855.67 93.33 852.67 92.00 850.00C90.67 847.33 90.67 842.17 92.00 840.00Z" fill="#020602" filter="url(#bl3)" opacity="0.85"/>
<path d="M47.00 820.00C48.67 819.33 53.83 823.67 56.00 826.00C58.17 828.33 60.67 832.00 60.00 834.00C59.33 836.00 54.33 838.67 52.00 838.00C49.67 837.33 46.83 833.00 46.00 830.00C45.17 827.00 45.33 820.67 47.00 820.00Z" fill="#020602" filter="url(#bl3)" opacity="0.6"/>
</g>
<path d="M65.70 657.00C65.52 658.27 65.27 660.90 64.60 664.60C63.93 668.30 62.92 674.33 61.70 679.20C60.48 684.07 58.52 688.93 57.30 693.80C56.08 698.67 54.88 704.75 54.40 708.40C53.92 712.05 54.03 713.38 54.40 715.70C54.77 718.02 55.38 720.55 56.60 722.30C57.82 724.05 58.90 725.23 61.70 726.20C64.50 727.17 69.02 727.78 73.40 728.10C77.78 728.42 83.87 728.47 88.00 728.10C92.13 727.73 94.92 726.38 98.20 725.90C101.48 725.42 106.12 725.32 107.70 725.20" fill="none" stroke="#E4E4E4" stroke-width="0.6" />
<path d="M107.70 778.60C106.42 777.23 102.80 773.50 100.00 770.40C97.20 767.30 93.63 762.80 90.90 760.00C88.17 757.20 86.52 756.60 83.60 753.60C80.68 750.60 76.57 745.40 73.40 742.00C70.23 738.60 67.03 734.87 64.60 733.20C62.17 731.53 60.62 731.88 58.80 732.00C56.98 732.12 55.03 732.48 53.70 733.90C52.37 735.32 51.78 736.98 50.80 740.50C49.82 744.02 48.53 750.15 47.80 755.00C47.07 759.85 46.57 764.73 46.40 769.60C46.23 774.47 46.32 779.33 46.80 784.20C47.28 789.07 48.15 794.67 49.30 798.80C50.45 802.93 52.12 806.62 53.70 809.00C55.28 811.38 55.52 812.12 58.80 813.10C62.08 814.08 68.53 814.37 73.40 814.90C78.27 815.43 84.10 815.33 88.00 816.30C91.90 817.27 94.12 819.23 96.80 820.70C99.48 822.17 102.28 824.13 104.10 825.10C105.92 826.07 107.10 826.27 107.70 826.50" fill="none" stroke="#E4E4E4" stroke-width="0.6" />
<line x1="27.40" y1="682.40" x2="27.40" y2="798.50" stroke="#fff" stroke-width="0.9" />
<rect x="67.30" y="854.30" width="35.60" height="2.00" fill="#fff" />
<text font-size="9.25" font-weight="bold" fill="#fff" x="20.50" y="663.14">Fed</text>
<text x="20.6" y="674.9" font-size="9.22" font-weight="bold" fill="#3FE01F"><tspan font-style="italic">Nrxn1</tspan> mRNA</text>
<text font-size="8.83" text-anchor="middle" font-weight="bold" fill="#E0E0E0" x="86.20" y="709.79">DMH</text>
<text font-size="8.95" text-anchor="middle" font-weight="bold" fill="#E8E8E8" x="79.20" y="783.33">ARH</text>
<text font-size="9.07" text-anchor="middle" font-weight="bold" fill="#F0F0F0" x="26.70" y="816.68">3V</text>
<text font-size="8.93" text-anchor="middle" font-weight="bold" fill="#E0E0E0" x="53.70" y="842.83">ME</text>
<rect x="114.40" y="654.10" width="90.80" height="209.70" fill="#020402" />
<g clip-path="url(#cf2)"><path d="M138.50 648.00C125.25 654.53 136.23 669.13 135.50 679.20C134.77 689.27 134.58 699.63 134.10 708.40C133.62 717.17 132.72 724.03 132.60 731.80C132.48 739.57 132.55 747.47 133.40 755.00C134.25 762.53 136.37 769.67 137.70 777.00C139.03 784.33 141.15 792.50 141.40 799.00C141.65 805.50 140.78 810.67 139.20 816.00C137.62 821.33 135.27 827.00 131.90 831.00C128.53 835.00 123.48 837.67 119.00 840.00C114.52 842.33 107.33 838.33 105.00 845.00C102.67 851.67 86.67 874.17 105.00 880.00C123.33 885.83 196.67 920.00 215.00 880.00C233.33 840.00 227.75 678.67 215.00 640.00C202.25 601.33 151.75 641.47 138.50 648.00Z" fill="#fff" filter="url(#tis)"/>
<path d="M139.50 654.00C139.05 658.20 137.48 670.13 136.80 679.20C136.12 688.27 135.87 699.63 135.40 708.40C134.93 717.17 134.10 724.03 134.00 731.80C133.90 739.57 133.97 747.47 134.80 755.00C135.63 762.53 137.67 769.67 139.00 777.00C140.33 784.33 142.55 792.83 142.80 799.00C143.05 805.17 140.88 811.50 140.50 814.00" fill="none" stroke="#3A9624" stroke-width="6" filter="url(#bl3)" opacity="0.45" stroke-linecap="round"/>
<ellipse cx="197.6" cy="663.0" rx="4.5" ry="4.0" fill="#000" opacity="0.5" filter="url(#bl1)"/>
<ellipse cx="178.6" cy="720.0" rx="6.0" ry="5.4" fill="#000" opacity="0.5" filter="url(#bl1)"/>
<ellipse cx="196.0" cy="731.8" rx="5.0" ry="4.5" fill="#000" opacity="0.5" filter="url(#bl1)"/>
<ellipse cx="191.8" cy="698.0" rx="3.6" ry="3.2" fill="#000" opacity="0.5" filter="url(#bl1)"/>
<ellipse cx="175.7" cy="740.5" rx="3.6" ry="3.2" fill="#000" opacity="0.5" filter="url(#bl1)"/>
<ellipse cx="203.4" cy="679.0" rx="3.0" ry="2.7" fill="#000" opacity="0.5" filter="url(#bl1)"/>
<ellipse cx="160.0" cy="745.0" rx="3.0" ry="2.7" fill="#000" opacity="0.5" filter="url(#bl1)"/>
<ellipse cx="190.0" cy="790.0" rx="3.5" ry="3.1" fill="#000" opacity="0.5" filter="url(#bl1)"/>
<path d="M110.00 842.00C114.17 835.33 128.33 832.67 135.00 830.00C141.67 827.33 144.17 825.67 150.00 826.00C155.83 826.33 163.33 831.67 170.00 832.00C176.67 832.33 183.33 827.67 190.00 828.00C196.67 828.33 206.67 827.00 210.00 834.00C213.33 841.00 226.67 864.00 210.00 870.00C193.33 876.00 126.67 874.67 110.00 870.00C93.33 865.33 105.83 848.67 110.00 842.00Z" fill="#000" filter="url(#bl3)" opacity="0.4"/>
<path d="M168.00 841.00C171.17 837.33 178.00 837.17 185.00 836.00C192.00 834.83 205.83 828.33 210.00 834.00C214.17 839.67 216.33 864.00 210.00 870.00C203.67 876.00 179.33 872.00 172.00 870.00C164.67 868.00 166.67 862.83 166.00 858.00C165.33 853.17 164.83 844.67 168.00 841.00Z" fill="#020402" filter="url(#bl3)" opacity="0.9"/>
<path d="M152.00 838.00C153.67 836.33 159.33 834.67 162.00 836.00C164.67 837.33 168.33 843.33 168.00 846.00C167.67 848.67 162.67 852.00 160.00 852.00C157.33 852.00 153.33 848.33 152.00 846.00C150.67 843.67 150.33 839.67 152.00 838.00Z" fill="#020402" filter="url(#bl3)" opacity="0.7"/>
</g>
<path d="M141.80 660.20C141.80 663.37 141.75 673.12 141.80 679.20C141.85 685.28 141.68 692.57 142.10 696.70C142.52 700.83 143.20 702.35 144.30 704.00C145.40 705.65 146.63 706.17 148.70 706.60C150.77 707.03 154.15 707.15 156.70 706.60C159.25 706.05 161.08 704.83 164.00 703.30C166.92 701.77 170.55 699.10 174.20 697.40C177.85 695.70 181.27 694.63 185.90 693.10C190.53 691.57 199.32 689.02 202.00 688.20" fill="none" stroke="#E4E4E4" stroke-width="0.6" />
<path d="M202.00 770.80C200.53 769.63 195.88 766.43 193.20 763.80C190.52 761.17 188.33 757.90 185.90 755.00C183.47 752.10 181.03 749.78 178.60 746.40C176.17 743.02 174.22 738.35 171.30 734.70C168.38 731.05 164.27 727.92 161.10 724.50C157.93 721.08 154.37 716.35 152.30 714.20C150.23 712.05 149.55 711.83 148.70 711.60C147.85 711.37 147.57 710.42 147.20 712.80C146.83 715.18 146.67 720.80 146.50 725.90C146.33 731.00 146.18 738.55 146.20 743.40C146.22 748.25 146.18 750.63 146.60 755.00C147.02 759.37 148.18 763.52 148.70 769.60C149.22 775.68 149.22 785.67 149.70 791.50C150.18 797.33 150.18 801.32 151.60 804.60C153.02 807.88 155.88 809.85 158.20 811.20C160.52 812.55 163.07 812.95 165.50 812.70C167.93 812.45 170.62 810.37 172.80 809.70C174.98 809.03 176.42 808.08 178.60 808.70C180.78 809.32 183.22 811.52 185.90 813.40C188.58 815.28 192.02 818.10 194.70 820.00C197.38 821.90 200.78 824.00 202.00 824.80" fill="none" stroke="#E4E4E4" stroke-width="0.6" />
<line x1="129.00" y1="774.30" x2="129.00" y2="817.00" stroke="#BDBDBD" stroke-width="1.6" />
<rect x="168.10" y="854.30" width="35.30" height="2.00" fill="#fff" />
<text font-size="9.28" font-weight="bold" fill="#fff" x="117.00" y="663.15">24h-Fasting</text>
<text x="117.2" y="674.9" font-size="9.22" font-weight="bold" fill="#3FE01F"><tspan font-style="italic">Nrxn1</tspan> mRNA</text>
<text font-size="8.83" text-anchor="middle" font-weight="bold" fill="#E0E0E0" x="162.10" y="692.59">DMH</text>
<text font-size="8.91" text-anchor="middle" font-weight="bold" fill="#E8E8E8" x="180.50" y="784.92">ARH</text>
<text font-size="16.30" text-anchor="middle" font-weight="bold" x="221.20" y="667.50">g</text>
<rect x="244.30" y="663.60" width="9.70" height="4.90" fill="#fff" stroke="#000" stroke-width="0.5" />
<text font-size="6.61" fill="#111" x="258.20" y="668.61">No staining (ventral+dorsal)</text>
<defs><pattern id="dots" width="1" height="1" patternUnits="userSpaceOnUse"><rect width="1" height="1" fill="#A8A8A8"/><rect width="0.5" height="0.5" fill="#666"/><rect x="0.5" y="0.5" width="0.5" height="0.5" fill="#666"/></pattern></defs>
<rect x="244.30" y="673.00" width="9.70" height="4.90" fill="#8E8E8E" stroke="#000" stroke-width="0.5" />
<text font-size="6.49" fill="#111" x="258.20" y="677.97">Nrxn1 mRNA staining</text>
<rect x="257.70" y="723.70" width="32.70" height="124.10" fill="#fff" stroke="#000" stroke-width="1.0" />
<rect x="257.70" y="776.44" width="32.70" height="52.74" fill="#8E8E8E" stroke="#000" stroke-width="1.0" />
<line x1="274.05" y1="723.70" x2="274.05" y2="720.00" stroke="#000" stroke-width="0.7" />
<line x1="266.25" y1="720.00" x2="281.85" y2="720.00" stroke="#000" stroke-width="0.7" />
<line x1="274.05" y1="776.44" x2="274.05" y2="774.40" stroke="#000" stroke-width="0.7" />
<line x1="266.25" y1="774.40" x2="281.85" y2="774.40" stroke="#000" stroke-width="0.7" />
<line x1="274.05" y1="829.18" x2="274.05" y2="825.60" stroke="#000" stroke-width="0.7" />
<line x1="266.25" y1="825.60" x2="281.85" y2="825.60" stroke="#000" stroke-width="0.7" />
<rect x="306.10" y="723.70" width="32.70" height="124.10" fill="#fff" stroke="#000" stroke-width="1.0" />
<rect x="306.10" y="804.99" width="32.70" height="30.40" fill="#8E8E8E" stroke="#000" stroke-width="1.0" />
<line x1="322.45" y1="723.70" x2="322.45" y2="721.70" stroke="#000" stroke-width="0.7" />
<line x1="314.65" y1="721.70" x2="330.25" y2="721.70" stroke="#000" stroke-width="0.7" />
<line x1="322.45" y1="804.99" x2="322.45" y2="802.80" stroke="#000" stroke-width="0.7" />
<line x1="314.65" y1="802.80" x2="330.25" y2="802.80" stroke="#000" stroke-width="0.7" />
<line x1="322.45" y1="835.39" x2="322.45" y2="833.60" stroke="#000" stroke-width="0.7" />
<line x1="314.65" y1="833.60" x2="330.25" y2="833.60" stroke="#000" stroke-width="0.7" />
<line x1="290.40" y1="776.44" x2="306.10" y2="804.99" stroke="#000" stroke-width="0.95" />
<path d="M290.4 829.18H296L306.1 835.39" fill="none" stroke="#000" stroke-width="0.95" />
<path d="M249.1 698.2V847.80H346.5" fill="none" stroke="#000" stroke-width="1.1" />
<line x1="246.60" y1="847.80" x2="249.10" y2="847.80" stroke="#000" stroke-width="0.8" />
<text font-size="7.00" text-anchor="end" font-weight="bold" x="246.00" y="850.25">0.0</text>
<line x1="246.60" y1="822.98" x2="249.10" y2="822.98" stroke="#000" stroke-width="0.8" />
<text font-size="7.00" text-anchor="end" font-weight="bold" x="246.00" y="825.43">0.2</text>
<line x1="246.60" y1="798.16" x2="249.10" y2="798.16" stroke="#000" stroke-width="0.8" />
<text font-size="7.00" text-anchor="end" font-weight="bold" x="246.00" y="800.61">0.4</text>
<line x1="246.60" y1="773.34" x2="249.10" y2="773.34" stroke="#000" stroke-width="0.8" />
<text font-size="7.00" text-anchor="end" font-weight="bold" x="246.00" y="775.79">0.6</text>
<line x1="246.60" y1="748.52" x2="249.10" y2="748.52" stroke="#000" stroke-width="0.8" />
<text font-size="7.00" text-anchor="end" font-weight="bold" x="246.00" y="750.97">0.8</text>
<line x1="246.60" y1="723.70" x2="249.10" y2="723.70" stroke="#000" stroke-width="0.8" />
<text font-size="7.00" text-anchor="end" font-weight="bold" x="246.00" y="726.15">1.0</text>
<line x1="246.60" y1="698.88" x2="249.10" y2="698.88" stroke="#000" stroke-width="0.8" />
<text font-size="7.00" text-anchor="end" font-weight="bold" x="246.00" y="701.33">1.2</text>
<line x1="274.05" y1="847.80" x2="274.05" y2="850.00" stroke="#000" stroke-width="0.8" />
<line x1="322.45" y1="847.80" x2="322.45" y2="850.00" stroke="#000" stroke-width="0.8" />
<text font-size="9.50" text-anchor="middle" font-weight="bold" x="298.10" y="759.23">***</text>
<text font-size="9.50" text-anchor="middle" font-weight="bold" x="298.10" y="817.83">***</text>
<text font-size="9.80" text-anchor="middle" font-weight="bold" x="298.30" y="843.73">ns</text>
<text font-size="7.20" text-anchor="middle" font-weight="bold" x="274.20" y="858.22">Fed</text>
<text font-size="7.20" text-anchor="middle" font-weight="bold" x="326.00" y="858.22">24h-Fasting</text>
<text font-size="8.14" text-anchor="middle" font-weight="bold" transform="translate(220.90 773.20) rotate(-90)" x="0" y="2.85">Normalized staining lenght</text>
<text font-size="8.21" text-anchor="middle" font-weight="bold" transform="translate(230.20 773.20) rotate(-90)" x="0" y="2.88">along the ventrodorsal axis (A.U.)</text>
<text font-size="8.70" text-anchor="middle" font-weight="bold" fill="#4040FF" x="357.30" y="707.04">Epen</text>
<line x1="355.30" y1="849.20" x2="355.30" y2="717.00" stroke="#000" stroke-width="1.2" />
<path d="M355.3 712.8l-2.3 5.4h4.6Z" fill="#000" />
<text font-size="8.02" text-anchor="middle" font-weight="bold" transform="translate(362.50 786.00) rotate(-90)" x="0" y="2.81">Ventrodorsal anatomical axis</text>
<text font-size="8.40" text-anchor="middle" font-weight="bold" fill="#F08433" x="363.60" y="862.94">B2 Tan</text>
<!-- ph -->
<defs>
<filter id="g3d" x="-0.05" y="-0.05" width="1.1" height="1.1" color-interpolation-filters="sRGB">
 <feTurbulence type="fractalNoise" baseFrequency="0.09" numOctaves="2" seed="4" result="t"/>
 <feDisplacementMap in="SourceGraphic" in2="t" scale="8" xChannelSelector="R" yChannelSelector="G" result="dg"/>
 <feColorMatrix in="dg" type="matrix" values="0 0 0 0 0 0 0 0 0 0 0 0 0 0 0 0 0 0 1 0" result="da"/>
 <feGaussianBlur in="da" stdDeviation="2.6" result="b"/>
 <feTurbulence type="fractalNoise" baseFrequency="0.10" numOctaves="2" seed="25" result="bn"/>
 <feComposite in="b" in2="bn" operator="arithmetic" k1="0.55" k2="0.72" k3="0" k4="0" result="bb"/>
 <feDiffuseLighting in="bb" surfaceScale="7" diffuseConstant="1.1" lighting-color="#54DC34" result="d"><feDistantLight azimuth="235" elevation="50"/></feDiffuseLighting>
 <feFlood flood-color="#267A18" result="am"/>
 <feComposite in="d" in2="am" operator="arithmetic" k1="0" k2="0.72" k3="0.6" k4="0" result="lit"/>
 <feComposite in="lit" in2="da" operator="in"/>
</filter>
<filter id="r3d" x="-0.05" y="-0.05" width="1.1" height="1.1" color-interpolation-filters="sRGB">
 <feTurbulence type="fractalNoise" baseFrequency="0.11" numOctaves="2" seed="9" result="t"/>
 <feDisplacementMap in="SourceGraphic" in2="t" scale="7" xChannelSelector="R" yChannelSelector="G" result="dg"/>
 <feColorMatrix in="dg" type="matrix" values="0 0 0 0 0 0 0 0 0 0 0 0 0 0 0 0 0 0 1 0" result="da"/>
 <feGaussianBlur in="da" stdDeviation="1.0" result="b"/>
 <feTurbulence type="fractalNoise" baseFrequency="0.12" numOctaves="2" seed="24" result="bn"/>
 <feComposite in="b" in2="bn" operator="arithmetic" k1="0.9" k2="0.55" k3="0" k4="0" result="bb"/>
 <feDiffuseLighting in="bb" surfaceScale="2.6" diffuseConstant="1.1" lighting-color="#D43636" result="d"><feDistantLight azimuth="235" elevation="52"/></feDiffuseLighting>
 <feFlood flood-color="#7A1C1C" result="am"/>
 <feComposite in="d" in2="am" operator="arithmetic" k1="0" k2="0.6" k3="0.8" k4="0" result="lit"/>
 <feComposite in="lit" in2="da" operator="in"/>
</filter>
<filter id="r3i" x="-0.05" y="-0.05" width="1.1" height="1.1" color-interpolation-filters="sRGB">
 <feTurbulence type="fractalNoise" baseFrequency="0.11" numOctaves="2" seed="9" result="t"/>
 <feDisplacementMap in="SourceGraphic" in2="t" scale="7" xChannelSelector="R" yChannelSelector="G" result="dg"/>
 <feColorMatrix in="dg" type="matrix" values="0 0 0 0 0 0 0 0 0 0 0 0 0 0 0 0 0 0 1 0" result="da"/>
 <feGaussianBlur in="da" stdDeviation="1.0" result="b"/>
 <feTurbulence type="fractalNoise" baseFrequency="0.09" numOctaves="2" seed="23" result="bn"/>
 <feComposite in="b" in2="bn" operator="arithmetic" k1="1.0" k2="0.5" k3="0" k4="0" result="bb"/>
 <feDiffuseLighting in="bb" surfaceScale="2.6" diffuseConstant="1.1" lighting-color="#C23232" result="d"><feDistantLight azimuth="235" elevation="52"/></feDiffuseLighting>
 <feFlood flood-color="#6E1818" result="am"/>
 <feComposite in="d" in2="am" operator="arithmetic" k1="0" k2="0.6" k3="0.8" k4="0" result="lit"/>
 <feComposite in="lit" in2="da" operator="in"/>
</filter>
<filter id="rm3d" x="-0.05" y="-0.05" width="1.1" height="1.1" color-interpolation-filters="sRGB">
 <feTurbulence type="fractalNoise" baseFrequency="0.09" numOctaves="2" seed="2" result="t"/>
 <feDisplacementMap in="SourceGraphic" in2="t" scale="6" xChannelSelector="R" yChannelSelector="G" result="dg"/>
 <feColorMatrix in="dg" type="matrix" values="0 0 0 0 0 0 0 0 0 0 0 0 0 0 0 0 0 0 1 0" result="da"/>
 <feGaussianBlur in="da" stdDeviation="2.2" result="b"/>
 <feTurbulence type="fractalNoise" baseFrequency="0.07" numOctaves="2" seed="21" result="bn"/>
 <feComposite in="b" in2="bn" operator="arithmetic" k1="1.1" k2="0.45" k3="0" k4="0" result="bb"/>
 <feDiffuseLighting in="bb" surfaceScale="4" diffuseConstant="1.1" lighting-color="#BC3030" result="d"><feDistantLight azimuth="235" elevation="52"/></feDiffuseLighting>
 <feFlood flood-color="#7E1C1C" result="am"/>
 <feComposite in="d" in2="am" operator="arithmetic" k1="0" k2="0.6" k3="0.8" k4="0" result="lit"/>
 <feComposite in="lit" in2="da" operator="in"/>
</filter>
<filter id="rmh" x="-0.05" y="-0.05" width="1.1" height="1.1" color-interpolation-filters="sRGB">
 <feTurbulence type="fractalNoise" baseFrequency="0.09" numOctaves="2" seed="2" result="t"/>
 <feDisplacementMap in="SourceGraphic" in2="t" scale="6" xChannelSelector="R" yChannelSelector="G" result="dg"/>
 <feColorMatrix in="dg" type="matrix" values="0 0 0 0 0 0 0 0 0 0 0 0 0 0 0 0 0 0 1 0" result="da"/>
 <feGaussianBlur in="da" stdDeviation="2.2" result="b"/>
 <feTurbulence type="fractalNoise" baseFrequency="0.07" numOctaves="2" seed="22" result="bn"/>
 <feComposite in="b" in2="bn" operator="arithmetic" k1="0.5" k2="0.75" k3="0" k4="0" result="bb"/>
 <feDiffuseLighting in="bb" surfaceScale="4" diffuseConstant="1.1" lighting-color="#A01C1C" result="d"><feDistantLight azimuth="235" elevation="52"/></feDiffuseLighting>
 <feFlood flood-color="#341010" result="am"/>
 <feComposite in="d" in2="am" operator="arithmetic" k1="0" k2="0.6" k3="0.8" k4="0" result="lit"/>
 <feComposite in="lit" in2="da" operator="in"/>
</filter>
<clipPath id="ch"><rect x="381.8" y="654" width="295.5" height="100"/></clipPath>
<clipPath id="ci"><rect x="381.8" y="755.8" width="295.5" height="108"/></clipPath>
<marker id="aw" viewBox="0 0 10 10" refX="6" refY="5" markerWidth="3.6" markerHeight="3.6" orient="auto"><path d="M0 0.5L10 5L0 9.5Z" fill="#fff"/></marker>
</defs>
<text font-size="9.18" text-anchor="middle" font-weight="bold" fill="#F02020" x="600.50" y="651.41">Tdtomato (tanycyte)</text>
<text font-size="8.90" text-anchor="middle" font-weight="bold" fill="#4EE020" x="663.50" y="651.32">HuC/D</text>
<text font-size="9.17" text-anchor="middle" font-weight="bold" fill="#F02020" x="600.30" y="873.11">Tdtomato (tanycyte)</text>
<text font-size="9.28" text-anchor="middle" font-weight="bold" fill="#4EE020" x="661.80" y="873.15">VGlut2</text>
<text font-size="16.30" text-anchor="middle" font-weight="bold" x="372.30" y="667.21">h</text>
<text font-size="16.30" text-anchor="middle" font-weight="bold" x="376.20" y="771.31">i</text>
<rect x="381.80" y="654.00" width="295.50" height="100.00" fill="#000" />
<g clip-path="url(#ch)">
<g fill="#fff" filter="url(#g3d)">
<path d="M439.85 679.74C440.34 677.79 442.77 675.84 444.23 676.09C445.69 676.33 447.88 679.62 448.61 681.20C449.34 682.78 446.91 685.21 448.61 685.58C450.32 685.94 456.64 682.90 458.83 683.39C461.02 683.87 462.00 686.79 461.75 688.50C461.51 690.20 459.56 693.24 457.37 693.61C455.18 693.97 451.29 691.66 448.61 690.69C445.94 689.71 442.77 689.59 441.31 687.77C439.85 685.94 439.37 681.68 439.85 679.74Z"/>
<path d="M438.39 727.91C439.37 725.48 445.21 723.29 448.61 722.07C452.02 720.86 456.89 719.64 458.83 720.61C460.78 721.59 461.75 725.72 460.29 727.91C458.83 730.10 452.99 732.29 450.07 733.75C447.15 735.21 444.72 737.64 442.77 736.67C440.83 735.70 437.42 730.35 438.39 727.91Z"/>
<path d="M475.62 714.77C476.23 711.12 478.91 709.66 480.00 711.85C481.09 714.04 482.80 724.26 482.19 727.91C481.58 731.56 477.45 735.94 476.35 733.75C475.26 731.56 475.01 718.42 475.62 714.77Z"/>
<path d="M477.08 675.36C479.03 671.95 485.35 673.65 488.76 673.90C492.17 674.14 495.57 674.87 497.52 676.82C499.46 678.76 500.92 682.66 500.44 685.58C499.95 688.50 497.27 692.63 494.60 694.34C491.92 696.04 487.30 695.80 484.38 695.80C481.46 695.80 478.30 697.74 477.08 694.34C475.86 690.93 475.13 678.76 477.08 675.36Z"/>
<path d="M494.60 672.44C495.09 670.61 499.46 668.06 501.90 665.14C504.33 662.22 507.62 656.74 509.20 654.92C510.78 653.09 511.14 653.22 511.39 654.19C511.63 655.16 511.75 657.96 510.66 660.76C509.56 663.56 506.76 668.42 504.82 670.98C502.87 673.53 500.68 675.84 498.98 676.09C497.27 676.33 494.11 674.26 494.60 672.44Z"/>
<path d="M482.92 656.38C483.28 654.55 485.23 653.70 485.84 654.92C486.45 656.14 486.93 661.85 486.57 663.68C486.20 665.50 484.26 667.09 483.65 665.87C483.04 664.65 482.55 658.20 482.92 656.38Z"/>
<ellipse cx="507.0" cy="701.6" rx="4.4" ry="4.4"/>
<path d="M478.54 710.39C480.24 705.77 485.96 709.66 488.76 710.39C491.56 711.12 494.36 712.34 495.33 714.77C496.30 717.21 495.69 721.59 494.60 724.99C493.50 728.40 491.44 733.02 488.76 735.21C486.08 737.40 480.24 742.27 478.54 738.13C476.84 734.00 476.84 715.02 478.54 710.39Z"/>
<path d="M561.75 654.19C563.94 653.34 574.16 652.85 576.35 654.19C578.54 655.53 576.11 660.52 574.89 662.22C573.67 663.92 571.00 664.90 569.05 664.41C567.10 663.92 564.43 661.00 563.21 659.30C562.00 657.60 559.56 655.04 561.75 654.19Z"/>
<path d="M571.97 717.69C572.94 714.53 579.03 711.12 580.73 714.77C582.43 718.42 583.16 736.43 582.19 739.59C581.22 742.75 576.59 737.40 574.89 733.75C573.19 730.10 571.00 720.86 571.97 717.69Z"/>
<path d="M597.52 657.84C597.52 656.01 596.79 653.58 601.90 652.73C607.01 651.88 623.55 651.39 628.18 652.73C632.80 654.07 630.12 658.20 629.64 660.76C629.15 663.31 627.20 666.11 625.26 668.06C623.31 670.00 620.63 672.68 617.96 672.44C615.28 672.19 611.87 668.06 609.20 666.60C606.52 665.14 603.84 665.14 601.90 663.68C599.95 662.22 597.52 659.66 597.52 657.84Z"/>
<path d="M644.23 652.73C646.91 651.39 659.32 651.15 661.75 652.73C664.18 654.31 660.29 660.15 658.83 662.22C657.37 664.29 655.18 665.38 652.99 665.14C650.80 664.90 647.15 662.83 645.69 660.76C644.23 658.69 641.56 654.07 644.23 652.73Z"/>
<path d="M625.26 713.31C625.50 709.18 628.42 703.34 631.09 700.18C633.77 697.01 637.66 695.07 641.31 694.34C644.96 693.61 649.59 694.82 652.99 695.80C656.40 696.77 659.32 697.74 661.75 700.18C664.18 702.61 667.10 706.74 667.59 710.39C668.08 714.04 666.13 718.67 664.67 722.07C663.21 725.48 661.51 728.89 658.83 730.83C656.16 732.78 652.02 733.75 648.61 733.75C645.21 733.75 641.56 732.29 638.39 730.83C635.23 729.37 631.82 727.91 629.64 724.99C627.45 722.07 625.01 717.45 625.26 713.31Z"/>
<path d="M662.48 687.04C662.73 684.97 664.55 682.90 667.59 681.93C670.63 680.95 678.54 676.45 680.73 681.20C682.92 685.94 682.43 707.23 680.73 710.39C679.03 713.56 672.94 702.85 670.51 700.18C668.08 697.50 667.47 696.53 666.13 694.34C664.79 692.15 662.24 689.10 662.48 687.04Z"/>
<path d="M661.75 713.31C662.24 710.39 667.35 710.39 670.51 710.39C673.67 710.39 679.03 709.42 680.73 713.31C682.43 717.21 682.92 731.32 680.73 733.75C678.54 736.18 670.75 731.32 667.59 727.91C664.43 724.51 661.27 716.23 661.75 713.31Z"/>
<path d="M609.20 719.15C609.93 717.21 612.85 713.56 615.04 713.31C617.23 713.07 620.39 715.75 622.34 717.69C624.28 719.64 627.45 723.53 626.72 724.99C625.99 726.45 620.63 726.45 617.96 726.45C615.28 726.45 612.12 726.21 610.66 724.99C609.20 723.78 608.47 721.10 609.20 719.15Z"/>
</g>
<g fill="#fff" filter="url(#rmh)"><path d="M374.16 646.16C376.35 627.18 383.89 646.16 387.30 649.08C390.71 652.00 392.17 659.30 394.60 663.68C397.03 668.06 400.44 671.71 401.90 675.36C403.36 679.01 402.38 682.17 403.36 685.58C404.33 688.98 406.76 692.15 407.74 695.80C408.71 699.45 409.64 703.82 409.20 707.47C408.76 711.12 405.11 714.29 405.11 717.69C405.11 721.10 408.71 724.26 409.20 727.91C409.68 731.56 406.93 734.24 408.03 739.59C409.12 744.94 421.41 756.14 415.77 760.03C410.12 763.92 381.09 781.93 374.16 762.95C367.23 743.97 371.97 665.14 374.16 646.16Z"/></g>
<g filter="url(#r3d)" fill="#fff">
<path d="M388.76 652.73C390.22 651.34 400.19 652.85 404.82 654.19C409.44 655.53 412.60 658.45 416.50 660.76C420.39 663.07 424.53 666.11 428.18 668.06C431.82 670.00 435.60 671.46 438.39 672.44C441.19 673.41 443.87 672.97 444.96 673.90C446.06 674.82 446.55 677.21 444.96 677.99C443.38 678.76 439.00 679.20 435.47 678.57C431.95 677.94 427.45 675.89 423.80 674.19C420.15 672.49 416.74 669.81 413.58 668.35C410.41 666.89 407.74 666.40 404.82 665.43C401.90 664.46 398.73 664.63 396.06 662.51C393.38 660.39 387.30 654.12 388.76 652.73Z"/>
<ellipse cx="407.0" cy="676.8" rx="8.0" ry="6.6"/>
<ellipse cx="411.4" cy="688.5" rx="9.1" ry="7.0"/>
<ellipse cx="416.5" cy="700.2" rx="9.6" ry="7.0"/>
<ellipse cx="423.8" cy="710.4" rx="7.3" ry="5.3"/>
<ellipse cx="409.9" cy="713.3" rx="8.0" ry="7.0"/>
<ellipse cx="412.8" cy="725.0" rx="8.8" ry="7.0"/>
<ellipse cx="415.8" cy="736.7" rx="8.8" ry="7.0"/>
<ellipse cx="415.0" cy="747.6" rx="8.0" ry="7.0"/>
<ellipse cx="403.4" cy="668.8" rx="6.6" ry="5.8"/>
<ellipse cx="423.8" cy="754.2" rx="7.3" ry="5.3"/>
<ellipse cx="401.9" cy="660.8" rx="5.8" ry="4.4"/>
<ellipse cx="407.7" cy="700.2" rx="5.8" ry="8.8"/>
<ellipse cx="407.0" cy="722.1" rx="5.8" ry="10.2"/>
<ellipse cx="409.2" cy="742.5" rx="5.8" ry="8.8"/>
<path d="M422.34 688.50C424.53 689.47 431.34 692.83 435.47 694.34C439.61 695.84 443.75 696.28 447.15 697.55C450.56 698.81 452.51 701.20 455.91 701.93C459.32 702.66 463.21 701.68 467.59 701.93C471.97 702.17 479.76 703.14 482.19 703.39" fill="none" stroke="#fff" stroke-width="8.8" stroke-linecap="round" stroke-linejoin="round"/>
<path d="M448.61 680.03C450.32 680.52 455.18 682.71 458.83 682.95C462.48 683.19 466.62 682.27 470.51 681.49C474.40 680.71 480.24 678.81 482.19 678.28" fill="none" stroke="#fff" stroke-width="8.8" stroke-linecap="round" stroke-linejoin="round"/>
<path d="M467.59 673.90C470.02 673.61 479.76 672.44 482.19 672.15" fill="none" stroke="#fff" stroke-width="5.1" stroke-linecap="round" stroke-linejoin="round"/>
<path d="M445.69 711.85C447.40 711.61 452.26 710.59 455.91 710.39C459.56 710.20 465.64 710.64 467.59 710.69" fill="none" stroke="#fff" stroke-width="4.4" stroke-linecap="round" stroke-linejoin="round"/>
<path d="M455.91 716.23C456.89 717.69 459.81 722.07 461.75 724.99C463.70 727.91 464.18 731.27 467.59 733.75C471.00 736.23 479.76 738.86 482.19 739.88" fill="none" stroke="#fff" stroke-width="8.8" stroke-linecap="round" stroke-linejoin="round"/>
<path d="M442.77 734.04C444.96 734.29 451.78 735.50 455.91 735.50C460.05 735.50 465.64 734.29 467.59 734.04" fill="none" stroke="#fff" stroke-width="8.4" stroke-linecap="round" stroke-linejoin="round"/>
<path d="M438.39 745.72C440.34 745.97 446.18 746.70 450.07 747.18C453.97 747.67 457.86 748.89 461.75 748.64C465.64 748.40 470.02 746.99 473.43 745.72C476.84 744.46 480.73 741.83 482.19 741.05" fill="none" stroke="#fff" stroke-width="10.2" stroke-linecap="round" stroke-linejoin="round"/>
<path d="M478.54 670.25C480.73 669.40 487.79 668.30 491.68 669.52C495.57 670.73 498.25 675.97 501.90 677.55C505.55 679.13 509.93 678.16 513.58 679.01C517.23 679.86 521.36 682.54 523.80 682.66C526.23 682.78 527.08 679.01 528.18 679.74C529.27 680.47 531.09 685.94 530.36 687.04C529.64 688.13 526.59 687.16 523.80 686.31C521.00 685.45 517.23 682.78 513.58 681.93C509.93 681.08 505.06 682.17 501.90 681.20C498.73 680.22 498.49 677.18 494.60 676.09C490.71 674.99 481.22 675.60 478.54 674.63C475.86 673.65 476.35 671.10 478.54 670.25Z"/>
<path d="M478.54 694.34C480.24 693.85 484.62 696.89 488.76 695.80C492.90 694.70 499.71 689.23 503.36 687.77C507.01 686.31 507.49 686.43 510.66 687.04C513.82 687.64 519.17 690.44 522.34 691.42C525.50 692.39 527.20 691.90 529.64 692.88C532.07 693.85 536.20 696.04 536.93 697.26C537.66 698.47 536.45 700.54 534.01 700.18C531.58 699.81 526.23 696.53 522.34 695.07C518.44 693.61 513.82 691.54 510.66 691.42C507.49 691.29 506.52 692.88 503.36 694.34C500.19 695.80 495.82 699.45 491.68 700.18C487.54 700.91 480.73 699.69 478.54 698.72C476.35 697.74 476.84 694.82 478.54 694.34Z"/>
<path d="M482.92 703.09C484.87 702.85 490.95 705.53 494.60 706.01C498.25 706.50 501.41 706.74 504.82 706.01C508.22 705.28 512.12 701.39 515.04 701.64C517.96 701.88 519.90 706.01 522.34 707.47C524.77 708.93 528.42 709.30 529.64 710.39C530.85 711.49 531.34 713.31 529.64 714.04C527.93 714.77 523.31 714.41 519.42 714.77C515.52 715.14 510.41 716.96 506.28 716.23C502.14 715.50 498.49 711.85 494.60 710.39C490.71 708.93 484.87 708.69 482.92 707.47C480.97 706.26 480.97 703.34 482.92 703.09Z"/>
<path d="M535.47 711.85C536.81 711.25 541.56 712.34 544.23 712.58C546.91 712.83 550.56 712.46 551.53 713.31C552.51 714.17 551.78 716.72 550.07 717.69C548.37 718.67 543.63 719.40 541.31 719.15C539.00 718.91 537.18 717.45 536.20 716.23C535.23 715.02 534.14 712.46 535.47 711.85Z"/>
<path d="M560.29 672.44C561.27 670.73 565.40 672.44 567.59 673.90C569.78 675.36 571.73 678.28 573.43 681.20C575.13 684.12 577.81 688.98 577.81 691.42C577.81 693.85 575.38 695.19 573.43 695.80C571.48 696.40 567.83 694.58 566.13 695.07C564.43 695.55 564.67 697.74 563.21 698.72C561.75 699.69 557.98 701.64 557.37 700.91C556.76 700.18 558.83 697.13 559.56 694.34C560.29 691.54 561.63 687.77 561.75 684.12C561.87 680.47 559.32 674.14 560.29 672.44Z"/>
<path d="M555.91 704.55C557.37 702.85 560.05 705.53 561.75 707.47C563.45 709.42 564.18 714.04 566.13 716.23C568.08 718.42 571.97 719.15 573.43 720.61C574.89 722.07 575.86 721.83 574.89 724.99C573.92 728.16 569.78 735.94 567.59 739.59C565.40 743.24 563.70 744.70 561.75 746.89C559.81 749.08 557.37 752.73 555.91 752.73C554.45 752.73 553.72 750.05 552.99 746.89C552.26 743.73 551.53 738.62 551.53 733.75C551.53 728.89 552.26 722.56 552.99 717.69C553.72 712.83 554.45 706.26 555.91 704.55Z"/>
<path d="M478.54 738.13C479.27 736.91 485.60 734.97 487.30 735.21C489.00 735.45 489.49 738.37 488.76 739.59C488.03 740.81 484.62 742.75 482.92 742.51C481.22 742.27 477.81 739.35 478.54 738.13Z"/>
<path d="M501.90 742.51C502.63 740.08 506.52 739.83 509.20 739.59C511.87 739.35 516.25 739.59 517.96 741.05C519.66 742.51 520.15 745.92 519.42 748.35C518.69 750.78 516.01 754.68 513.58 755.65C511.14 756.62 506.76 756.38 504.82 754.19C502.87 752.00 501.17 744.94 501.90 742.51Z"/>
<path d="M525.26 735.21C526.59 733.75 533.04 732.05 534.01 733.02C534.99 734.00 532.43 739.59 531.09 741.05C529.76 742.51 526.96 742.75 525.99 741.78C525.01 740.81 523.92 736.67 525.26 735.21Z"/>
<path d="M622.34 673.90C622.82 672.44 626.72 673.29 628.18 670.98C629.64 668.67 630.12 661.73 631.09 660.03C632.07 658.33 633.16 659.54 634.01 660.76C634.87 661.98 634.99 665.87 636.20 667.33C637.42 668.79 639.98 667.94 641.31 669.52C642.65 671.10 643.50 673.65 644.23 676.82C644.96 679.98 645.94 685.58 645.69 688.50C645.45 691.42 644.48 693.61 642.77 694.34C641.07 695.07 637.42 694.58 635.47 692.88C633.53 691.17 632.80 686.31 631.09 684.12C629.39 681.93 626.72 681.44 625.26 679.74C623.80 678.03 621.85 675.36 622.34 673.90Z"/>
<path d="M652.99 666.60C652.75 665.14 657.86 664.17 660.29 665.14C662.73 666.11 665.40 671.46 667.59 672.44C669.78 673.41 672.21 673.65 673.43 670.98C674.65 668.30 673.67 658.81 674.89 656.38C676.11 653.95 679.76 652.49 680.73 656.38C681.70 660.27 682.68 675.97 680.73 679.74C678.78 683.51 672.21 679.98 669.05 679.01C665.89 678.03 664.43 675.97 661.75 673.90C659.08 671.83 653.24 668.06 652.99 666.60Z"/>
<path d="M622.34 704.55C623.55 701.64 628.91 696.77 631.09 695.80C633.28 694.82 635.96 696.28 635.47 698.72C634.99 701.15 630.12 707.96 628.18 710.39C626.23 712.83 624.77 714.29 623.80 713.31C622.82 712.34 621.12 707.47 622.34 704.55Z"/>
<path d="M611.39 708.93C611.75 708.08 613.45 706.26 615.04 706.74C616.62 707.23 620.27 710.52 620.88 711.85C621.48 713.19 620.02 714.77 618.69 714.77C617.35 714.77 614.06 712.83 612.85 711.85C611.63 710.88 611.02 709.79 611.39 708.93Z"/>
<path d="M614.31 733.75C615.04 732.29 616.62 729.37 617.96 729.37C619.29 729.37 620.63 733.75 622.34 733.75C624.04 733.75 626.96 729.37 628.18 729.37C629.39 729.37 629.88 732.05 629.64 733.75C629.39 735.45 627.69 737.64 626.72 739.59C625.74 741.54 625.26 745.19 623.80 745.43C622.34 745.67 619.66 742.27 617.96 741.05C616.25 739.83 614.18 739.35 613.58 738.13C612.97 736.91 613.58 735.21 614.31 733.75Z"/>
<path d="M642.77 746.89C643.26 744.94 646.42 740.81 648.61 738.13C650.80 735.45 652.75 731.56 655.91 730.83C659.08 730.10 663.45 733.27 667.59 733.75C671.73 734.24 678.54 731.32 680.73 733.75C682.92 736.18 683.89 746.16 680.73 748.35C677.57 750.54 666.37 746.65 661.75 746.89C657.13 747.13 655.67 749.32 652.99 749.81C650.32 750.30 647.40 750.30 645.69 749.81C643.99 749.32 642.29 748.84 642.77 746.89Z"/>
</g>
<g fill="#fff" filter="url(#g3d)">
<path d="M442.77 652.73C446.42 650.66 461.70 650.91 465.40 652.73C469.10 654.55 465.33 660.15 464.96 663.68C464.60 667.21 464.23 671.34 463.21 673.90C462.19 676.45 460.54 678.52 458.83 679.01C457.13 679.49 454.94 678.40 452.99 676.82C451.05 675.24 448.73 671.46 447.15 669.52C445.57 667.57 444.23 667.94 443.50 665.14C442.77 662.34 439.12 654.80 442.77 652.73Z"/>
<path d="M423.80 739.59C424.28 736.06 427.20 735.21 429.64 734.48C432.07 733.75 436.45 733.87 438.39 735.21C440.34 736.55 441.31 739.35 441.31 742.51C441.31 745.67 440.83 752.00 438.39 754.19C435.96 756.38 429.15 758.08 426.72 755.65C424.28 753.22 423.31 743.12 423.80 739.59Z"/>
<path d="M528.18 652.73C530.85 650.42 540.10 651.15 542.77 652.73C545.45 654.31 543.26 660.88 544.23 662.22C545.21 663.56 546.18 659.79 548.61 660.76C551.05 661.73 556.89 664.65 558.83 668.06C560.78 671.46 560.29 676.57 560.29 681.20C560.29 685.82 560.29 692.15 558.83 695.80C557.37 699.45 554.45 702.36 551.53 703.09C548.61 703.82 543.99 701.88 541.31 700.18C538.64 698.47 536.57 695.55 535.47 692.88C534.38 690.20 535.72 686.55 534.74 684.12C533.77 681.68 530.97 681.20 529.64 678.28C528.30 675.36 526.96 670.86 526.72 666.60C526.47 662.34 525.50 655.04 528.18 652.73Z"/>
<path d="M529.64 708.20C530.12 706.87 535.47 702.73 538.39 702.36C541.31 702.00 544.84 704.55 547.15 706.01C549.46 707.47 552.75 710.39 552.26 711.12C551.78 711.85 547.03 710.52 544.23 710.39C541.44 710.27 537.91 710.76 535.47 710.39C533.04 710.03 529.15 709.54 529.64 708.20Z"/>
<path d="M496.06 727.91C496.55 725.24 499.22 722.32 501.90 720.61C504.57 718.91 508.47 718.18 512.12 717.69C515.77 717.21 520.88 716.96 523.80 717.69C526.72 718.42 529.15 719.88 529.64 722.07C530.12 724.26 527.93 727.91 526.72 730.83C525.50 733.75 525.26 737.89 522.34 739.59C519.42 741.29 513.09 741.54 509.20 741.05C505.30 740.56 501.17 738.86 498.98 736.67C496.79 734.48 495.57 730.59 496.06 727.91Z"/>
<path d="M478.54 745.43C480.24 742.02 485.60 737.64 488.76 736.67C491.92 735.70 495.33 737.89 497.52 739.59C499.71 741.29 500.68 743.97 501.90 746.89C503.11 749.81 508.71 755.41 504.82 757.11C500.92 758.81 482.92 759.06 478.54 757.11C474.16 755.16 476.84 748.84 478.54 745.43Z"/>
<path d="M515.04 754.19C509.68 751.76 518.20 744.94 520.88 742.51C523.55 740.08 528.18 741.05 531.09 739.59C534.01 738.13 535.47 735.09 538.39 733.75C541.31 732.41 545.21 730.59 548.61 731.56C552.02 732.54 557.01 736.79 558.83 739.59C560.66 742.39 560.54 745.43 559.56 748.35C558.59 751.27 560.41 756.14 552.99 757.11C545.57 758.08 520.39 756.62 515.04 754.19Z"/>
<path d="M558.83 710.39C559.56 709.06 564.31 706.74 566.13 706.74C567.96 706.74 569.54 709.06 569.78 710.39C570.02 711.73 568.93 714.04 567.59 714.77C566.25 715.50 563.21 715.50 561.75 714.77C560.29 714.04 558.10 711.73 558.83 710.39Z"/>
<path d="M561.75 752.73C563.21 750.78 567.10 746.65 570.51 745.43C573.92 744.21 580.24 743.48 582.19 745.43C584.14 747.38 585.60 755.16 582.19 757.11C578.78 759.06 565.16 757.84 561.75 757.11C558.35 756.38 560.29 754.68 561.75 752.73Z"/>
<path d="M590.22 678.28C590.46 674.14 592.17 670.37 594.60 668.06C597.03 665.75 600.92 663.44 604.82 664.41C608.71 665.38 614.31 670.86 617.96 673.90C621.61 676.94 625.01 679.98 626.72 682.66C628.42 685.33 628.91 687.04 628.18 689.96C627.45 692.88 624.28 697.01 622.34 700.18C620.39 703.34 618.69 707.23 616.50 708.93C614.31 710.64 611.87 711.37 609.20 710.39C606.52 709.42 603.11 706.01 600.44 703.09C597.76 700.18 594.84 697.01 593.14 692.88C591.44 688.74 589.98 682.41 590.22 678.28Z"/>
<path d="M578.54 716.23C580.24 712.10 585.60 714.53 588.76 714.77C591.92 715.02 595.33 715.50 597.52 717.69C599.71 719.88 600.68 724.75 601.90 727.91C603.11 731.08 606.03 734.48 604.82 736.67C603.60 738.86 598.98 740.56 594.60 741.05C590.22 741.54 581.22 743.73 578.54 739.59C575.86 735.45 576.84 720.37 578.54 716.23Z"/>
<path d="M626.72 736.67C627.20 734.00 629.64 731.08 632.55 730.83C635.47 730.59 641.07 733.27 644.23 735.21C647.40 737.16 650.80 739.83 651.53 742.51C652.26 745.19 650.80 749.32 648.61 751.27C646.42 753.22 641.56 754.92 638.39 754.19C635.23 753.46 631.58 749.81 629.64 746.89C627.69 743.97 626.23 739.35 626.72 736.67Z"/>
<path d="M591.68 755.65C591.19 754.19 593.50 748.11 594.60 746.89C595.69 745.67 597.76 746.89 598.25 748.35C598.73 749.81 598.61 754.43 597.52 755.65C596.42 756.87 592.17 757.11 591.68 755.65Z"/>
<path d="M650.07 755.65C645.45 754.43 651.05 749.81 652.99 748.35C654.94 746.89 657.13 746.89 661.75 746.89C666.37 746.89 677.57 746.89 680.73 748.35C683.89 749.81 685.84 754.43 680.73 755.65C675.62 756.87 654.70 756.87 650.07 755.65Z"/>
</g>
<path d="M626.72 724.99C626.72 723.00 627.69 718.42 629.64 714.77C631.58 711.12 635.23 705.77 638.39 703.09C641.56 700.42 645.69 699.20 648.61 698.72C651.53 698.23 654.45 698.96 655.91 700.18C657.37 701.39 657.86 703.82 657.37 706.01C656.89 708.20 655.18 710.88 652.99 713.31C650.80 715.75 647.15 718.67 644.23 720.61C641.31 722.56 637.91 723.97 635.47 724.99C633.04 726.01 631.09 726.74 629.64 726.74C628.18 726.74 626.72 726.99 626.72 724.99Z" fill="#8C1A1A"/>
<path d="M629.64 725.72C629.27 726.82 628.42 729.98 627.45 732.29C626.47 734.60 624.40 738.37 623.80 739.59" fill="none" stroke="#A82424" stroke-width="1.6" stroke-linecap="round"/>
</g>
<line x1="428.18" y1="660.47" x2="441.02" y2="666.60" stroke="#fff" stroke-width="1.9" marker-end="url(#aw)"/>
<line x1="585.11" y1="665.43" x2="568.76" y2="669.23" stroke="#fff" stroke-width="1.9" marker-end="url(#aw)"/>
<rect x="386.00" y="748.80" width="21.70" height="1.90" fill="#fff" />
<rect x="381.80" y="755.80" width="295.50" height="108.00" fill="#000" />
<g clip-path="url(#ci)">
<g fill="#fff" filter="url(#g3d)">
<ellipse cx="452.3" cy="762.8" rx="7.9" ry="5.7"/>
<ellipse cx="467.6" cy="778.1" rx="11.4" ry="9.2" transform="rotate(20 467.6 778.1)"/>
<ellipse cx="461.5" cy="767.6" rx="4.8" ry="3.9"/>
<ellipse cx="487.3" cy="775.9" rx="2.6" ry="5.7"/>
<ellipse cx="510.3" cy="763.9" rx="2.2" ry="3.5"/>
<ellipse cx="511.4" cy="775.9" rx="2.2" ry="2.2"/>
<ellipse cx="523.4" cy="771.5" rx="2.0" ry="2.0"/>
<ellipse cx="461.0" cy="802.2" rx="6.6" ry="5.5"/>
<ellipse cx="467.6" cy="817.5" rx="8.8" ry="10.1"/>
<ellipse cx="482.9" cy="804.4" rx="6.6" ry="4.4"/>
<ellipse cx="504.8" cy="813.1" rx="6.6" ry="9.2" transform="rotate(15 504.8 813.1)"/>
<ellipse cx="482.9" cy="828.4" rx="6.6" ry="4.4"/>
<ellipse cx="476.3" cy="819.7" rx="4.4" ry="6.6"/>
<ellipse cx="498.2" cy="806.6" rx="2.2" ry="2.2"/>
<ellipse cx="447.9" cy="813.1" rx="2.0" ry="2.0"/>
<ellipse cx="447.9" cy="840.5" rx="12.3" ry="7.9"/>
<ellipse cx="472.0" cy="856.9" rx="9.2" ry="9.2"/>
<ellipse cx="515.8" cy="861.3" rx="4.4" ry="4.4"/>
<ellipse cx="522.3" cy="821.9" rx="2.2" ry="2.2"/>
<ellipse cx="493.9" cy="782.5" rx="1.3" ry="1.3"/>
<ellipse cx="502.6" cy="830.6" rx="1.5" ry="1.1"/>
<ellipse cx="489.5" cy="852.5" rx="1.8" ry="1.8"/>
<ellipse cx="536.6" cy="778.1" rx="4.8" ry="4.4"/>
<ellipse cx="545.3" cy="770.4" rx="3.5" ry="3.3"/>
<ellipse cx="556.3" cy="775.9" rx="4.4" ry="4.4"/>
<ellipse cx="558.5" cy="760.6" rx="4.2" ry="3.9"/>
<ellipse cx="580.4" cy="763.9" rx="4.4" ry="4.4"/>
<ellipse cx="583.6" cy="780.3" rx="4.8" ry="4.8"/>
<ellipse cx="593.5" cy="768.2" rx="2.8" ry="2.4"/>
<ellipse cx="613.2" cy="757.3" rx="5.7" ry="2.2"/>
<ellipse cx="571.6" cy="813.1" rx="10.1" ry="7.7" transform="rotate(-20 571.6 813.1)"/>
<ellipse cx="580.4" cy="803.3" rx="5.7" ry="4.4"/>
<ellipse cx="533.3" cy="817.5" rx="3.3" ry="5.7"/>
<ellipse cx="562.8" cy="826.3" rx="6.6" ry="5.5"/>
<ellipse cx="572.7" cy="835.0" rx="7.0" ry="5.7"/>
<ellipse cx="595.7" cy="832.8" rx="8.8" ry="6.6"/>
<ellipse cx="604.4" cy="836.8" rx="6.6" ry="5.5"/>
<ellipse cx="614.3" cy="813.1" rx="5.7" ry="2.6" transform="rotate(25 614.3 813.1)"/>
<ellipse cx="597.9" cy="805.5" rx="2.2" ry="2.0"/>
<ellipse cx="562.8" cy="853.6" rx="5.7" ry="4.4"/>
<ellipse cx="553.0" cy="853.6" rx="2.6" ry="2.6"/>
<ellipse cx="589.1" cy="852.5" rx="2.6" ry="3.1"/>
<ellipse cx="597.9" cy="859.5" rx="5.7" ry="2.2"/>
<ellipse cx="570.5" cy="861.3" rx="3.5" ry="3.3"/>
<ellipse cx="608.8" cy="859.1" rx="2.2" ry="2.2"/>
<ellipse cx="540.9" cy="820.8" rx="1.5" ry="1.3"/>
<ellipse cx="558.5" cy="803.3" rx="1.3" ry="1.1"/>
<ellipse cx="660.1" cy="765.3" rx="5.4" ry="2.2" transform="rotate(-10 660.1 765.3)"/>
<ellipse cx="614.0" cy="757.8" rx="6.0" ry="3.6" transform="rotate(0 614.0 757.8)"/>
<ellipse cx="671.2" cy="785.2" rx="7.4" ry="3.6" transform="rotate(10 671.2 785.2)"/>
<ellipse cx="670.1" cy="804.5" rx="6.0" ry="2.2" transform="rotate(10 670.1 804.5)"/>
<ellipse cx="671.2" cy="819.6" rx="7.4" ry="2.6" transform="rotate(15 671.2 819.6)"/>
<ellipse cx="644.4" cy="816.1" rx="4.7" ry="2.2" transform="rotate(25 644.4 816.1)"/>
<ellipse cx="616.4" cy="813.8" rx="6.0" ry="3.2" transform="rotate(30 616.4 813.8)"/>
<ellipse cx="660.7" cy="820.8" rx="2.7" ry="1.5" transform="rotate(30 660.7 820.8)"/>
<ellipse cx="664.8" cy="825.5" rx="2.7" ry="1.8" transform="rotate(30 664.8 825.5)"/>
<ellipse cx="652.6" cy="826.7" rx="4.0" ry="1.5" transform="rotate(30 652.6 826.7)"/>
<ellipse cx="627.4" cy="826.1" rx="2.4" ry="1.2" transform="rotate(35 627.4 826.1)"/>
<ellipse cx="639.7" cy="830.7" rx="6.7" ry="2.6" transform="rotate(30 639.7 830.7)"/>
<ellipse cx="671.2" cy="830.7" rx="6.7" ry="4.1" transform="rotate(10 671.2 830.7)"/>
<ellipse cx="654.9" cy="835.4" rx="7.4" ry="3.6" transform="rotate(30 654.9 835.4)"/>
<ellipse cx="665.4" cy="836.6" rx="5.4" ry="2.9" transform="rotate(20 665.4 836.6)"/>
<ellipse cx="674.7" cy="843.0" rx="4.0" ry="1.8" transform="rotate(25 674.7 843.0)"/>
<ellipse cx="652.6" cy="845.3" rx="6.0" ry="2.6" transform="rotate(30 652.6 845.3)"/>
<ellipse cx="640.9" cy="846.5" rx="3.4" ry="2.9" transform="rotate(30 640.9 846.5)"/>
<ellipse cx="670.1" cy="851.8" rx="8.1" ry="3.6" transform="rotate(25 670.1 851.8)"/>
<ellipse cx="637.4" cy="851.8" rx="5.4" ry="2.2" transform="rotate(40 637.4 851.8)"/>
<ellipse cx="653.7" cy="856.4" rx="4.7" ry="1.8" transform="rotate(35 653.7 856.4)"/>
<ellipse cx="642.0" cy="857.6" rx="2.7" ry="1.2" transform="rotate(35 642.0 857.6)"/>
<ellipse cx="667.7" cy="858.8" rx="8.1" ry="2.9" transform="rotate(35 667.7 858.8)"/>
<ellipse cx="611.1" cy="858.8" rx="2.0" ry="3.2" transform="rotate(0 611.1 858.8)"/>
<ellipse cx="601.8" cy="822.6" rx="2.7" ry="2.9" transform="rotate(0 601.8 822.6)"/>
<ellipse cx="607.0" cy="830.7" rx="6.0" ry="4.4" transform="rotate(20 607.0 830.7)"/>
<ellipse cx="605.8" cy="838.9" rx="6.7" ry="5.8" transform="rotate(20 605.8 838.9)"/>
<ellipse cx="617.5" cy="845.9" rx="3.4" ry="1.8" transform="rotate(0 617.5 845.9)"/>
<ellipse cx="602.3" cy="854.1" rx="2.0" ry="2.2" transform="rotate(0 602.3 854.1)"/>
<ellipse cx="603.5" cy="861.7" rx="4.0" ry="2.2" transform="rotate(0 603.5 861.7)"/>
</g>
<g fill="#fff" filter="url(#rm3d)">
<path d="M373.43 747.43C382.37 739.40 416.93 744.33 427.08 747.43C437.22 750.53 433.21 761.30 434.30 766.04C435.40 770.79 432.11 773.60 433.65 775.90C435.18 778.20 439.67 778.56 443.50 779.84C447.33 781.11 451.89 782.39 456.64 783.56C461.38 784.73 467.22 785.57 471.96 786.84C476.71 788.12 480.72 790.06 485.10 791.22C489.48 792.39 494.77 794.95 498.24 793.85C501.71 792.76 504.01 785.02 505.90 784.65C507.80 784.29 507.25 790.02 509.63 791.66C512.00 793.30 515.46 794.76 520.14 794.51C524.81 794.25 534.73 789.03 537.65 790.13C540.57 791.22 541.30 798.70 537.65 801.08C534.00 803.45 521.60 804.18 515.76 804.36C509.92 804.54 507.73 803.05 502.62 802.17C497.51 801.30 490.94 799.84 485.10 799.11C479.26 798.38 473.06 798.16 467.58 797.79C462.11 797.43 456.64 797.43 452.26 796.92C447.88 796.41 446.05 795.68 441.31 794.73C436.57 793.78 428.17 792.03 423.79 791.22C419.41 790.42 420.14 790.27 415.03 789.91C409.92 789.54 400.07 788.09 393.14 789.03C386.20 789.98 376.72 802.54 373.43 795.60C370.15 788.67 364.49 755.46 373.43 747.43Z"/>
<path d="M373.43 816.40C376.72 806.55 387.66 812.57 393.14 810.93C398.61 809.29 402.44 808.74 406.28 806.55C410.11 804.36 413.21 800.27 416.13 797.79C419.05 795.31 419.52 792.10 423.79 791.66C428.06 791.22 438.97 793.05 441.75 795.16C444.52 797.28 438.68 801.73 440.43 804.36C442.19 806.99 448.75 808.74 452.26 810.93C455.76 813.12 459.19 814.94 461.45 817.50C463.72 820.05 465.54 823.70 465.83 826.26C466.13 828.81 465.47 831.37 463.21 832.83C460.94 834.29 455.54 834.21 452.26 835.02C448.97 835.82 446.05 836.18 443.50 837.64C440.94 839.10 438.75 841.66 436.93 843.77C435.11 845.89 432.48 848.08 432.55 850.34C432.62 852.61 435.18 854.07 437.37 857.35C439.56 860.63 456.34 867.93 445.69 870.05C435.03 872.17 385.47 878.99 373.43 870.05C361.39 861.11 370.15 826.26 373.43 816.40Z"/>
<path d="M525.62 786.84C528.54 784.65 538.03 784.47 543.14 783.56C548.25 782.65 552.26 782.28 556.28 781.37C560.29 780.46 564.67 779.55 567.22 778.09C569.78 776.63 569.96 773.16 571.60 772.61C573.25 772.06 575.62 773.16 577.08 774.80C578.54 776.44 578.35 780.64 580.36 782.47C582.37 784.29 585.47 784.65 589.12 785.75C592.77 786.84 597.88 788.49 602.26 789.03C606.64 789.58 612.11 790.86 615.40 789.03C618.68 787.21 619.04 781.01 621.96 778.09C624.88 775.17 629.26 772.79 632.91 771.52C636.56 770.24 641.31 771.33 643.86 770.42C646.41 769.51 646.05 766.41 648.24 766.04C650.43 765.68 654.63 766.77 657.00 768.23C659.37 769.69 662.84 772.06 662.47 774.80C662.11 777.54 656.82 781.55 654.81 784.65C652.80 787.76 650.79 789.76 650.43 793.41C650.06 797.06 650.79 802.17 652.62 806.55C654.44 810.93 660.83 817.32 661.38 819.69C661.92 822.06 658.46 822.24 655.90 820.78C653.35 819.32 649.15 811.66 646.05 810.93C642.95 810.20 640.94 816.77 637.29 816.40C633.64 816.04 628.17 810.38 624.15 808.74C620.14 807.10 616.85 807.10 613.21 806.55C609.56 806.00 606.27 806.37 602.26 805.46C598.24 804.54 593.86 802.17 589.12 801.08C584.38 799.98 579.27 799.62 573.79 798.89C568.32 798.16 561.38 797.43 556.28 796.70C551.17 795.97 548.25 794.51 543.14 794.51C538.03 794.51 528.54 797.97 525.62 796.70C522.70 795.42 522.70 789.03 525.62 786.84Z"/>
</g>
<g fill="#fff" filter="url(#r3i)">
<path d="M469.77 835.02C471.23 833.34 474.52 832.28 478.53 832.83C482.55 833.37 489.12 837.94 493.86 838.30C498.60 838.67 502.62 835.93 507.00 835.02C511.38 834.10 515.03 832.17 520.14 832.83C525.24 833.48 534.73 836.84 537.65 838.96C540.57 841.07 540.57 845.23 537.65 845.53C534.73 845.82 525.24 841.29 520.14 840.71C515.03 840.13 511.38 841.29 507.00 842.02C502.62 842.75 498.60 844.21 493.86 845.09C489.12 845.96 482.55 847.64 478.53 847.28C474.52 846.91 471.23 844.94 469.77 842.90C468.31 840.85 468.31 836.69 469.77 835.02Z"/>
<path d="M443.50 855.82C445.32 854.07 452.62 853.81 456.64 852.53C460.65 851.26 465.03 848.52 467.58 848.15C470.14 847.79 472.69 848.88 471.96 850.34C471.23 851.80 466.13 854.80 463.21 856.91C460.29 859.03 457.37 862.02 454.45 863.04C451.53 864.06 447.51 864.25 445.69 863.04C443.86 861.84 441.67 857.57 443.50 855.82Z"/>
<ellipse cx="443.9" cy="775.9" rx="3.3" ry="3.5"/>
<ellipse cx="452.7" cy="773.7" rx="2.2" ry="3.1"/>
<path d="M525.62 841.58C527.81 839.40 534.38 837.75 538.76 837.21C543.14 836.66 546.79 837.75 551.90 838.30C557.01 838.85 565.22 839.76 569.41 840.49C573.61 841.22 575.07 841.04 577.08 842.68C579.08 844.32 581.09 847.97 581.46 850.34C581.82 852.72 580.54 856.00 579.27 856.91C577.99 857.82 575.07 857.28 573.79 855.82C572.52 854.36 574.52 849.61 571.60 848.15C568.68 846.69 561.38 847.24 556.28 847.06C551.17 846.88 546.06 846.51 540.95 847.06C535.84 847.61 528.18 851.26 525.62 850.34C523.07 849.43 523.43 843.77 525.62 841.58Z"/>
<path d="M592.40 840.49C594.05 839.76 598.79 840.49 602.26 839.40C605.72 838.30 609.56 835.38 613.21 833.92C616.85 832.46 620.14 831.18 624.15 830.64C628.17 830.09 634.19 829.72 637.29 830.64C640.39 831.55 642.77 834.47 642.77 836.11C642.77 837.75 640.39 839.58 637.29 840.49C634.19 841.40 627.80 841.04 624.15 841.58C620.50 842.13 618.31 842.31 615.40 843.77C612.48 845.23 609.56 849.61 606.64 850.34C603.72 851.07 600.25 849.25 597.88 848.15C595.51 847.06 593.32 845.05 592.40 843.77C591.49 842.50 590.76 841.22 592.40 840.49Z"/>
<ellipse cx="585.8" cy="842.7" rx="2.2" ry="2.0"/>
<path d="M654.81 786.84C655.54 785.57 662.47 783.92 665.76 784.65C669.04 785.38 673.42 789.40 674.51 791.22C675.61 793.05 674.51 795.42 672.33 795.60C670.14 795.79 664.30 793.78 661.38 792.32C658.46 790.86 654.08 788.12 654.81 786.84Z"/>
<path d="M661.38 806.55C662.84 805.24 671.89 803.63 674.51 804.36C677.14 805.09 678.60 809.62 677.14 810.93C675.68 812.24 668.38 812.97 665.76 812.24C663.13 811.51 659.92 807.86 661.38 806.55Z"/>
<ellipse cx="669.0" cy="775.5" rx="5.7" ry="1.8"/>
<path d="M659.19 824.07C660.28 823.08 667.29 822.90 670.14 823.63C672.98 824.36 675.90 827.21 676.27 828.45C676.63 829.69 674.44 830.89 672.33 831.07C670.21 831.26 665.76 830.71 663.57 829.54C661.38 828.37 658.09 825.05 659.19 824.07Z"/>
</g>
<ellipse cx="396" cy="770" rx="34" ry="18" fill="#000" opacity="0.48" filter="url(#bl3)"/>
<ellipse cx="398" cy="856" rx="50" ry="17" fill="#000" opacity="0.42" filter="url(#bl3)"/>
</g>
<line x1="511.38" y1="769.33" x2="524.95" y2="781.37" stroke="#fff" stroke-width="1.9" marker-end="url(#aw)"/>
<line x1="609.26" y1="775.90" x2="592.84" y2="780.93" stroke="#fff" stroke-width="1.9" marker-end="url(#aw)"/>
<rect x="386.50" y="854.00" width="40.40" height="2.30" fill="#fff" />
<!-- pj -->
<text font-size="15.00" text-anchor="middle" font-weight="bold" x="3.50" y="896.15">j</text>
<text font-size="8.17" text-anchor="middle" font-weight="bold" transform="translate(16.60 948.00) rotate(-90)" x="0" y="2.86">Ratio of tanycyte-soma contacts/</text>
<text font-size="8.22" text-anchor="middle" font-weight="bold" transform="translate(27.00 950.00) rotate(-90)" x="0" y="2.88">tanycyte protrusions</text>
<path d="M55.60 893.20V995.20H233.00" fill="none" stroke="#000" stroke-width="1.1" />
<line x1="53.00" y1="995.20" x2="55.60" y2="995.20" stroke="#000" stroke-width="1.0" />
<text stroke="#000" stroke-width="0.12" font-size="7.00" text-anchor="end" x="52.20" y="997.72">0</text>
<line x1="53.00" y1="974.87" x2="55.60" y2="974.87" stroke="#000" stroke-width="1.0" />
<text stroke="#000" stroke-width="0.12" font-size="7.00" text-anchor="end" x="52.20" y="977.39">10</text>
<line x1="53.00" y1="954.54" x2="55.60" y2="954.54" stroke="#000" stroke-width="1.0" />
<text stroke="#000" stroke-width="0.12" font-size="7.00" text-anchor="end" x="52.20" y="957.06">20</text>
<line x1="53.00" y1="934.21" x2="55.60" y2="934.21" stroke="#000" stroke-width="1.0" />
<text stroke="#000" stroke-width="0.12" font-size="7.00" text-anchor="end" x="52.20" y="936.73">30</text>
<line x1="53.00" y1="913.88" x2="55.60" y2="913.88" stroke="#000" stroke-width="1.0" />
<text stroke="#000" stroke-width="0.12" font-size="7.00" text-anchor="end" x="52.20" y="916.40">40</text>
<line x1="53.00" y1="893.55" x2="55.60" y2="893.55" stroke="#000" stroke-width="1.0" />
<text stroke="#000" stroke-width="0.12" font-size="7.00" text-anchor="end" x="52.20" y="896.07">50</text>
<rect x="62.40" y="929.30" width="16.10" height="65.90" fill="#fff" stroke="#000" stroke-width="1.1" />
<line x1="70.45" y1="920.50" x2="70.45" y2="937.40" stroke="#000" stroke-width="0.8" />
<line x1="66.65" y1="920.50" x2="74.25" y2="920.50" stroke="#000" stroke-width="0.8" />
<line x1="66.65" y1="937.40" x2="74.25" y2="937.40" stroke="#000" stroke-width="0.8" />
<circle cx="70.40" cy="908.30" r="1.85" fill="#fff" stroke="#000" stroke-width="0.85" />
<circle cx="66.60" cy="927.60" r="1.85" fill="#fff" stroke="#000" stroke-width="0.85" />
<circle cx="73.90" cy="930.00" r="1.85" fill="#fff" stroke="#000" stroke-width="0.85" />
<circle cx="70.10" cy="950.00" r="1.85" fill="#fff" stroke="#000" stroke-width="0.85" />
<rect x="85.80" y="946.50" width="16.20" height="48.70" fill="#fff" stroke="#000" stroke-width="1.1" />
<line x1="93.90" y1="943.70" x2="93.90" y2="948.90" stroke="#000" stroke-width="0.8" />
<line x1="90.10" y1="943.70" x2="97.70" y2="943.70" stroke="#000" stroke-width="0.8" />
<line x1="90.10" y1="948.90" x2="97.70" y2="948.90" stroke="#000" stroke-width="0.8" />
<circle cx="94.60" cy="938.50" r="2.15" fill="#000" />
<circle cx="88.50" cy="945.20" r="2.15" fill="#000" />
<circle cx="101.10" cy="944.90" r="2.15" fill="#000" />
<circle cx="94.60" cy="947.20" r="2.15" fill="#000" />
<circle cx="94.60" cy="954.80" r="2.15" fill="#000" />
<rect x="127.20" y="934.20" width="15.80" height="61.00" fill="#fff" stroke="#000" stroke-width="1.1" />
<line x1="135.10" y1="932.10" x2="135.10" y2="936.70" stroke="#000" stroke-width="0.8" />
<line x1="131.30" y1="932.10" x2="138.90" y2="932.10" stroke="#000" stroke-width="0.8" />
<line x1="131.30" y1="936.70" x2="138.90" y2="936.70" stroke="#000" stroke-width="0.8" />
<circle cx="131.00" cy="932.10" r="1.85" fill="#fff" stroke="#000" stroke-width="0.85" />
<circle cx="139.10" cy="930.40" r="1.85" fill="#fff" stroke="#000" stroke-width="0.85" />
<circle cx="133.50" cy="936.30" r="1.85" fill="#fff" stroke="#000" stroke-width="0.85" />
<circle cx="137.00" cy="934.60" r="1.85" fill="#fff" stroke="#000" stroke-width="0.85" />
<rect x="150.70" y="956.30" width="15.70" height="38.90" fill="#fff" stroke="#000" stroke-width="1.1" />
<line x1="158.55" y1="951.40" x2="158.55" y2="961.20" stroke="#000" stroke-width="0.8" />
<line x1="154.75" y1="951.40" x2="162.35" y2="951.40" stroke="#000" stroke-width="0.8" />
<line x1="154.75" y1="961.20" x2="162.35" y2="961.20" stroke="#000" stroke-width="0.8" />
<circle cx="158.70" cy="939.80" r="2.15" fill="#000" />
<circle cx="158.40" cy="951.00" r="2.15" fill="#000" />
<circle cx="154.90" cy="959.10" r="2.15" fill="#000" />
<circle cx="161.90" cy="960.10" r="2.15" fill="#000" />
<circle cx="158.70" cy="970.30" r="2.15" fill="#000" />
<rect x="189.20" y="930.00" width="16.10" height="65.20" fill="#fff" stroke="#000" stroke-width="1.1" />
<line x1="197.25" y1="926.50" x2="197.25" y2="933.20" stroke="#000" stroke-width="0.8" />
<line x1="193.45" y1="926.50" x2="201.05" y2="926.50" stroke="#000" stroke-width="0.8" />
<line x1="193.45" y1="933.20" x2="201.05" y2="933.20" stroke="#000" stroke-width="0.8" />
<circle cx="196.90" cy="923.00" r="1.85" fill="#fff" stroke="#000" stroke-width="0.85" />
<circle cx="193.80" cy="929.70" r="1.85" fill="#fff" stroke="#000" stroke-width="0.85" />
<circle cx="200.80" cy="928.60" r="1.85" fill="#fff" stroke="#000" stroke-width="0.85" />
<circle cx="193.40" cy="934.60" r="1.85" fill="#fff" stroke="#000" stroke-width="0.85" />
<circle cx="199.00" cy="933.20" r="1.85" fill="#fff" stroke="#000" stroke-width="0.85" />
<rect x="212.70" y="940.50" width="15.80" height="54.70" fill="#fff" stroke="#000" stroke-width="1.1" />
<line x1="220.60" y1="937.40" x2="220.60" y2="943.70" stroke="#000" stroke-width="0.8" />
<line x1="216.80" y1="937.40" x2="224.40" y2="937.40" stroke="#000" stroke-width="0.8" />
<line x1="216.80" y1="943.70" x2="224.40" y2="943.70" stroke="#000" stroke-width="0.8" />
<circle cx="220.70" cy="927.60" r="2.15" fill="#000" />
<circle cx="220.00" cy="937.40" r="2.15" fill="#000" />
<circle cx="216.50" cy="941.60" r="2.15" fill="#000" />
<circle cx="224.20" cy="942.60" r="2.15" fill="#000" />
<circle cx="217.90" cy="948.60" r="2.15" fill="#000" />
<circle cx="222.80" cy="946.10" r="2.15" fill="#000" />
<text stroke="#000" stroke-width="0.15" font-size="7.00" text-anchor="middle" x="82.00" y="1007.15">DMH tanycyte</text>
<line x1="82.00" y1="995.20" x2="82.00" y2="997.80" stroke="#000" stroke-width="1.0" />
<text stroke="#000" stroke-width="0.15" font-size="7.00" text-anchor="middle" x="146.80" y="1007.15">VMH tanycyte</text>
<line x1="146.80" y1="995.20" x2="146.80" y2="997.80" stroke="#000" stroke-width="1.0" />
<text stroke="#000" stroke-width="0.15" font-size="7.00" text-anchor="middle" x="208.50" y="1007.15">ARH tanycyte</text>
<line x1="208.50" y1="995.20" x2="208.50" y2="997.80" stroke="#000" stroke-width="1.0" />
<path d="M70.40 903.70V899.50H94.60V938.00" fill="none" stroke="#000" stroke-width="0.75" />
<text font-size="12.00" text-anchor="middle" font-weight="bold" fill="#111" x="82.30" y="900.60">*</text>
<path d="M135.20 927.60V899.50H159.40V934.60" fill="none" stroke="#000" stroke-width="0.75" />
<text font-size="12.00" text-anchor="middle" font-weight="bold" fill="#111" x="148.90" y="900.60">**</text>
<path d="M196.90 918.80V899.50H220.70V923.40" fill="none" stroke="#000" stroke-width="0.75" />
<text font-size="7.40" text-anchor="middle" fill="#111" x="208.80" y="896.89">ns</text>
<text font-size="15.00" text-anchor="middle" font-weight="bold" x="258.40" y="896.85">k</text>
<text font-size="7.25" text-anchor="middle" font-weight="bold" transform="translate(268.60 952.90) rotate(-90)" x="0" y="2.54">Mean number of VGlut2/</text>
<text font-size="6.90" text-anchor="middle" font-weight="bold" transform="translate(277.50 953.00) rotate(-90)" x="0" y="2.42">tanycyte contacts</text>
<path d="M297.00 899.50V995.20H417.80" fill="none" stroke="#000" stroke-width="1.1" />
<line x1="294.40" y1="995.20" x2="297.00" y2="995.20" stroke="#000" stroke-width="1.0" />
<text stroke="#000" stroke-width="0.12" font-size="7.90" text-anchor="end" x="293.60" y="998.04">0</text>
<line x1="294.40" y1="963.30" x2="297.00" y2="963.30" stroke="#000" stroke-width="1.0" />
<text stroke="#000" stroke-width="0.12" font-size="7.90" text-anchor="end" x="293.60" y="966.14">5</text>
<line x1="294.40" y1="931.40" x2="297.00" y2="931.40" stroke="#000" stroke-width="1.0" />
<text stroke="#000" stroke-width="0.12" font-size="7.90" text-anchor="end" x="293.60" y="934.24">10</text>
<line x1="294.40" y1="899.50" x2="297.00" y2="899.50" stroke="#000" stroke-width="1.0" />
<text stroke="#000" stroke-width="0.12" font-size="7.90" text-anchor="end" x="293.60" y="902.34">15</text>
<rect x="305.00" y="916.40" width="16.20" height="78.80" fill="#fff" stroke="#000" stroke-width="1.1" />
<line x1="313.10" y1="912.40" x2="313.10" y2="920.40" stroke="#000" stroke-width="0.8" />
<line x1="309.30" y1="912.40" x2="316.90" y2="912.40" stroke="#000" stroke-width="0.8" />
<line x1="309.30" y1="920.40" x2="316.90" y2="920.40" stroke="#000" stroke-width="0.8" />
<circle cx="313.00" cy="907.80" r="1.85" fill="#fff" stroke="#000" stroke-width="0.85" />
<circle cx="309.90" cy="917.00" r="1.85" fill="#fff" stroke="#000" stroke-width="0.85" />
<circle cx="316.60" cy="917.00" r="1.85" fill="#fff" stroke="#000" stroke-width="0.85" />
<circle cx="313.00" cy="924.70" r="1.85" fill="#fff" stroke="#000" stroke-width="0.85" />
<rect x="330.40" y="925.90" width="16.30" height="69.30" fill="#fff" stroke="#000" stroke-width="1.1" />
<line x1="338.55" y1="924.00" x2="338.55" y2="927.70" stroke="#000" stroke-width="0.8" />
<line x1="334.75" y1="924.00" x2="342.35" y2="924.00" stroke="#000" stroke-width="0.8" />
<line x1="334.75" y1="927.70" x2="342.35" y2="927.70" stroke="#000" stroke-width="0.8" />
<circle cx="338.40" cy="921.90" r="2.15" fill="#000" />
<circle cx="335.60" cy="927.10" r="2.15" fill="#000" />
<circle cx="341.50" cy="927.10" r="2.15" fill="#000" />
<rect x="371.80" y="934.20" width="16.00" height="61.00" fill="#fff" stroke="#000" stroke-width="1.1" />
<line x1="379.80" y1="930.20" x2="379.80" y2="937.80" stroke="#000" stroke-width="0.8" />
<line x1="376.00" y1="930.20" x2="383.60" y2="930.20" stroke="#000" stroke-width="0.8" />
<line x1="376.00" y1="937.80" x2="383.60" y2="937.80" stroke="#000" stroke-width="0.8" />
<circle cx="379.50" cy="925.00" r="1.85" fill="#fff" stroke="#000" stroke-width="0.85" />
<circle cx="376.40" cy="933.90" r="1.85" fill="#fff" stroke="#000" stroke-width="0.85" />
<circle cx="382.60" cy="933.90" r="1.85" fill="#fff" stroke="#000" stroke-width="0.85" />
<circle cx="379.50" cy="940.00" r="1.85" fill="#fff" stroke="#000" stroke-width="0.85" />
<rect x="397.00" y="919.10" width="16.20" height="76.10" fill="#fff" stroke="#000" stroke-width="1.1" />
<line x1="405.10" y1="916.40" x2="405.10" y2="921.90" stroke="#000" stroke-width="0.8" />
<line x1="401.30" y1="916.40" x2="408.90" y2="916.40" stroke="#000" stroke-width="0.8" />
<line x1="401.30" y1="921.90" x2="408.90" y2="921.90" stroke="#000" stroke-width="0.8" />
<circle cx="401.90" cy="916.40" r="2.15" fill="#000" />
<circle cx="408.00" cy="917.00" r="2.15" fill="#000" />
<circle cx="404.90" cy="923.40" r="2.15" fill="#000" />
<text stroke="#000" stroke-width="0.15" font-size="8.00" text-anchor="middle" x="325.80" y="1008.10">VMH tanycyte</text>
<line x1="325.80" y1="995.20" x2="325.80" y2="997.80" stroke="#000" stroke-width="1.0" />
<text stroke="#000" stroke-width="0.15" font-size="8.00" text-anchor="middle" x="392.40" y="1008.10">ARH tanycyte</text>
<line x1="392.40" y1="995.20" x2="392.40" y2="997.80" stroke="#000" stroke-width="1.0" />
<path d="M313.60 902.00V898.00H338.70V916.40" fill="none" stroke="#000" stroke-width="0.75" />
<text font-size="7.40" text-anchor="middle" fill="#111" x="326.10" y="895.39">ns</text>
<path d="M379.80 921.00V898.00H405.50V911.20" fill="none" stroke="#000" stroke-width="0.75" />
<text font-size="12.00" text-anchor="middle" font-weight="bold" fill="#111" x="392.70" y="899.60">*</text>
<text font-size="15.00" text-anchor="middle" font-weight="bold" x="448.50" y="896.65">l</text>
<text font-size="7.71" text-anchor="middle" font-weight="bold" transform="translate(455.80 951.40) rotate(-90)" x="0" y="2.70">Mean number of VGAT/</text>
<text font-size="7.41" text-anchor="middle" font-weight="bold" transform="translate(464.70 951.00) rotate(-90)" x="0" y="2.59">tanycyte contacts</text>
<path d="M487.30 895.70V994.80H617.80" fill="none" stroke="#000" stroke-width="1.1" />
<line x1="484.70" y1="994.80" x2="487.30" y2="994.80" stroke="#000" stroke-width="1.0" />
<text stroke="#000" stroke-width="0.12" font-size="7.90" text-anchor="end" x="483.90" y="997.64">0</text>
<line x1="484.70" y1="975.10" x2="487.30" y2="975.10" stroke="#000" stroke-width="1.0" />
<text stroke="#000" stroke-width="0.12" font-size="7.90" text-anchor="end" x="483.90" y="977.94">5</text>
<line x1="484.70" y1="955.40" x2="487.30" y2="955.40" stroke="#000" stroke-width="1.0" />
<text stroke="#000" stroke-width="0.12" font-size="7.90" text-anchor="end" x="483.90" y="958.24">10</text>
<line x1="484.70" y1="935.70" x2="487.30" y2="935.70" stroke="#000" stroke-width="1.0" />
<text stroke="#000" stroke-width="0.12" font-size="7.90" text-anchor="end" x="483.90" y="938.54">15</text>
<line x1="484.70" y1="916.00" x2="487.30" y2="916.00" stroke="#000" stroke-width="1.0" />
<text stroke="#000" stroke-width="0.12" font-size="7.90" text-anchor="end" x="483.90" y="918.84">20</text>
<line x1="484.70" y1="896.30" x2="487.30" y2="896.30" stroke="#000" stroke-width="1.0" />
<text stroke="#000" stroke-width="0.12" font-size="7.90" text-anchor="end" x="483.90" y="899.14">25</text>
<rect x="495.40" y="934.70" width="17.90" height="60.10" fill="#fff" stroke="#000" stroke-width="1.1" />
<line x1="504.35" y1="933.00" x2="504.35" y2="936.50" stroke="#000" stroke-width="0.8" />
<line x1="500.55" y1="933.00" x2="508.15" y2="933.00" stroke="#000" stroke-width="0.8" />
<line x1="500.55" y1="936.50" x2="508.15" y2="936.50" stroke="#000" stroke-width="0.8" />
<circle cx="497.20" cy="931.50" r="1.85" fill="#fff" stroke="#000" stroke-width="0.85" />
<circle cx="503.70" cy="931.50" r="1.85" fill="#fff" stroke="#000" stroke-width="0.85" />
<circle cx="506.50" cy="934.40" r="1.85" fill="#fff" stroke="#000" stroke-width="0.85" />
<circle cx="510.80" cy="935.10" r="1.85" fill="#fff" stroke="#000" stroke-width="0.85" />
<circle cx="497.20" cy="937.90" r="1.85" fill="#fff" stroke="#000" stroke-width="0.85" />
<rect x="522.30" y="930.80" width="17.10" height="64.00" fill="#fff" stroke="#000" stroke-width="1.1" />
<line x1="530.85" y1="923.30" x2="530.85" y2="939.40" stroke="#000" stroke-width="0.8" />
<line x1="527.05" y1="923.30" x2="534.65" y2="923.30" stroke="#000" stroke-width="0.8" />
<line x1="527.05" y1="939.40" x2="534.65" y2="939.40" stroke="#000" stroke-width="0.8" />
<circle cx="530.50" cy="920.40" r="2.15" fill="#000" />
<circle cx="530.50" cy="929.70" r="2.15" fill="#000" />
<circle cx="530.50" cy="943.00" r="2.15" fill="#000" />
<rect x="565.20" y="944.00" width="17.10" height="50.80" fill="#fff" stroke="#000" stroke-width="1.1" />
<line x1="573.75" y1="942.60" x2="573.75" y2="945.50" stroke="#000" stroke-width="0.8" />
<line x1="569.95" y1="942.60" x2="577.55" y2="942.60" stroke="#000" stroke-width="0.8" />
<line x1="569.95" y1="945.50" x2="577.55" y2="945.50" stroke="#000" stroke-width="0.8" />
<circle cx="566.60" cy="941.50" r="1.85" fill="#fff" stroke="#000" stroke-width="0.85" />
<circle cx="573.00" cy="943.30" r="1.85" fill="#fff" stroke="#000" stroke-width="0.85" />
<circle cx="579.50" cy="943.70" r="1.85" fill="#fff" stroke="#000" stroke-width="0.85" />
<circle cx="567.00" cy="945.80" r="1.85" fill="#fff" stroke="#000" stroke-width="0.85" />
<rect x="591.30" y="915.10" width="17.50" height="79.70" fill="#fff" stroke="#000" stroke-width="1.1" />
<line x1="600.05" y1="911.80" x2="600.05" y2="918.60" stroke="#000" stroke-width="0.8" />
<line x1="596.25" y1="911.80" x2="603.85" y2="911.80" stroke="#000" stroke-width="0.8" />
<line x1="596.25" y1="918.60" x2="603.85" y2="918.60" stroke="#000" stroke-width="0.8" />
<circle cx="599.90" cy="910.00" r="2.15" fill="#000" />
<circle cx="599.20" cy="913.60" r="2.15" fill="#000" />
<circle cx="599.90" cy="918.60" r="2.15" fill="#000" />
<text stroke="#000" stroke-width="0.15" font-size="8.00" text-anchor="middle" x="516.90" y="1006.70">VMH tanycyte</text>
<line x1="516.90" y1="994.80" x2="516.90" y2="997.40" stroke="#000" stroke-width="1.0" />
<text stroke="#000" stroke-width="0.15" font-size="8.00" text-anchor="middle" x="585.90" y="1006.70">ARH tanycyte</text>
<line x1="585.90" y1="994.80" x2="585.90" y2="997.40" stroke="#000" stroke-width="1.0" />
<path d="M504.40 926.90V900.00H530.80V916.10" fill="none" stroke="#000" stroke-width="0.75" />
<text font-size="7.40" text-anchor="middle" fill="#111" x="517.60" y="896.19">ns</text>
<path d="M573.40 937.60V900.00H599.90V905.40" fill="none" stroke="#000" stroke-width="0.75" />
<text font-size="12.00" text-anchor="middle" font-weight="bold" fill="#111" x="585.90" y="900.40">***</text>
<circle cx="625.60" cy="896.50" r="2.00" fill="#fff" stroke="#000" stroke-width="0.8" />
<text font-size="8.10" font-weight="bold" x="633.10" y="899.44">Fed</text>
<circle cx="625.60" cy="909.70" r="2.30" fill="#000" />
<text font-size="8.09" font-weight="bold" x="633.10" y="912.63">24h-Fasting</text>
</svg>
</body></html>
